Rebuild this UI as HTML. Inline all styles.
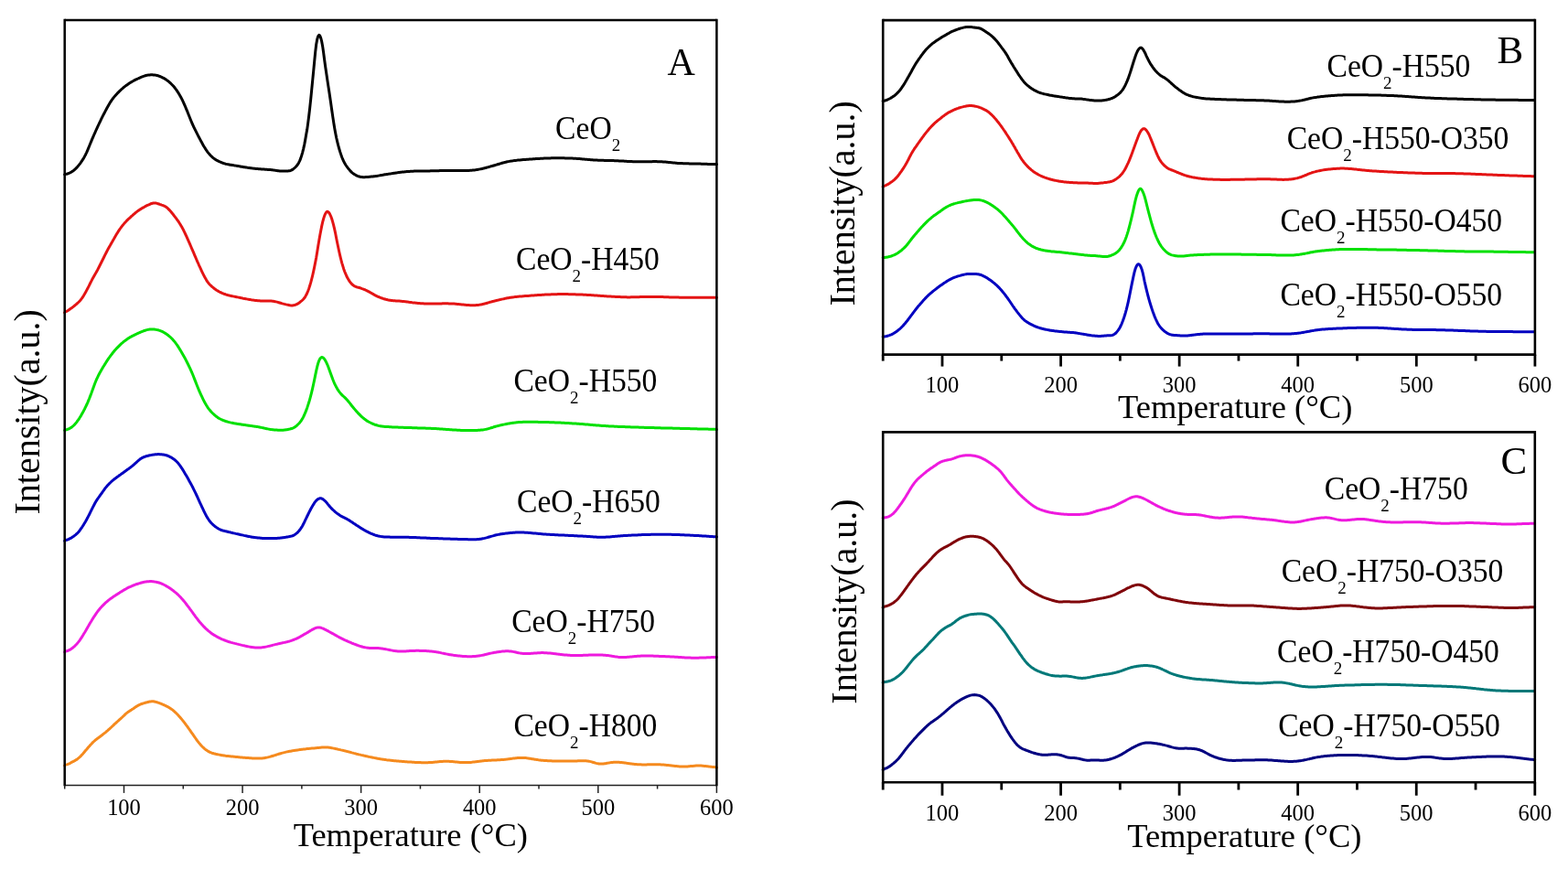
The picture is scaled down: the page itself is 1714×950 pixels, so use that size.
<!DOCTYPE html>
<html><head><meta charset="utf-8"><title>TPR profiles</title>
<style>html,body{margin:0;padding:0;background:#fff;}svg{display:block;}</style></head>
<body><svg width="1714" height="950" viewBox="0 0 1714 950" font-family="Liberation Serif, Times New Roman, serif" fill="#000">
<rect width="1714" height="950" fill="#fff"/>
<g><path d="M70.7 190.8L71.7 190.4L72.7 190.2L73.7 190.0L74.7 189.6L75.7 189.2L76.7 188.8L77.7 188.2L78.7 187.6L79.7 186.9L80.7 186.2L81.7 185.3L82.7 184.4L83.7 183.4L84.7 182.3L85.7 181.1L86.7 179.9L87.7 178.6L88.7 177.2L89.7 175.7L90.7 174.2L91.7 172.5L92.7 170.6L93.7 168.7L94.7 166.6L95.7 164.3L96.7 161.9L97.7 159.5L98.7 157.0L99.7 154.6L100.7 152.2L101.7 149.8L102.7 147.5L103.7 145.3L104.7 143.0L105.7 140.8L106.7 138.7L107.7 136.5L108.7 134.4L109.7 132.3L110.7 130.2L111.7 128.2L112.7 126.2L113.7 124.3L114.7 122.3L115.7 120.4L116.7 118.6L117.7 116.8L118.7 115.0L119.7 113.3L120.7 111.6L121.7 110.1L122.7 108.7L123.7 107.3L124.7 106.1L125.7 104.9L126.7 103.8L127.7 102.7L128.7 101.6L129.7 100.6L130.7 99.6L131.7 98.7L132.7 97.7L133.7 96.9L134.7 96.0L135.7 95.2L136.7 94.4L137.7 93.6L138.7 92.9L139.7 92.2L140.7 91.5L141.7 90.8L142.7 90.2L143.7 89.6L144.7 89.0L145.7 88.5L146.7 87.9L147.7 87.4L148.7 86.9L149.7 86.5L150.7 86.0L151.7 85.5L152.7 85.1L153.7 84.6L154.7 84.2L155.7 83.8L156.7 83.4L157.7 83.1L158.7 82.8L159.7 82.5L160.7 82.3L161.7 82.1L162.7 82.0L163.7 81.9L164.7 81.8L165.7 81.8L166.7 81.8L167.7 81.9L168.7 82.0L169.7 82.1L170.7 82.3L171.7 82.5L172.7 82.8L173.7 83.1L174.7 83.5L175.7 83.9L176.7 84.3L177.7 84.8L178.7 85.3L179.7 85.9L180.7 86.5L181.7 87.1L182.7 87.9L183.7 88.6L184.7 89.4L185.7 90.3L186.7 91.2L187.7 92.2L188.7 93.2L189.7 94.3L190.7 95.5L191.7 96.8L192.7 98.1L193.7 99.6L194.7 101.1L195.7 102.7L196.7 104.4L197.7 106.2L198.7 108.1L199.7 110.2L200.7 112.3L201.7 114.6L202.7 116.9L203.7 119.3L204.7 121.7L205.7 124.2L206.7 126.7L207.7 129.2L208.7 131.7L209.7 134.1L210.7 136.4L211.7 138.6L212.7 140.7L213.7 142.7L214.7 144.7L215.7 146.6L216.7 148.6L217.7 150.5L218.7 152.4L219.7 154.3L220.7 156.1L221.7 157.9L222.7 159.7L223.7 161.3L224.7 162.9L225.7 164.4L226.7 165.8L227.7 167.1L228.7 168.3L229.7 169.4L230.7 170.5L231.7 171.4L232.7 172.3L233.7 173.1L234.7 173.9L235.7 174.5L236.7 175.1L237.7 175.6L238.7 176.1L239.7 176.6L240.7 177.0L241.7 177.5L242.7 177.9L243.7 178.3L244.7 178.6L245.7 178.9L246.7 179.2L247.7 179.4L248.7 179.6L249.7 179.8L250.7 180.0L251.7 180.2L252.7 180.3L253.7 180.5L254.7 180.6L255.7 180.8L256.7 180.9L257.7 181.1L258.7 181.3L259.7 181.5L260.7 181.6L261.7 181.8L262.7 182.0L263.7 182.2L264.7 182.3L265.7 182.5L266.7 182.7L267.7 182.8L268.7 183.0L269.7 183.1L270.7 183.3L271.7 183.4L272.7 183.5L273.7 183.7L274.7 183.8L275.7 183.9L276.7 184.1L277.7 184.2L278.7 184.3L279.7 184.4L280.7 184.5L281.7 184.6L282.7 184.7L283.7 184.7L284.7 184.8L285.7 184.9L286.7 185.0L287.7 185.0L288.7 185.1L289.7 185.2L290.7 185.2L291.7 185.3L292.7 185.4L293.7 185.5L294.7 185.5L295.7 185.6L296.7 185.7L297.7 185.8L298.7 185.9L299.7 186.1L300.7 186.2L301.7 186.4L302.7 186.5L303.7 186.7L304.7 186.8L305.7 186.9L306.7 187.0L307.7 187.0L308.7 187.0L309.7 187.0L310.7 187.0L311.7 187.0L312.7 187.0L313.7 187.0L314.7 186.9L315.7 186.8L316.7 186.7L317.7 186.4L318.7 186.0L319.7 185.4L320.7 184.7L321.7 183.9L322.7 183.0L323.7 182.0L324.7 180.8L325.7 179.4L326.7 177.7L327.7 175.6L328.7 173.1L329.7 170.0L330.7 166.6L331.7 162.6L332.7 158.1L333.7 152.9L334.7 147.1L335.7 141.6L336.7 134.4L337.7 126.5L338.7 117.9L339.7 108.3L340.7 98.1L341.7 87.8L342.7 77.7L343.7 67.1L344.7 56.9L345.7 48.5L346.7 43.0L347.7 39.7L348.7 38.3L349.7 39.0L350.7 41.5L351.7 45.4L352.7 50.9L353.7 58.0L354.7 65.7L355.7 73.0L356.7 79.8L357.7 86.5L358.7 93.1L359.7 99.6L360.7 106.3L361.7 113.1L362.7 120.2L363.7 127.1L364.7 133.7L365.7 139.9L366.7 145.5L367.7 150.5L368.7 154.9L369.7 158.9L370.7 162.5L371.7 165.9L372.7 168.9L373.7 171.7L374.7 174.2L375.7 176.4L376.7 178.3L377.7 180.0L378.7 181.5L379.7 182.9L380.7 184.2L381.7 185.4L382.7 186.6L383.7 187.6L384.7 188.6L385.7 189.4L386.7 190.1L387.7 190.7L388.7 191.3L389.7 191.8L390.7 192.3L391.7 192.7L392.7 193.0L393.7 193.3L394.7 193.5L395.7 193.6L396.7 193.7L397.7 193.7L398.7 193.7L399.7 193.6L400.7 193.5L401.7 193.4L402.7 193.4L403.7 193.3L404.7 193.2L405.7 193.1L406.7 193.1L407.7 193.0L408.7 192.8L409.7 192.7L410.7 192.6L411.7 192.4L412.7 192.3L413.7 192.1L414.7 191.9L415.7 191.7L416.7 191.5L417.7 191.4L418.7 191.2L419.7 191.0L420.7 190.8L421.7 190.7L422.7 190.5L423.7 190.4L424.7 190.2L425.7 190.1L426.7 189.9L427.7 189.8L428.7 189.6L429.7 189.5L430.7 189.3L431.7 189.2L432.7 189.0L433.7 188.9L434.7 188.7L435.7 188.6L436.7 188.5L437.7 188.3L438.7 188.2L439.7 188.1L440.7 188.0L441.7 187.9L442.7 187.8L443.7 187.7L444.7 187.6L445.7 187.5L446.7 187.4L447.7 187.4L448.7 187.3L449.7 187.2L450.7 187.2L451.7 187.2L452.7 187.1L453.7 187.1L454.7 187.1L455.7 187.1L456.7 187.0L457.7 187.0L458.7 187.0L459.7 187.0L460.7 187.0L461.7 187.0L462.7 187.0L463.7 187.0L464.7 187.0L465.7 186.9L466.7 186.9L467.7 186.9L468.7 186.9L469.7 186.9L470.7 186.8L471.7 186.8L472.7 186.8L473.7 186.8L474.7 186.8L475.7 186.7L476.7 186.7L477.7 186.7L478.7 186.7L479.7 186.7L480.7 186.6L481.7 186.6L482.7 186.6L483.7 186.6L484.7 186.6L485.7 186.5L486.7 186.5L487.7 186.5L488.7 186.5L489.7 186.4L490.7 186.4L491.7 186.4L492.7 186.4L493.7 186.4L494.7 186.4L495.7 186.4L496.7 186.4L497.7 186.4L498.7 186.4L499.7 186.4L500.7 186.4L501.7 186.4L502.7 186.4L503.7 186.5L504.7 186.5L505.7 186.5L506.7 186.5L507.7 186.5L508.7 186.5L509.7 186.5L510.7 186.4L511.7 186.4L512.7 186.4L513.7 186.3L514.7 186.3L515.7 186.2L516.7 186.1L517.7 186.0L518.7 185.9L519.7 185.8L520.7 185.6L521.7 185.5L522.7 185.3L523.7 185.1L524.7 184.9L525.7 184.7L526.7 184.5L527.7 184.2L528.7 184.0L529.7 183.7L530.7 183.5L531.7 183.2L532.7 182.9L533.7 182.7L534.7 182.4L535.7 182.1L536.7 181.8L537.7 181.6L538.7 181.3L539.7 181.0L540.7 180.7L541.7 180.4L542.7 180.1L543.7 179.8L544.7 179.5L545.7 179.2L546.7 178.9L547.7 178.6L548.7 178.3L549.7 178.0L550.7 177.8L551.7 177.5L552.7 177.3L553.7 177.0L554.7 176.8L555.7 176.6L556.7 176.4L557.7 176.2L558.7 176.1L559.7 175.9L560.7 175.8L561.7 175.6L562.7 175.5L563.7 175.4L564.7 175.3L565.7 175.1L566.7 175.0L567.7 175.0L568.7 174.9L569.7 174.8L570.7 174.7L571.7 174.6L572.7 174.5L573.7 174.5L574.7 174.4L575.7 174.3L576.7 174.3L577.7 174.2L578.7 174.1L579.7 174.1L580.7 174.0L581.7 173.9L582.7 173.8L583.7 173.8L584.7 173.7L585.7 173.6L586.7 173.6L587.7 173.5L588.7 173.4L589.7 173.4L590.7 173.3L591.7 173.3L592.7 173.2L593.7 173.2L594.7 173.1L595.7 173.1L596.7 173.0L597.7 173.0L598.7 173.0L599.7 172.9L600.7 172.9L601.7 172.9L602.7 172.8L603.7 172.8L604.7 172.8L605.7 172.8L606.7 172.8L607.7 172.8L608.7 172.8L609.7 172.8L610.7 172.8L611.7 172.8L612.7 172.8L613.7 172.8L614.7 172.8L615.7 172.8L616.7 172.8L617.7 172.9L618.7 172.9L619.7 172.9L620.7 172.9L621.7 173.0L622.7 173.0L623.7 173.0L624.7 173.1L625.7 173.1L626.7 173.2L627.7 173.2L628.7 173.3L629.7 173.3L630.7 173.4L631.7 173.5L632.7 173.5L633.7 173.6L634.7 173.7L635.7 173.8L636.7 173.9L637.7 174.0L638.7 174.1L639.7 174.2L640.7 174.2L641.7 174.3L642.7 174.4L643.7 174.5L644.7 174.6L645.7 174.7L646.7 174.8L647.7 174.8L648.7 174.9L649.7 175.0L650.7 175.0L651.7 175.1L652.7 175.1L653.7 175.2L654.7 175.2L655.7 175.2L656.7 175.3L657.7 175.3L658.7 175.3L659.7 175.3L660.7 175.4L661.7 175.4L662.7 175.4L663.7 175.4L664.7 175.5L665.7 175.5L666.7 175.5L667.7 175.5L668.7 175.6L669.7 175.6L670.7 175.6L671.7 175.7L672.7 175.7L673.7 175.7L674.7 175.8L675.7 175.8L676.7 175.9L677.7 175.9L678.7 176.0L679.7 176.0L680.7 176.1L681.7 176.1L682.7 176.2L683.7 176.2L684.7 176.3L685.7 176.4L686.7 176.4L687.7 176.5L688.7 176.5L689.7 176.6L690.7 176.6L691.7 176.7L692.7 176.7L693.7 176.7L694.7 176.8L695.7 176.8L696.7 176.8L697.7 176.8L698.7 176.8L699.7 176.8L700.7 176.8L701.7 176.8L702.7 176.8L703.7 176.8L704.7 176.8L705.7 176.8L706.7 176.8L707.7 176.7L708.7 176.7L709.7 176.7L710.7 176.7L711.7 176.7L712.7 176.7L713.7 176.6L714.7 176.6L715.7 176.6L716.7 176.6L717.7 176.6L718.7 176.7L719.7 176.7L720.7 176.7L721.7 176.7L722.7 176.8L723.7 176.8L724.7 176.9L725.7 177.0L726.7 177.1L727.7 177.1L728.7 177.2L729.7 177.3L730.7 177.4L731.7 177.5L732.7 177.6L733.7 177.7L734.7 177.8L735.7 177.9L736.7 178.0L737.7 178.1L738.7 178.2L739.7 178.3L740.7 178.4L741.7 178.4L742.7 178.5L743.7 178.5L744.7 178.6L745.7 178.6L746.7 178.7L747.7 178.7L748.7 178.7L749.7 178.8L750.7 178.8L751.7 178.8L752.7 178.8L753.7 178.9L754.7 178.9L755.7 178.9L756.7 178.9L757.7 179.0L758.7 179.0L759.7 179.0L760.7 179.0L761.7 179.0L762.7 179.1L763.7 179.1L764.7 179.1L765.7 179.1L766.7 179.2L767.7 179.2L768.7 179.2L769.7 179.3L770.7 179.3L771.7 179.3L772.7 179.3L773.7 179.4L774.7 179.4L775.7 179.4L776.7 179.4L777.7 179.5L778.7 179.5L779.7 179.5L780.7 179.5L781.7 179.5L782.7 179.6L783.4 179.6" fill="none" stroke="#000000" stroke-width="3.0" stroke-linejoin="round" stroke-linecap="round"/>
<path d="M70.7 341.8L71.7 340.7L72.7 340.3L73.7 339.8L74.7 339.2L75.7 338.5L76.7 337.8L77.7 337.1L78.7 336.4L79.7 335.6L80.7 334.8L81.7 334.0L82.7 333.2L83.7 332.3L84.7 331.4L85.7 330.5L86.7 329.5L87.7 328.4L88.7 327.2L89.7 325.9L90.7 324.4L91.7 322.8L92.7 321.1L93.7 319.3L94.7 317.4L95.7 315.5L96.7 313.6L97.7 311.6L98.7 309.5L99.7 307.6L100.7 305.6L101.7 303.8L102.7 302.0L103.7 300.2L104.7 298.5L105.7 296.7L106.7 294.9L107.7 293.0L108.7 291.0L109.7 289.0L110.7 287.0L111.7 285.0L112.7 283.0L113.7 281.0L114.7 278.9L115.7 277.0L116.7 275.0L117.7 273.1L118.7 271.3L119.7 269.5L120.7 267.8L121.7 266.0L122.7 264.3L123.7 262.5L124.7 260.8L125.7 259.0L126.7 257.3L127.7 255.6L128.7 254.0L129.7 252.4L130.7 250.9L131.7 249.5L132.7 248.1L133.7 246.8L134.7 245.6L135.7 244.4L136.7 243.2L137.7 242.2L138.7 241.1L139.7 240.1L140.7 239.2L141.7 238.3L142.7 237.4L143.7 236.4L144.7 235.6L145.7 234.7L146.7 233.8L147.7 233.0L148.7 232.2L149.7 231.4L150.7 230.6L151.7 229.9L152.7 229.2L153.7 228.6L154.7 228.0L155.7 227.4L156.7 226.8L157.7 226.3L158.7 225.7L159.7 225.2L160.7 224.7L161.7 224.2L162.7 223.8L163.7 223.3L164.7 222.8L165.7 222.5L166.7 222.2L167.7 222.0L168.7 221.9L169.7 222.0L170.7 222.1L171.7 222.4L172.7 222.7L173.7 223.0L174.7 223.4L175.7 223.7L176.7 224.1L177.7 224.4L178.7 224.8L179.7 225.2L180.7 225.8L181.7 226.4L182.7 227.2L183.7 228.1L184.7 229.1L185.7 230.1L186.7 231.3L187.7 232.5L188.7 233.7L189.7 235.0L190.7 236.3L191.7 237.6L192.7 238.9L193.7 240.3L194.7 241.7L195.7 243.2L196.7 244.8L197.7 246.4L198.7 248.1L199.7 249.9L200.7 251.8L201.7 253.9L202.7 256.0L203.7 258.1L204.7 260.4L205.7 262.6L206.7 264.9L207.7 267.2L208.7 269.5L209.7 271.8L210.7 274.1L211.7 276.4L212.7 278.8L213.7 281.1L214.7 283.5L215.7 285.8L216.7 288.0L217.7 290.3L218.7 292.4L219.7 294.6L220.7 296.8L221.7 298.9L222.7 300.9L223.7 302.8L224.7 304.6L225.7 306.3L226.7 307.8L227.7 309.2L228.7 310.4L229.7 311.5L230.7 312.4L231.7 313.4L232.7 314.2L233.7 315.0L234.7 315.8L235.7 316.5L236.7 317.2L237.7 317.8L238.7 318.4L239.7 319.0L240.7 319.5L241.7 319.9L242.7 320.4L243.7 320.8L244.7 321.2L245.7 321.5L246.7 321.9L247.7 322.2L248.7 322.6L249.7 322.8L250.7 323.1L251.7 323.3L252.7 323.5L253.7 323.7L254.7 323.9L255.7 324.1L256.7 324.3L257.7 324.5L258.7 324.7L259.7 324.9L260.7 325.1L261.7 325.3L262.7 325.5L263.7 325.7L264.7 325.9L265.7 326.2L266.7 326.4L267.7 326.5L268.7 326.7L269.7 326.9L270.7 327.1L271.7 327.3L272.7 327.5L273.7 327.6L274.7 327.8L275.7 327.9L276.7 328.1L277.7 328.2L278.7 328.4L279.7 328.5L280.7 328.6L281.7 328.7L282.7 328.8L283.7 328.8L284.7 328.9L285.7 328.9L286.7 328.9L287.7 328.9L288.7 328.9L289.7 328.9L290.7 328.9L291.7 328.9L292.7 329.0L293.7 329.0L294.7 329.0L295.7 329.1L296.7 329.1L297.7 329.2L298.7 329.3L299.7 329.5L300.7 329.7L301.7 329.9L302.7 330.1L303.7 330.4L304.7 330.7L305.7 331.0L306.7 331.3L307.7 331.6L308.7 331.9L309.7 332.1L310.7 332.4L311.7 332.6L312.7 332.9L313.7 333.1L314.7 333.3L315.7 333.5L316.7 333.7L317.7 333.9L318.7 334.0L319.7 334.0L320.7 333.8L321.7 333.6L322.7 333.3L323.7 332.9L324.7 332.5L325.7 331.9L326.7 331.2L327.7 330.5L328.7 329.7L329.7 328.9L330.7 328.0L331.7 327.0L332.7 325.8L333.7 324.3L334.7 322.6L335.7 320.5L336.7 318.1L337.7 315.4L338.7 312.3L339.7 308.9L340.7 305.1L341.7 301.1L342.7 296.7L343.7 291.9L344.7 286.7L345.7 281.6L346.7 275.5L347.7 269.2L348.7 263.3L349.7 257.6L350.7 252.2L351.7 247.1L352.7 242.7L353.7 239.0L354.7 235.9L355.7 233.5L356.7 232.0L357.7 231.3L358.7 231.6L359.7 232.6L360.7 234.3L361.7 236.5L362.7 239.3L363.7 242.6L364.7 246.4L365.7 250.6L366.7 255.3L367.7 260.5L368.7 265.5L369.7 270.3L370.7 275.0L371.7 279.4L372.7 283.5L373.7 287.3L374.7 290.7L375.7 293.9L376.7 296.7L377.7 299.2L378.7 301.5L379.7 303.5L380.7 305.3L381.7 306.9L382.7 308.4L383.7 309.6L384.7 310.7L385.7 311.6L386.7 312.3L387.7 312.9L388.7 313.3L389.7 313.7L390.7 314.0L391.7 314.2L392.7 314.5L393.7 314.8L394.7 315.2L395.7 315.6L396.7 315.9L397.7 316.3L398.7 316.7L399.7 317.2L400.7 317.6L401.7 318.1L402.7 318.6L403.7 319.1L404.7 319.7L405.7 320.3L406.7 320.9L407.7 321.4L408.7 322.0L409.7 322.6L410.7 323.1L411.7 323.6L412.7 324.1L413.7 324.5L414.7 324.9L415.7 325.3L416.7 325.7L417.7 326.0L418.7 326.4L419.7 326.7L420.7 327.0L421.7 327.3L422.7 327.5L423.7 327.8L424.7 328.0L425.7 328.2L426.7 328.3L427.7 328.5L428.7 328.6L429.7 328.7L430.7 328.8L431.7 328.8L432.7 328.9L433.7 328.9L434.7 329.0L435.7 329.0L436.7 329.1L437.7 329.2L438.7 329.3L439.7 329.4L440.7 329.5L441.7 329.6L442.7 329.7L443.7 329.8L444.7 330.0L445.7 330.1L446.7 330.2L447.7 330.4L448.7 330.5L449.7 330.6L450.7 330.8L451.7 330.9L452.7 331.0L453.7 331.1L454.7 331.2L455.7 331.3L456.7 331.4L457.7 331.5L458.7 331.6L459.7 331.7L460.7 331.7L461.7 331.8L462.7 331.8L463.7 331.9L464.7 331.9L465.7 331.9L466.7 331.9L467.7 332.0L468.7 332.0L469.7 332.0L470.7 332.0L471.7 332.0L472.7 332.0L473.7 332.0L474.7 332.0L475.7 331.9L476.7 331.9L477.7 331.9L478.7 331.9L479.7 331.9L480.7 331.9L481.7 331.9L482.7 331.9L483.7 331.8L484.7 331.8L485.7 331.8L486.7 331.8L487.7 331.8L488.7 331.8L489.7 331.8L490.7 331.9L491.7 331.9L492.7 331.9L493.7 331.9L494.7 332.0L495.7 332.0L496.7 332.1L497.7 332.2L498.7 332.3L499.7 332.4L500.7 332.5L501.7 332.6L502.7 332.7L503.7 332.8L504.7 332.9L505.7 333.0L506.7 333.1L507.7 333.2L508.7 333.3L509.7 333.4L510.7 333.5L511.7 333.5L512.7 333.6L513.7 333.7L514.7 333.7L515.7 333.7L516.7 333.7L517.7 333.7L518.7 333.7L519.7 333.7L520.7 333.6L521.7 333.5L522.7 333.4L523.7 333.3L524.7 333.1L525.7 333.0L526.7 332.8L527.7 332.5L528.7 332.3L529.7 332.0L530.7 331.8L531.7 331.5L532.7 331.2L533.7 330.9L534.7 330.6L535.7 330.3L536.7 330.1L537.7 329.8L538.7 329.5L539.7 329.3L540.7 329.0L541.7 328.8L542.7 328.5L543.7 328.3L544.7 328.1L545.7 327.8L546.7 327.6L547.7 327.3L548.7 327.1L549.7 326.9L550.7 326.7L551.7 326.4L552.7 326.2L553.7 326.0L554.7 325.8L555.7 325.7L556.7 325.5L557.7 325.3L558.7 325.2L559.7 325.0L560.7 324.9L561.7 324.8L562.7 324.6L563.7 324.5L564.7 324.4L565.7 324.3L566.7 324.2L567.7 324.1L568.7 324.0L569.7 323.9L570.7 323.9L571.7 323.8L572.7 323.7L573.7 323.6L574.7 323.6L575.7 323.5L576.7 323.4L577.7 323.4L578.7 323.3L579.7 323.2L580.7 323.1L581.7 323.1L582.7 323.0L583.7 322.9L584.7 322.8L585.7 322.8L586.7 322.7L587.7 322.6L588.7 322.6L589.7 322.5L590.7 322.4L591.7 322.4L592.7 322.3L593.7 322.3L594.7 322.2L595.7 322.1L596.7 322.1L597.7 322.0L598.7 322.0L599.7 322.0L600.7 321.9L601.7 321.9L602.7 321.8L603.7 321.8L604.7 321.8L605.7 321.7L606.7 321.7L607.7 321.7L608.7 321.7L609.7 321.6L610.7 321.6L611.7 321.6L612.7 321.6L613.7 321.6L614.7 321.6L615.7 321.6L616.7 321.6L617.7 321.6L618.7 321.6L619.7 321.6L620.7 321.6L621.7 321.7L622.7 321.7L623.7 321.7L624.7 321.7L625.7 321.7L626.7 321.8L627.7 321.8L628.7 321.8L629.7 321.9L630.7 321.9L631.7 321.9L632.7 322.0L633.7 322.0L634.7 322.1L635.7 322.1L636.7 322.1L637.7 322.2L638.7 322.2L639.7 322.3L640.7 322.3L641.7 322.4L642.7 322.4L643.7 322.5L644.7 322.6L645.7 322.6L646.7 322.7L647.7 322.8L648.7 322.8L649.7 322.9L650.7 323.0L651.7 323.1L652.7 323.1L653.7 323.2L654.7 323.3L655.7 323.3L656.7 323.4L657.7 323.5L658.7 323.6L659.7 323.6L660.7 323.7L661.7 323.7L662.7 323.8L663.7 323.9L664.7 323.9L665.7 324.0L666.7 324.0L667.7 324.1L668.7 324.2L669.7 324.2L670.7 324.3L671.7 324.3L672.7 324.4L673.7 324.5L674.7 324.5L675.7 324.6L676.7 324.6L677.7 324.6L678.7 324.7L679.7 324.7L680.7 324.8L681.7 324.8L682.7 324.8L683.7 324.8L684.7 324.8L685.7 324.9L686.7 324.9L687.7 324.9L688.7 324.9L689.7 324.8L690.7 324.8L691.7 324.8L692.7 324.8L693.7 324.8L694.7 324.8L695.7 324.7L696.7 324.7L697.7 324.7L698.7 324.7L699.7 324.6L700.7 324.6L701.7 324.6L702.7 324.5L703.7 324.5L704.7 324.5L705.7 324.5L706.7 324.5L707.7 324.4L708.7 324.4L709.7 324.4L710.7 324.4L711.7 324.4L712.7 324.4L713.7 324.4L714.7 324.4L715.7 324.4L716.7 324.4L717.7 324.5L718.7 324.5L719.7 324.5L720.7 324.5L721.7 324.5L722.7 324.6L723.7 324.6L724.7 324.6L725.7 324.7L726.7 324.7L727.7 324.7L728.7 324.8L729.7 324.8L730.7 324.8L731.7 324.9L732.7 324.9L733.7 324.9L734.7 324.9L735.7 325.0L736.7 325.0L737.7 325.0L738.7 325.1L739.7 325.1L740.7 325.1L741.7 325.1L742.7 325.2L743.7 325.2L744.7 325.2L745.7 325.2L746.7 325.2L747.7 325.2L748.7 325.2L749.7 325.2L750.7 325.3L751.7 325.3L752.7 325.3L753.7 325.3L754.7 325.3L755.7 325.3L756.7 325.3L757.7 325.3L758.7 325.3L759.7 325.3L760.7 325.3L761.7 325.3L762.7 325.3L763.7 325.3L764.7 325.3L765.7 325.3L766.7 325.3L767.7 325.3L768.7 325.2L769.7 325.2L770.7 325.2L771.7 325.2L772.7 325.2L773.7 325.2L774.7 325.2L775.7 325.2L776.7 325.2L777.7 325.2L778.7 325.2L779.7 325.2L780.7 325.2L781.7 325.2L782.7 325.2L783.4 325.2" fill="none" stroke="#e41414" stroke-width="3.0" stroke-linejoin="round" stroke-linecap="round"/>
<path d="M70.7 470.6L71.7 470.0L72.7 469.8L73.7 469.4L74.7 469.0L75.7 468.6L76.7 468.0L77.7 467.4L78.7 466.7L79.7 465.9L80.7 465.0L81.7 463.9L82.7 462.8L83.7 461.6L84.7 460.2L85.7 458.8L86.7 457.3L87.7 455.7L88.7 454.1L89.7 452.3L90.7 450.5L91.7 448.6L92.7 446.7L93.7 444.6L94.7 442.5L95.7 440.3L96.7 437.9L97.7 435.5L98.7 432.9L99.7 430.3L100.7 427.5L101.7 424.7L102.7 422.0L103.7 419.3L104.7 416.8L105.7 414.4L106.7 412.3L107.7 410.2L108.7 408.3L109.7 406.5L110.7 404.7L111.7 403.0L112.7 401.3L113.7 399.7L114.7 398.1L115.7 396.5L116.7 394.9L117.7 393.4L118.7 391.9L119.7 390.5L120.7 389.1L121.7 387.8L122.7 386.5L123.7 385.2L124.7 384.0L125.7 382.8L126.7 381.7L127.7 380.6L128.7 379.6L129.7 378.6L130.7 377.6L131.7 376.6L132.7 375.7L133.7 374.9L134.7 374.0L135.7 373.2L136.7 372.4L137.7 371.7L138.7 371.0L139.7 370.3L140.7 369.6L141.7 369.0L142.7 368.4L143.7 367.9L144.7 367.3L145.7 366.8L146.7 366.3L147.7 365.8L148.7 365.3L149.7 364.9L150.7 364.4L151.7 364.0L152.7 363.5L153.7 363.1L154.7 362.7L155.7 362.3L156.7 361.9L157.7 361.5L158.7 361.2L159.7 360.9L160.7 360.6L161.7 360.4L162.7 360.2L163.7 360.1L164.7 360.0L165.7 360.0L166.7 360.0L167.7 360.0L168.7 360.1L169.7 360.2L170.7 360.4L171.7 360.6L172.7 360.8L173.7 361.1L174.7 361.4L175.7 361.8L176.7 362.2L177.7 362.7L178.7 363.2L179.7 363.8L180.7 364.4L181.7 365.0L182.7 365.7L183.7 366.5L184.7 367.3L185.7 368.1L186.7 369.0L187.7 370.0L188.7 371.1L189.7 372.2L190.7 373.4L191.7 374.6L192.7 376.0L193.7 377.4L194.7 378.9L195.7 380.5L196.7 382.1L197.7 383.7L198.7 385.4L199.7 387.2L200.7 389.0L201.7 390.8L202.7 392.6L203.7 394.5L204.7 396.5L205.7 398.5L206.7 400.6L207.7 402.7L208.7 404.9L209.7 407.2L210.7 409.5L211.7 412.0L212.7 414.6L213.7 417.1L214.7 419.7L215.7 422.2L216.7 424.7L217.7 427.1L218.7 429.4L219.7 431.6L220.7 433.7L221.7 435.8L222.7 437.8L223.7 439.7L224.7 441.5L225.7 443.2L226.7 444.8L227.7 446.3L228.7 447.6L229.7 448.8L230.7 450.0L231.7 451.0L232.7 452.0L233.7 452.9L234.7 453.8L235.7 454.7L236.7 455.4L237.7 456.2L238.7 456.9L239.7 457.5L240.7 458.0L241.7 458.5L242.7 459.0L243.7 459.4L244.7 459.8L245.7 460.1L246.7 460.5L247.7 460.8L248.7 461.1L249.7 461.4L250.7 461.6L251.7 461.9L252.7 462.1L253.7 462.3L254.7 462.5L255.7 462.7L256.7 462.9L257.7 463.0L258.7 463.2L259.7 463.4L260.7 463.5L261.7 463.7L262.7 463.8L263.7 464.0L264.7 464.2L265.7 464.3L266.7 464.5L267.7 464.6L268.7 464.7L269.7 464.9L270.7 465.0L271.7 465.2L272.7 465.3L273.7 465.4L274.7 465.6L275.7 465.7L276.7 465.9L277.7 466.0L278.7 466.2L279.7 466.3L280.7 466.5L281.7 466.6L282.7 466.8L283.7 467.0L284.7 467.2L285.7 467.4L286.7 467.6L287.7 467.8L288.7 468.1L289.7 468.3L290.7 468.5L291.7 468.7L292.7 468.9L293.7 469.1L294.7 469.3L295.7 469.4L296.7 469.6L297.7 469.7L298.7 469.8L299.7 469.9L300.7 470.0L301.7 470.1L302.7 470.1L303.7 470.2L304.7 470.3L305.7 470.3L306.7 470.3L307.7 470.3L308.7 470.3L309.7 470.2L310.7 470.1L311.7 470.0L312.7 469.8L313.7 469.7L314.7 469.5L315.7 469.3L316.7 469.1L317.7 468.8L318.7 468.5L319.7 468.2L320.7 467.8L321.7 467.2L322.7 466.6L323.7 465.8L324.7 465.0L325.7 464.0L326.7 463.0L327.7 461.9L328.7 460.6L329.7 459.1L330.7 457.5L331.7 455.6L332.7 453.5L333.7 451.2L334.7 448.6L335.7 445.9L336.7 442.9L337.7 439.8L338.7 436.4L339.7 432.7L340.7 428.7L341.7 424.4L342.7 419.8L343.7 415.1L344.7 410.1L345.7 405.4L346.7 401.0L347.7 397.2L348.7 394.3L349.7 392.3L350.7 391.1L351.7 390.6L352.7 390.7L353.7 391.4L354.7 392.6L355.7 394.2L356.7 396.1L357.7 398.3L358.7 400.8L359.7 403.5L360.7 406.2L361.7 409.0L362.7 411.8L363.7 414.5L364.7 417.0L365.7 419.3L366.7 421.4L367.7 423.3L368.7 425.1L369.7 426.7L370.7 428.1L371.7 429.4L372.7 430.6L373.7 431.6L374.7 432.6L375.7 433.5L376.7 434.4L377.7 435.4L378.7 436.4L379.7 437.5L380.7 438.7L381.7 439.9L382.7 441.2L383.7 442.5L384.7 443.8L385.7 445.0L386.7 446.2L387.7 447.4L388.7 448.6L389.7 449.7L390.7 450.8L391.7 451.9L392.7 452.9L393.7 453.9L394.7 454.9L395.7 455.8L396.7 456.7L397.7 457.5L398.7 458.3L399.7 459.0L400.7 459.7L401.7 460.4L402.7 461.0L403.7 461.5L404.7 462.0L405.7 462.5L406.7 463.0L407.7 463.4L408.7 463.8L409.7 464.2L410.7 464.5L411.7 464.8L412.7 465.1L413.7 465.4L414.7 465.6L415.7 465.8L416.7 466.0L417.7 466.1L418.7 466.2L419.7 466.3L420.7 466.4L421.7 466.4L422.7 466.5L423.7 466.6L424.7 466.6L425.7 466.7L426.7 466.8L427.7 466.8L428.7 466.9L429.7 466.9L430.7 467.0L431.7 467.0L432.7 467.1L433.7 467.1L434.7 467.1L435.7 467.2L436.7 467.2L437.7 467.2L438.7 467.3L439.7 467.3L440.7 467.3L441.7 467.4L442.7 467.4L443.7 467.4L444.7 467.5L445.7 467.5L446.7 467.5L447.7 467.6L448.7 467.6L449.7 467.6L450.7 467.7L451.7 467.7L452.7 467.7L453.7 467.8L454.7 467.8L455.7 467.8L456.7 467.9L457.7 467.9L458.7 467.9L459.7 468.0L460.7 468.0L461.7 468.0L462.7 468.1L463.7 468.1L464.7 468.1L465.7 468.2L466.7 468.2L467.7 468.2L468.7 468.3L469.7 468.3L470.7 468.3L471.7 468.4L472.7 468.4L473.7 468.5L474.7 468.5L475.7 468.6L476.7 468.6L477.7 468.7L478.7 468.8L479.7 468.8L480.7 468.9L481.7 469.0L482.7 469.0L483.7 469.1L484.7 469.2L485.7 469.2L486.7 469.3L487.7 469.4L488.7 469.5L489.7 469.5L490.7 469.6L491.7 469.7L492.7 469.8L493.7 469.8L494.7 469.9L495.7 470.0L496.7 470.0L497.7 470.1L498.7 470.1L499.7 470.2L500.7 470.3L501.7 470.3L502.7 470.3L503.7 470.4L504.7 470.4L505.7 470.5L506.7 470.5L507.7 470.5L508.7 470.5L509.7 470.5L510.7 470.5L511.7 470.5L512.7 470.5L513.7 470.5L514.7 470.5L515.7 470.5L516.7 470.5L517.7 470.4L518.7 470.4L519.7 470.4L520.7 470.4L521.7 470.4L522.7 470.3L523.7 470.3L524.7 470.2L525.7 470.1L526.7 470.0L527.7 469.9L528.7 469.8L529.7 469.6L530.7 469.4L531.7 469.2L532.7 468.9L533.7 468.7L534.7 468.4L535.7 468.1L536.7 467.8L537.7 467.5L538.7 467.2L539.7 466.8L540.7 466.5L541.7 466.2L542.7 465.9L543.7 465.7L544.7 465.4L545.7 465.2L546.7 464.9L547.7 464.7L548.7 464.5L549.7 464.3L550.7 464.1L551.7 463.9L552.7 463.7L553.7 463.5L554.7 463.3L555.7 463.1L556.7 463.0L557.7 462.8L558.7 462.6L559.7 462.5L560.7 462.3L561.7 462.2L562.7 462.1L563.7 461.9L564.7 461.8L565.7 461.7L566.7 461.6L567.7 461.6L568.7 461.5L569.7 461.4L570.7 461.4L571.7 461.3L572.7 461.3L573.7 461.3L574.7 461.2L575.7 461.2L576.7 461.2L577.7 461.2L578.7 461.2L579.7 461.2L580.7 461.2L581.7 461.2L582.7 461.2L583.7 461.2L584.7 461.3L585.7 461.3L586.7 461.3L587.7 461.3L588.7 461.4L589.7 461.4L590.7 461.4L591.7 461.4L592.7 461.5L593.7 461.5L594.7 461.5L595.7 461.5L596.7 461.6L597.7 461.6L598.7 461.6L599.7 461.6L600.7 461.7L601.7 461.7L602.7 461.7L603.7 461.8L604.7 461.8L605.7 461.8L606.7 461.9L607.7 461.9L608.7 461.9L609.7 462.0L610.7 462.0L611.7 462.1L612.7 462.1L613.7 462.2L614.7 462.2L615.7 462.3L616.7 462.3L617.7 462.4L618.7 462.4L619.7 462.5L620.7 462.6L621.7 462.6L622.7 462.7L623.7 462.7L624.7 462.8L625.7 462.9L626.7 462.9L627.7 463.0L628.7 463.1L629.7 463.1L630.7 463.2L631.7 463.3L632.7 463.3L633.7 463.4L634.7 463.5L635.7 463.5L636.7 463.6L637.7 463.7L638.7 463.8L639.7 463.9L640.7 464.0L641.7 464.0L642.7 464.1L643.7 464.2L644.7 464.3L645.7 464.4L646.7 464.5L647.7 464.6L648.7 464.7L649.7 464.7L650.7 464.8L651.7 464.9L652.7 465.0L653.7 465.1L654.7 465.1L655.7 465.2L656.7 465.3L657.7 465.4L658.7 465.4L659.7 465.5L660.7 465.6L661.7 465.6L662.7 465.7L663.7 465.8L664.7 465.8L665.7 465.9L666.7 465.9L667.7 466.0L668.7 466.0L669.7 466.1L670.7 466.1L671.7 466.2L672.7 466.2L673.7 466.3L674.7 466.3L675.7 466.4L676.7 466.4L677.7 466.4L678.7 466.5L679.7 466.5L680.7 466.6L681.7 466.6L682.7 466.6L683.7 466.7L684.7 466.7L685.7 466.7L686.7 466.8L687.7 466.8L688.7 466.8L689.7 466.9L690.7 466.9L691.7 466.9L692.7 467.0L693.7 467.0L694.7 467.0L695.7 467.1L696.7 467.1L697.7 467.1L698.7 467.2L699.7 467.2L700.7 467.2L701.7 467.3L702.7 467.3L703.7 467.3L704.7 467.4L705.7 467.4L706.7 467.4L707.7 467.4L708.7 467.5L709.7 467.5L710.7 467.5L711.7 467.6L712.7 467.6L713.7 467.6L714.7 467.6L715.7 467.7L716.7 467.7L717.7 467.7L718.7 467.8L719.7 467.8L720.7 467.8L721.7 467.8L722.7 467.9L723.7 467.9L724.7 467.9L725.7 467.9L726.7 468.0L727.7 468.0L728.7 468.0L729.7 468.0L730.7 468.0L731.7 468.1L732.7 468.1L733.7 468.1L734.7 468.1L735.7 468.2L736.7 468.2L737.7 468.2L738.7 468.2L739.7 468.3L740.7 468.3L741.7 468.3L742.7 468.3L743.7 468.4L744.7 468.4L745.7 468.4L746.7 468.4L747.7 468.5L748.7 468.5L749.7 468.5L750.7 468.5L751.7 468.6L752.7 468.6L753.7 468.6L754.7 468.7L755.7 468.7L756.7 468.7L757.7 468.7L758.7 468.8L759.7 468.8L760.7 468.8L761.7 468.8L762.7 468.9L763.7 468.9L764.7 468.9L765.7 468.9L766.7 469.0L767.7 469.0L768.7 469.0L769.7 469.0L770.7 469.1L771.7 469.1L772.7 469.1L773.7 469.1L774.7 469.2L775.7 469.2L776.7 469.2L777.7 469.3L778.7 469.3L779.7 469.3L780.7 469.3L781.7 469.3L782.7 469.4L783.4 469.4" fill="none" stroke="#00e000" stroke-width="3.0" stroke-linejoin="round" stroke-linecap="round"/>
<path d="M70.7 591.4L71.7 590.6L72.7 590.3L73.7 590.0L74.7 589.6L75.7 589.1L76.7 588.6L77.7 588.1L78.7 587.5L79.7 586.8L80.7 586.2L81.7 585.4L82.7 584.6L83.7 583.7L84.7 582.8L85.7 581.7L86.7 580.5L87.7 579.2L88.7 577.7L89.7 576.3L90.7 574.7L91.7 573.1L92.7 571.4L93.7 569.7L94.7 567.9L95.7 566.1L96.7 564.1L97.7 562.2L98.7 560.2L99.7 558.2L100.7 556.1L101.7 554.1L102.7 552.2L103.7 550.3L104.7 548.5L105.7 546.9L106.7 545.4L107.7 544.0L108.7 542.6L109.7 541.2L110.7 539.8L111.7 538.4L112.7 537.0L113.7 535.6L114.7 534.2L115.7 532.9L116.7 531.7L117.7 530.6L118.7 529.5L119.7 528.4L120.7 527.5L121.7 526.5L122.7 525.6L123.7 524.8L124.7 524.0L125.7 523.3L126.7 522.5L127.7 521.8L128.7 521.1L129.7 520.3L130.7 519.6L131.7 518.9L132.7 518.1L133.7 517.4L134.7 516.7L135.7 516.0L136.7 515.3L137.7 514.5L138.7 513.8L139.7 513.1L140.7 512.4L141.7 511.6L142.7 510.9L143.7 510.1L144.7 509.3L145.7 508.5L146.7 507.6L147.7 506.7L148.7 505.8L149.7 504.9L150.7 504.0L151.7 503.1L152.7 502.3L153.7 501.6L154.7 500.9L155.7 500.4L156.7 499.9L157.7 499.5L158.7 499.1L159.7 498.8L160.7 498.5L161.7 498.3L162.7 498.0L163.7 497.8L164.7 497.6L165.7 497.4L166.7 497.2L167.7 497.1L168.7 496.9L169.7 496.8L170.7 496.7L171.7 496.7L172.7 496.6L173.7 496.6L174.7 496.7L175.7 496.7L176.7 496.8L177.7 496.9L178.7 497.0L179.7 497.2L180.7 497.4L181.7 497.7L182.7 498.0L183.7 498.4L184.7 498.8L185.7 499.3L186.7 499.8L187.7 500.4L188.7 501.1L189.7 501.7L190.7 502.5L191.7 503.3L192.7 504.2L193.7 505.2L194.7 506.3L195.7 507.6L196.7 508.9L197.7 510.3L198.7 511.8L199.7 513.4L200.7 515.0L201.7 516.7L202.7 518.4L203.7 520.1L204.7 521.8L205.7 523.6L206.7 525.4L207.7 527.2L208.7 529.0L209.7 530.9L210.7 532.8L211.7 534.8L212.7 536.8L213.7 538.9L214.7 541.0L215.7 543.2L216.7 545.4L217.7 547.6L218.7 549.8L219.7 551.9L220.7 554.1L221.7 556.2L222.7 558.3L223.7 560.3L224.7 562.3L225.7 564.2L226.7 565.9L227.7 567.5L228.7 569.0L229.7 570.3L230.7 571.5L231.7 572.5L232.7 573.5L233.7 574.3L234.7 575.2L235.7 575.9L236.7 576.7L237.7 577.3L238.7 578.0L239.7 578.5L240.7 579.0L241.7 579.4L242.7 579.8L243.7 580.1L244.7 580.3L245.7 580.6L246.7 580.8L247.7 581.0L248.7 581.2L249.7 581.5L250.7 581.7L251.7 581.9L252.7 582.2L253.7 582.4L254.7 582.7L255.7 582.9L256.7 583.1L257.7 583.4L258.7 583.6L259.7 583.8L260.7 584.0L261.7 584.2L262.7 584.5L263.7 584.7L264.7 584.9L265.7 585.1L266.7 585.4L267.7 585.6L268.7 585.8L269.7 586.0L270.7 586.2L271.7 586.5L272.7 586.6L273.7 586.8L274.7 587.0L275.7 587.2L276.7 587.3L277.7 587.5L278.7 587.6L279.7 587.7L280.7 587.8L281.7 588.0L282.7 588.1L283.7 588.1L284.7 588.2L285.7 588.3L286.7 588.4L287.7 588.4L288.7 588.5L289.7 588.5L290.7 588.6L291.7 588.6L292.7 588.6L293.7 588.6L294.7 588.6L295.7 588.6L296.7 588.6L297.7 588.6L298.7 588.5L299.7 588.5L300.7 588.5L301.7 588.4L302.7 588.4L303.7 588.3L304.7 588.3L305.7 588.2L306.7 588.1L307.7 588.0L308.7 587.8L309.7 587.7L310.7 587.5L311.7 587.4L312.7 587.2L313.7 587.0L314.7 586.9L315.7 586.7L316.7 586.5L317.7 586.3L318.7 586.1L319.7 585.8L320.7 585.3L321.7 584.8L322.7 584.2L323.7 583.4L324.7 582.6L325.7 581.6L326.7 580.5L327.7 579.3L328.7 577.9L329.7 576.4L330.7 574.7L331.7 572.8L332.7 570.8L333.7 568.7L334.7 566.6L335.7 564.5L336.7 562.5L337.7 560.4L338.7 558.5L339.7 556.5L340.7 554.7L341.7 553.0L342.7 551.4L343.7 549.7L344.7 548.4L345.7 547.2L346.7 546.3L347.7 545.6L348.7 545.1L349.7 544.8L350.7 544.8L351.7 545.0L352.7 545.6L353.7 546.3L354.7 547.1L355.7 548.0L356.7 549.1L357.7 550.3L358.7 551.6L359.7 552.8L360.7 554.0L361.7 555.1L362.7 556.1L363.7 557.1L364.7 558.0L365.7 558.9L366.7 559.8L367.7 560.6L368.7 561.4L369.7 562.1L370.7 562.8L371.7 563.5L372.7 564.1L373.7 564.6L374.7 565.2L375.7 565.7L376.7 566.2L377.7 566.7L378.7 567.2L379.7 567.7L380.7 568.3L381.7 568.9L382.7 569.5L383.7 570.2L384.7 570.8L385.7 571.5L386.7 572.2L387.7 572.8L388.7 573.5L389.7 574.2L390.7 574.8L391.7 575.4L392.7 576.1L393.7 576.7L394.7 577.4L395.7 578.0L396.7 578.6L397.7 579.2L398.7 579.8L399.7 580.4L400.7 580.9L401.7 581.4L402.7 581.9L403.7 582.4L404.7 582.9L405.7 583.3L406.7 583.7L407.7 584.1L408.7 584.5L409.7 584.9L410.7 585.2L411.7 585.5L412.7 585.8L413.7 586.0L414.7 586.2L415.7 586.4L416.7 586.6L417.7 586.7L418.7 586.8L419.7 586.9L420.7 586.9L421.7 587.0L422.7 587.0L423.7 587.1L424.7 587.1L425.7 587.1L426.7 587.2L427.7 587.2L428.7 587.2L429.7 587.2L430.7 587.3L431.7 587.3L432.7 587.3L433.7 587.2L434.7 587.2L435.7 587.2L436.7 587.2L437.7 587.2L438.7 587.2L439.7 587.2L440.7 587.2L441.7 587.2L442.7 587.2L443.7 587.3L444.7 587.3L445.7 587.3L446.7 587.3L447.7 587.4L448.7 587.4L449.7 587.4L450.7 587.5L451.7 587.5L452.7 587.6L453.7 587.6L454.7 587.6L455.7 587.7L456.7 587.7L457.7 587.8L458.7 587.8L459.7 587.9L460.7 587.9L461.7 588.0L462.7 588.0L463.7 588.1L464.7 588.1L465.7 588.1L466.7 588.2L467.7 588.2L468.7 588.3L469.7 588.3L470.7 588.4L471.7 588.4L472.7 588.4L473.7 588.5L474.7 588.5L475.7 588.5L476.7 588.6L477.7 588.6L478.7 588.6L479.7 588.7L480.7 588.7L481.7 588.8L482.7 588.8L483.7 588.8L484.7 588.9L485.7 588.9L486.7 588.9L487.7 589.0L488.7 589.0L489.7 589.1L490.7 589.1L491.7 589.1L492.7 589.2L493.7 589.2L494.7 589.2L495.7 589.2L496.7 589.3L497.7 589.3L498.7 589.3L499.7 589.3L500.7 589.4L501.7 589.4L502.7 589.4L503.7 589.4L504.7 589.4L505.7 589.5L506.7 589.5L507.7 589.5L508.7 589.6L509.7 589.6L510.7 589.6L511.7 589.7L512.7 589.7L513.7 589.7L514.7 589.8L515.7 589.8L516.7 589.8L517.7 589.8L518.7 589.8L519.7 589.7L520.7 589.7L521.7 589.6L522.7 589.6L523.7 589.5L524.7 589.3L525.7 589.2L526.7 589.0L527.7 588.8L528.7 588.6L529.7 588.4L530.7 588.1L531.7 587.9L532.7 587.6L533.7 587.3L534.7 587.0L535.7 586.7L536.7 586.4L537.7 586.1L538.7 585.9L539.7 585.6L540.7 585.3L541.7 585.0L542.7 584.8L543.7 584.6L544.7 584.4L545.7 584.2L546.7 584.0L547.7 583.8L548.7 583.7L549.7 583.5L550.7 583.4L551.7 583.3L552.7 583.1L553.7 583.0L554.7 582.9L555.7 582.8L556.7 582.7L557.7 582.6L558.7 582.5L559.7 582.4L560.7 582.3L561.7 582.3L562.7 582.2L563.7 582.1L564.7 582.1L565.7 582.1L566.7 582.0L567.7 582.0L568.7 582.0L569.7 582.0L570.7 582.0L571.7 582.1L572.7 582.1L573.7 582.2L574.7 582.2L575.7 582.3L576.7 582.3L577.7 582.4L578.7 582.5L579.7 582.6L580.7 582.7L581.7 582.8L582.7 582.9L583.7 582.9L584.7 583.0L585.7 583.1L586.7 583.2L587.7 583.3L588.7 583.4L589.7 583.5L590.7 583.6L591.7 583.7L592.7 583.8L593.7 583.9L594.7 584.0L595.7 584.0L596.7 584.1L597.7 584.2L598.7 584.2L599.7 584.3L600.7 584.3L601.7 584.4L602.7 584.5L603.7 584.5L604.7 584.6L605.7 584.6L606.7 584.7L607.7 584.7L608.7 584.8L609.7 584.8L610.7 584.9L611.7 584.9L612.7 585.0L613.7 585.0L614.7 585.0L615.7 585.1L616.7 585.1L617.7 585.2L618.7 585.2L619.7 585.3L620.7 585.3L621.7 585.4L622.7 585.4L623.7 585.5L624.7 585.5L625.7 585.6L626.7 585.6L627.7 585.7L628.7 585.7L629.7 585.8L630.7 585.8L631.7 585.9L632.7 585.9L633.7 586.0L634.7 586.0L635.7 586.1L636.7 586.1L637.7 586.2L638.7 586.2L639.7 586.3L640.7 586.3L641.7 586.4L642.7 586.5L643.7 586.5L644.7 586.6L645.7 586.7L646.7 586.8L647.7 586.8L648.7 586.9L649.7 587.0L650.7 587.1L651.7 587.1L652.7 587.2L653.7 587.2L654.7 587.2L655.7 587.3L656.7 587.3L657.7 587.3L658.7 587.3L659.7 587.3L660.7 587.2L661.7 587.2L662.7 587.1L663.7 587.1L664.7 587.0L665.7 587.0L666.7 586.9L667.7 586.8L668.7 586.7L669.7 586.6L670.7 586.5L671.7 586.4L672.7 586.3L673.7 586.3L674.7 586.2L675.7 586.1L676.7 586.0L677.7 585.9L678.7 585.8L679.7 585.8L680.7 585.7L681.7 585.6L682.7 585.6L683.7 585.5L684.7 585.5L685.7 585.4L686.7 585.3L687.7 585.3L688.7 585.2L689.7 585.2L690.7 585.1L691.7 585.1L692.7 585.0L693.7 585.0L694.7 584.9L695.7 584.9L696.7 584.9L697.7 584.8L698.7 584.8L699.7 584.7L700.7 584.7L701.7 584.6L702.7 584.6L703.7 584.6L704.7 584.5L705.7 584.5L706.7 584.5L707.7 584.4L708.7 584.4L709.7 584.4L710.7 584.4L711.7 584.3L712.7 584.3L713.7 584.3L714.7 584.3L715.7 584.3L716.7 584.2L717.7 584.2L718.7 584.2L719.7 584.2L720.7 584.2L721.7 584.2L722.7 584.2L723.7 584.2L724.7 584.2L725.7 584.2L726.7 584.2L727.7 584.2L728.7 584.2L729.7 584.3L730.7 584.3L731.7 584.3L732.7 584.3L733.7 584.3L734.7 584.4L735.7 584.4L736.7 584.4L737.7 584.5L738.7 584.5L739.7 584.5L740.7 584.6L741.7 584.6L742.7 584.6L743.7 584.7L744.7 584.7L745.7 584.8L746.7 584.8L747.7 584.8L748.7 584.9L749.7 584.9L750.7 585.0L751.7 585.0L752.7 585.1L753.7 585.1L754.7 585.2L755.7 585.2L756.7 585.3L757.7 585.3L758.7 585.4L759.7 585.4L760.7 585.5L761.7 585.5L762.7 585.6L763.7 585.6L764.7 585.7L765.7 585.8L766.7 585.8L767.7 585.9L768.7 586.0L769.7 586.0L770.7 586.1L771.7 586.1L772.7 586.2L773.7 586.3L774.7 586.3L775.7 586.4L776.7 586.5L777.7 586.5L778.7 586.6L779.7 586.7L780.7 586.7L781.7 586.8L782.7 586.8L783.4 586.9" fill="none" stroke="#0000c0" stroke-width="3.0" stroke-linejoin="round" stroke-linecap="round"/>
<path d="M70.7 712.8L71.7 712.0L72.7 711.7L73.7 711.5L74.7 711.1L75.7 710.6L76.7 710.1L77.7 709.5L78.7 708.8L79.7 708.0L80.7 707.2L81.7 706.3L82.7 705.3L83.7 704.3L84.7 703.1L85.7 701.9L86.7 700.6L87.7 699.2L88.7 697.7L89.7 696.1L90.7 694.5L91.7 692.8L92.7 691.2L93.7 689.5L94.7 687.7L95.7 686.0L96.7 684.3L97.7 682.5L98.7 680.8L99.7 679.2L100.7 677.5L101.7 675.9L102.7 674.3L103.7 672.8L104.7 671.3L105.7 669.9L106.7 668.5L107.7 667.2L108.7 666.0L109.7 664.8L110.7 663.7L111.7 662.6L112.7 661.6L113.7 660.6L114.7 659.6L115.7 658.7L116.7 657.8L117.7 657.0L118.7 656.2L119.7 655.4L120.7 654.6L121.7 653.9L122.7 653.2L123.7 652.5L124.7 651.8L125.7 651.2L126.7 650.5L127.7 649.9L128.7 649.2L129.7 648.6L130.7 648.0L131.7 647.3L132.7 646.7L133.7 646.1L134.7 645.5L135.7 644.9L136.7 644.3L137.7 643.8L138.7 643.2L139.7 642.7L140.7 642.2L141.7 641.7L142.7 641.3L143.7 640.8L144.7 640.4L145.7 640.0L146.7 639.6L147.7 639.2L148.7 638.8L149.7 638.5L150.7 638.2L151.7 637.9L152.7 637.6L153.7 637.3L154.7 637.0L155.7 636.7L156.7 636.5L157.7 636.3L158.7 636.1L159.7 636.0L160.7 635.8L161.7 635.7L162.7 635.7L163.7 635.6L164.7 635.6L165.7 635.6L166.7 635.7L167.7 635.8L168.7 635.9L169.7 636.1L170.7 636.3L171.7 636.5L172.7 636.7L173.7 637.0L174.7 637.3L175.7 637.7L176.7 638.1L177.7 638.5L178.7 639.0L179.7 639.5L180.7 640.0L181.7 640.6L182.7 641.2L183.7 641.8L184.7 642.4L185.7 643.1L186.7 643.8L187.7 644.5L188.7 645.2L189.7 646.0L190.7 646.8L191.7 647.6L192.7 648.4L193.7 649.3L194.7 650.2L195.7 651.2L196.7 652.2L197.7 653.3L198.7 654.4L199.7 655.5L200.7 656.7L201.7 657.9L202.7 659.2L203.7 660.5L204.7 661.8L205.7 663.1L206.7 664.4L207.7 665.8L208.7 667.1L209.7 668.5L210.7 669.9L211.7 671.3L212.7 672.7L213.7 674.1L214.7 675.4L215.7 676.7L216.7 678.0L217.7 679.3L218.7 680.5L219.7 681.6L220.7 682.7L221.7 683.8L222.7 684.9L223.7 685.9L224.7 686.9L225.7 687.8L226.7 688.7L227.7 689.6L228.7 690.4L229.7 691.2L230.7 692.0L231.7 692.7L232.7 693.4L233.7 694.0L234.7 694.7L235.7 695.2L236.7 695.8L237.7 696.4L238.7 696.9L239.7 697.4L240.7 697.9L241.7 698.3L242.7 698.8L243.7 699.2L244.7 699.6L245.7 700.0L246.7 700.4L247.7 700.8L248.7 701.1L249.7 701.5L250.7 701.8L251.7 702.1L252.7 702.4L253.7 702.6L254.7 702.9L255.7 703.1L256.7 703.4L257.7 703.6L258.7 703.9L259.7 704.1L260.7 704.4L261.7 704.6L262.7 704.9L263.7 705.1L264.7 705.4L265.7 705.6L266.7 705.8L267.7 706.1L268.7 706.3L269.7 706.5L270.7 706.7L271.7 706.9L272.7 707.1L273.7 707.3L274.7 707.5L275.7 707.6L276.7 707.7L277.7 707.8L278.7 707.9L279.7 708.0L280.7 708.0L281.7 708.0L282.7 708.0L283.7 708.0L284.7 707.9L285.7 707.9L286.7 707.7L287.7 707.6L288.7 707.4L289.7 707.3L290.7 707.1L291.7 706.9L292.7 706.6L293.7 706.4L294.7 706.2L295.7 705.9L296.7 705.7L297.7 705.4L298.7 705.1L299.7 704.9L300.7 704.6L301.7 704.4L302.7 704.2L303.7 703.9L304.7 703.7L305.7 703.5L306.7 703.3L307.7 703.1L308.7 702.8L309.7 702.6L310.7 702.4L311.7 702.2L312.7 701.9L313.7 701.7L314.7 701.4L315.7 701.2L316.7 700.9L317.7 700.6L318.7 700.2L319.7 699.9L320.7 699.5L321.7 699.1L322.7 698.7L323.7 698.3L324.7 697.8L325.7 697.3L326.7 696.8L327.7 696.3L328.7 695.7L329.7 695.1L330.7 694.6L331.7 694.0L332.7 693.4L333.7 692.8L334.7 692.3L335.7 691.7L336.7 691.1L337.7 690.5L338.7 689.9L339.7 689.3L340.7 688.7L341.7 688.2L342.7 687.6L343.7 687.1L344.7 686.7L345.7 686.3L346.7 686.1L347.7 686.0L348.7 685.9L349.7 686.0L350.7 686.2L351.7 686.6L352.7 686.9L353.7 687.4L354.7 687.9L355.7 688.4L356.7 688.9L357.7 689.4L358.7 689.9L359.7 690.5L360.7 691.0L361.7 691.6L362.7 692.1L363.7 692.7L364.7 693.2L365.7 693.8L366.7 694.4L367.7 694.9L368.7 695.5L369.7 696.0L370.7 696.6L371.7 697.1L372.7 697.6L373.7 698.1L374.7 698.6L375.7 699.1L376.7 699.6L377.7 700.0L378.7 700.5L379.7 700.9L380.7 701.4L381.7 701.8L382.7 702.2L383.7 702.6L384.7 703.1L385.7 703.5L386.7 703.9L387.7 704.2L388.7 704.6L389.7 705.0L390.7 705.4L391.7 705.7L392.7 706.1L393.7 706.4L394.7 706.7L395.7 707.0L396.7 707.3L397.7 707.5L398.7 707.7L399.7 707.9L400.7 708.1L401.7 708.2L402.7 708.3L403.7 708.4L404.7 708.4L405.7 708.4L406.7 708.4L407.7 708.4L408.7 708.4L409.7 708.4L410.7 708.4L411.7 708.5L412.7 708.5L413.7 708.6L414.7 708.7L415.7 708.8L416.7 708.9L417.7 709.0L418.7 709.2L419.7 709.4L420.7 709.5L421.7 709.7L422.7 709.9L423.7 710.1L424.7 710.3L425.7 710.5L426.7 710.7L427.7 710.9L428.7 711.1L429.7 711.3L430.7 711.4L431.7 711.6L432.7 711.7L433.7 711.8L434.7 711.9L435.7 712.0L436.7 712.0L437.7 712.0L438.7 712.0L439.7 712.0L440.7 712.0L441.7 712.0L442.7 711.9L443.7 711.9L444.7 711.8L445.7 711.8L446.7 711.7L447.7 711.6L448.7 711.6L449.7 711.5L450.7 711.5L451.7 711.4L452.7 711.4L453.7 711.4L454.7 711.3L455.7 711.3L456.7 711.3L457.7 711.3L458.7 711.4L459.7 711.4L460.7 711.4L461.7 711.4L462.7 711.5L463.7 711.5L464.7 711.6L465.7 711.6L466.7 711.7L467.7 711.7L468.7 711.8L469.7 711.9L470.7 712.0L471.7 712.1L472.7 712.2L473.7 712.3L474.7 712.4L475.7 712.6L476.7 712.7L477.7 712.9L478.7 713.0L479.7 713.2L480.7 713.4L481.7 713.6L482.7 713.9L483.7 714.1L484.7 714.3L485.7 714.5L486.7 714.7L487.7 714.9L488.7 715.1L489.7 715.3L490.7 715.5L491.7 715.7L492.7 715.8L493.7 716.0L494.7 716.1L495.7 716.3L496.7 716.4L497.7 716.5L498.7 716.7L499.7 716.8L500.7 716.9L501.7 717.0L502.7 717.1L503.7 717.2L504.7 717.3L505.7 717.4L506.7 717.5L507.7 717.5L508.7 717.6L509.7 717.6L510.7 717.7L511.7 717.7L512.7 717.7L513.7 717.7L514.7 717.7L515.7 717.7L516.7 717.6L517.7 717.6L518.7 717.5L519.7 717.4L520.7 717.3L521.7 717.2L522.7 717.1L523.7 717.0L524.7 716.8L525.7 716.6L526.7 716.4L527.7 716.2L528.7 716.0L529.7 715.7L530.7 715.5L531.7 715.3L532.7 715.0L533.7 714.8L534.7 714.5L535.7 714.3L536.7 714.1L537.7 713.9L538.7 713.7L539.7 713.5L540.7 713.3L541.7 713.2L542.7 713.0L543.7 712.8L544.7 712.7L545.7 712.5L546.7 712.4L547.7 712.3L548.7 712.1L549.7 712.0L550.7 712.0L551.7 711.9L552.7 711.8L553.7 711.8L554.7 711.8L555.7 711.8L556.7 711.9L557.7 712.0L558.7 712.1L559.7 712.2L560.7 712.4L561.7 712.6L562.7 712.8L563.7 713.0L564.7 713.3L565.7 713.5L566.7 713.7L567.7 713.9L568.7 714.1L569.7 714.2L570.7 714.3L571.7 714.4L572.7 714.5L573.7 714.5L574.7 714.5L575.7 714.5L576.7 714.5L577.7 714.5L578.7 714.4L579.7 714.4L580.7 714.3L581.7 714.3L582.7 714.2L583.7 714.1L584.7 714.0L585.7 714.0L586.7 713.9L587.7 713.8L588.7 713.8L589.7 713.7L590.7 713.7L591.7 713.6L592.7 713.6L593.7 713.6L594.7 713.7L595.7 713.7L596.7 713.7L597.7 713.8L598.7 713.9L599.7 713.9L600.7 714.0L601.7 714.1L602.7 714.2L603.7 714.3L604.7 714.4L605.7 714.6L606.7 714.7L607.7 714.8L608.7 714.9L609.7 715.1L610.7 715.2L611.7 715.3L612.7 715.4L613.7 715.5L614.7 715.7L615.7 715.8L616.7 715.9L617.7 716.0L618.7 716.1L619.7 716.1L620.7 716.2L621.7 716.3L622.7 716.3L623.7 716.4L624.7 716.4L625.7 716.5L626.7 716.5L627.7 716.5L628.7 716.5L629.7 716.5L630.7 716.5L631.7 716.5L632.7 716.5L633.7 716.5L634.7 716.4L635.7 716.4L636.7 716.4L637.7 716.3L638.7 716.3L639.7 716.3L640.7 716.2L641.7 716.2L642.7 716.2L643.7 716.1L644.7 716.1L645.7 716.1L646.7 716.0L647.7 716.0L648.7 716.0L649.7 716.0L650.7 716.0L651.7 716.0L652.7 716.0L653.7 716.0L654.7 716.0L655.7 716.0L656.7 716.0L657.7 716.1L658.7 716.1L659.7 716.2L660.7 716.2L661.7 716.3L662.7 716.4L663.7 716.5L664.7 716.6L665.7 716.7L666.7 716.9L667.7 717.0L668.7 717.2L669.7 717.4L670.7 717.5L671.7 717.7L672.7 717.9L673.7 718.0L674.7 718.1L675.7 718.3L676.7 718.4L677.7 718.4L678.7 718.5L679.7 718.5L680.7 718.5L681.7 718.5L682.7 718.5L683.7 718.5L684.7 718.4L685.7 718.3L686.7 718.3L687.7 718.2L688.7 718.1L689.7 718.0L690.7 717.9L691.7 717.8L692.7 717.7L693.7 717.6L694.7 717.5L695.7 717.4L696.7 717.3L697.7 717.3L698.7 717.2L699.7 717.2L700.7 717.1L701.7 717.1L702.7 717.1L703.7 717.0L704.7 717.0L705.7 717.0L706.7 717.0L707.7 717.0L708.7 717.0L709.7 717.1L710.7 717.1L711.7 717.1L712.7 717.1L713.7 717.1L714.7 717.2L715.7 717.2L716.7 717.2L717.7 717.2L718.7 717.3L719.7 717.3L720.7 717.4L721.7 717.4L722.7 717.4L723.7 717.5L724.7 717.5L725.7 717.6L726.7 717.6L727.7 717.7L728.7 717.7L729.7 717.8L730.7 717.8L731.7 717.8L732.7 717.9L733.7 717.9L734.7 718.0L735.7 718.0L736.7 718.1L737.7 718.2L738.7 718.2L739.7 718.3L740.7 718.3L741.7 718.4L742.7 718.5L743.7 718.5L744.7 718.6L745.7 718.7L746.7 718.7L747.7 718.8L748.7 718.9L749.7 718.9L750.7 719.0L751.7 719.0L752.7 719.1L753.7 719.1L754.7 719.1L755.7 719.2L756.7 719.2L757.7 719.2L758.7 719.2L759.7 719.2L760.7 719.2L761.7 719.2L762.7 719.2L763.7 719.2L764.7 719.1L765.7 719.1L766.7 719.1L767.7 719.0L768.7 719.0L769.7 719.0L770.7 718.9L771.7 718.9L772.7 718.8L773.7 718.8L774.7 718.7L775.7 718.7L776.7 718.7L777.7 718.6L778.7 718.6L779.7 718.6L780.7 718.5L781.7 718.5L782.7 718.5L783.4 718.4" fill="none" stroke="#ee1ade" stroke-width="3.0" stroke-linejoin="round" stroke-linecap="round"/>
<path d="M70.7 837.0L71.7 836.1L72.7 835.9L73.7 835.6L74.7 835.2L75.7 834.8L76.7 834.3L77.7 833.7L78.7 833.2L79.7 832.7L80.7 832.1L81.7 831.6L82.7 831.0L83.7 830.4L84.7 829.7L85.7 828.9L86.7 828.0L87.7 827.1L88.7 826.1L89.7 825.0L90.7 823.9L91.7 822.7L92.7 821.5L93.7 820.3L94.7 819.2L95.7 818.0L96.7 816.8L97.7 815.7L98.7 814.5L99.7 813.5L100.7 812.4L101.7 811.4L102.7 810.5L103.7 809.6L104.7 808.7L105.7 808.0L106.7 807.2L107.7 806.5L108.7 805.8L109.7 805.0L110.7 804.3L111.7 803.5L112.7 802.7L113.7 801.9L114.7 801.1L115.7 800.3L116.7 799.4L117.7 798.6L118.7 797.7L119.7 796.8L120.7 795.9L121.7 795.0L122.7 794.0L123.7 793.1L124.7 792.1L125.7 791.2L126.7 790.3L127.7 789.4L128.7 788.5L129.7 787.6L130.7 786.7L131.7 785.8L132.7 784.9L133.7 784.0L134.7 783.0L135.7 782.1L136.7 781.1L137.7 780.2L138.7 779.4L139.7 778.6L140.7 777.9L141.7 777.2L142.7 776.6L143.7 776.0L144.7 775.3L145.7 774.7L146.7 774.0L147.7 773.3L148.7 772.6L149.7 772.0L150.7 771.4L151.7 770.8L152.7 770.3L153.7 769.9L154.7 769.5L155.7 769.2L156.7 768.9L157.7 768.6L158.7 768.3L159.7 768.0L160.7 767.8L161.7 767.5L162.7 767.2L163.7 767.0L164.7 766.9L165.7 766.8L166.7 766.8L167.7 766.8L168.7 767.0L169.7 767.2L170.7 767.4L171.7 767.8L172.7 768.1L173.7 768.4L174.7 768.8L175.7 769.2L176.7 769.6L177.7 770.0L178.7 770.5L179.7 770.9L180.7 771.3L181.7 771.8L182.7 772.3L183.7 772.9L184.7 773.4L185.7 774.1L186.7 774.7L187.7 775.4L188.7 776.2L189.7 777.0L190.7 777.9L191.7 778.8L192.7 779.8L193.7 780.8L194.7 781.8L195.7 782.9L196.7 784.0L197.7 785.2L198.7 786.4L199.7 787.6L200.7 788.9L201.7 790.2L202.7 791.5L203.7 792.9L204.7 794.2L205.7 795.6L206.7 797.0L207.7 798.4L208.7 799.9L209.7 801.3L210.7 802.7L211.7 804.2L212.7 805.6L213.7 807.0L214.7 808.5L215.7 809.8L216.7 811.1L217.7 812.4L218.7 813.6L219.7 814.7L220.7 815.8L221.7 816.8L222.7 817.7L223.7 818.6L224.7 819.4L225.7 820.1L226.7 820.8L227.7 821.4L228.7 822.0L229.7 822.4L230.7 822.8L231.7 823.2L232.7 823.5L233.7 823.8L234.7 824.0L235.7 824.3L236.7 824.5L237.7 824.7L238.7 824.9L239.7 825.1L240.7 825.3L241.7 825.5L242.7 825.7L243.7 825.8L244.7 826.0L245.7 826.1L246.7 826.3L247.7 826.4L248.7 826.5L249.7 826.6L250.7 826.7L251.7 826.8L252.7 826.9L253.7 827.0L254.7 827.1L255.7 827.2L256.7 827.3L257.7 827.4L258.7 827.5L259.7 827.6L260.7 827.7L261.7 827.8L262.7 827.9L263.7 828.0L264.7 828.1L265.7 828.2L266.7 828.2L267.7 828.3L268.7 828.4L269.7 828.5L270.7 828.6L271.7 828.6L272.7 828.7L273.7 828.8L274.7 828.8L275.7 828.9L276.7 829.0L277.7 829.0L278.7 829.1L279.7 829.1L280.7 829.1L281.7 829.1L282.7 829.1L283.7 829.1L284.7 829.1L285.7 829.0L286.7 828.9L287.7 828.8L288.7 828.7L289.7 828.5L290.7 828.3L291.7 828.1L292.7 827.9L293.7 827.6L294.7 827.4L295.7 827.1L296.7 826.8L297.7 826.5L298.7 826.2L299.7 825.9L300.7 825.6L301.7 825.3L302.7 824.9L303.7 824.6L304.7 824.3L305.7 824.0L306.7 823.7L307.7 823.4L308.7 823.1L309.7 822.9L310.7 822.6L311.7 822.4L312.7 822.1L313.7 821.9L314.7 821.7L315.7 821.5L316.7 821.3L317.7 821.2L318.7 821.0L319.7 820.8L320.7 820.6L321.7 820.5L322.7 820.3L323.7 820.2L324.7 820.0L325.7 819.9L326.7 819.7L327.7 819.6L328.7 819.5L329.7 819.3L330.7 819.2L331.7 819.1L332.7 819.0L333.7 818.9L334.7 818.7L335.7 818.6L336.7 818.5L337.7 818.4L338.7 818.3L339.7 818.2L340.7 818.1L341.7 818.1L342.7 818.0L343.7 817.9L344.7 817.8L345.7 817.7L346.7 817.6L347.7 817.5L348.7 817.4L349.7 817.3L350.7 817.2L351.7 817.1L352.7 817.1L353.7 817.0L354.7 817.0L355.7 817.0L356.7 817.0L357.7 817.1L358.7 817.1L359.7 817.2L360.7 817.3L361.7 817.5L362.7 817.7L363.7 817.9L364.7 818.1L365.7 818.3L366.7 818.5L367.7 818.7L368.7 818.9L369.7 819.2L370.7 819.4L371.7 819.6L372.7 819.9L373.7 820.1L374.7 820.3L375.7 820.6L376.7 820.8L377.7 821.1L378.7 821.3L379.7 821.6L380.7 821.8L381.7 822.1L382.7 822.3L383.7 822.6L384.7 822.9L385.7 823.1L386.7 823.4L387.7 823.6L388.7 823.9L389.7 824.2L390.7 824.4L391.7 824.7L392.7 824.9L393.7 825.1L394.7 825.4L395.7 825.6L396.7 825.8L397.7 826.1L398.7 826.3L399.7 826.5L400.7 826.7L401.7 826.9L402.7 827.2L403.7 827.4L404.7 827.6L405.7 827.8L406.7 828.0L407.7 828.2L408.7 828.4L409.7 828.6L410.7 828.8L411.7 829.0L412.7 829.2L413.7 829.4L414.7 829.5L415.7 829.7L416.7 829.9L417.7 830.0L418.7 830.2L419.7 830.3L420.7 830.5L421.7 830.6L422.7 830.8L423.7 830.9L424.7 831.0L425.7 831.1L426.7 831.2L427.7 831.3L428.7 831.5L429.7 831.6L430.7 831.7L431.7 831.8L432.7 831.8L433.7 831.9L434.7 832.0L435.7 832.1L436.7 832.2L437.7 832.3L438.7 832.3L439.7 832.4L440.7 832.5L441.7 832.6L442.7 832.7L443.7 832.7L444.7 832.8L445.7 832.9L446.7 832.9L447.7 833.0L448.7 833.1L449.7 833.1L450.7 833.2L451.7 833.3L452.7 833.3L453.7 833.4L454.7 833.4L455.7 833.5L456.7 833.5L457.7 833.6L458.7 833.6L459.7 833.6L460.7 833.7L461.7 833.7L462.7 833.7L463.7 833.7L464.7 833.7L465.7 833.7L466.7 833.7L467.7 833.7L468.7 833.6L469.7 833.6L470.7 833.5L471.7 833.5L472.7 833.4L473.7 833.3L474.7 833.2L475.7 833.1L476.7 833.0L477.7 832.9L478.7 832.8L479.7 832.7L480.7 832.6L481.7 832.5L482.7 832.5L483.7 832.4L484.7 832.3L485.7 832.3L486.7 832.3L487.7 832.3L488.7 832.3L489.7 832.3L490.7 832.3L491.7 832.4L492.7 832.4L493.7 832.5L494.7 832.6L495.7 832.7L496.7 832.8L497.7 832.9L498.7 833.0L499.7 833.1L500.7 833.2L501.7 833.3L502.7 833.4L503.7 833.4L504.7 833.5L505.7 833.6L506.7 833.6L507.7 833.6L508.7 833.6L509.7 833.6L510.7 833.6L511.7 833.6L512.7 833.5L513.7 833.4L514.7 833.4L515.7 833.3L516.7 833.1L517.7 833.0L518.7 832.9L519.7 832.8L520.7 832.7L521.7 832.5L522.7 832.4L523.7 832.3L524.7 832.2L525.7 832.0L526.7 831.9L527.7 831.8L528.7 831.7L529.7 831.6L530.7 831.5L531.7 831.5L532.7 831.4L533.7 831.3L534.7 831.3L535.7 831.2L536.7 831.2L537.7 831.1L538.7 831.1L539.7 831.0L540.7 831.0L541.7 830.9L542.7 830.9L543.7 830.8L544.7 830.8L545.7 830.7L546.7 830.7L547.7 830.6L548.7 830.5L549.7 830.5L550.7 830.4L551.7 830.3L552.7 830.2L553.7 830.1L554.7 829.9L555.7 829.8L556.7 829.7L557.7 829.5L558.7 829.4L559.7 829.3L560.7 829.1L561.7 829.0L562.7 828.9L563.7 828.8L564.7 828.7L565.7 828.6L566.7 828.5L567.7 828.4L568.7 828.4L569.7 828.4L570.7 828.4L571.7 828.4L572.7 828.5L573.7 828.5L574.7 828.6L575.7 828.7L576.7 828.9L577.7 829.0L578.7 829.2L579.7 829.3L580.7 829.5L581.7 829.7L582.7 829.8L583.7 830.0L584.7 830.2L585.7 830.3L586.7 830.5L587.7 830.6L588.7 830.8L589.7 830.9L590.7 831.0L591.7 831.2L592.7 831.3L593.7 831.3L594.7 831.4L595.7 831.5L596.7 831.6L597.7 831.6L598.7 831.7L599.7 831.7L600.7 831.8L601.7 831.8L602.7 831.8L603.7 831.9L604.7 831.9L605.7 831.9L606.7 832.0L607.7 832.0L608.7 832.0L609.7 832.0L610.7 832.0L611.7 832.0L612.7 832.0L613.7 832.0L614.7 832.0L615.7 832.1L616.7 832.1L617.7 832.1L618.7 832.1L619.7 832.1L620.7 832.1L621.7 832.1L622.7 832.1L623.7 832.1L624.7 832.1L625.7 832.1L626.7 832.0L627.7 832.0L628.7 832.0L629.7 831.9L630.7 831.9L631.7 831.8L632.7 831.8L633.7 831.7L634.7 831.7L635.7 831.7L636.7 831.7L637.7 831.7L638.7 831.7L639.7 831.7L640.7 831.8L641.7 831.9L642.7 832.0L643.7 832.2L644.7 832.4L645.7 832.6L646.7 832.9L647.7 833.2L648.7 833.5L649.7 833.8L650.7 834.1L651.7 834.4L652.7 834.6L653.7 834.8L654.7 835.0L655.7 835.1L656.7 835.1L657.7 835.1L658.7 835.1L659.7 835.0L660.7 834.8L661.7 834.7L662.7 834.5L663.7 834.3L664.7 834.1L665.7 833.9L666.7 833.8L667.7 833.6L668.7 833.5L669.7 833.4L670.7 833.3L671.7 833.2L672.7 833.2L673.7 833.2L674.7 833.2L675.7 833.3L676.7 833.3L677.7 833.4L678.7 833.5L679.7 833.6L680.7 833.7L681.7 833.8L682.7 834.0L683.7 834.1L684.7 834.2L685.7 834.4L686.7 834.5L687.7 834.7L688.7 834.8L689.7 835.0L690.7 835.1L691.7 835.2L692.7 835.3L693.7 835.4L694.7 835.5L695.7 835.6L696.7 835.7L697.7 835.7L698.7 835.8L699.7 835.8L700.7 835.8L701.7 835.9L702.7 835.9L703.7 835.9L704.7 835.9L705.7 835.9L706.7 835.9L707.7 835.8L708.7 835.8L709.7 835.8L710.7 835.8L711.7 835.8L712.7 835.7L713.7 835.7L714.7 835.7L715.7 835.7L716.7 835.7L717.7 835.7L718.7 835.7L719.7 835.7L720.7 835.8L721.7 835.8L722.7 835.9L723.7 835.9L724.7 836.0L725.7 836.1L726.7 836.2L727.7 836.3L728.7 836.4L729.7 836.5L730.7 836.6L731.7 836.7L732.7 836.8L733.7 837.0L734.7 837.1L735.7 837.2L736.7 837.3L737.7 837.4L738.7 837.5L739.7 837.6L740.7 837.7L741.7 837.8L742.7 837.9L743.7 837.9L744.7 838.0L745.7 838.0L746.7 838.0L747.7 838.0L748.7 838.0L749.7 838.0L750.7 837.9L751.7 837.9L752.7 837.8L753.7 837.7L754.7 837.6L755.7 837.5L756.7 837.4L757.7 837.4L758.7 837.3L759.7 837.2L760.7 837.1L761.7 837.1L762.7 837.1L763.7 837.1L764.7 837.1L765.7 837.1L766.7 837.1L767.7 837.2L768.7 837.3L769.7 837.4L770.7 837.5L771.7 837.6L772.7 837.7L773.7 837.8L774.7 837.9L775.7 838.1L776.7 838.2L777.7 838.3L778.7 838.4L779.7 838.6L780.7 838.6L781.7 838.7L782.7 838.8L783.4 839.1" fill="none" stroke="#f58a1e" stroke-width="3.0" stroke-linejoin="round" stroke-linecap="round"/>
<path d="M965.2 110.7L966.2 110.2L967.2 110.0L968.2 109.7L969.2 109.4L970.2 109.0L971.2 108.5L972.2 108.0L973.2 107.5L974.2 106.9L975.2 106.3L976.2 105.6L977.2 104.9L978.2 104.2L979.2 103.3L980.2 102.4L981.2 101.4L982.2 100.4L983.2 99.2L984.2 98.0L985.2 96.7L986.2 95.2L987.2 93.7L988.2 92.1L989.2 90.5L990.2 88.8L991.2 87.1L992.2 85.3L993.2 83.6L994.2 81.8L995.2 80.0L996.2 78.2L997.2 76.3L998.2 74.5L999.2 72.7L1000.2 71.0L1001.2 69.4L1002.2 67.8L1003.2 66.4L1004.2 64.9L1005.2 63.5L1006.2 62.1L1007.2 60.7L1008.2 59.3L1009.2 58.0L1010.2 56.7L1011.2 55.5L1012.2 54.3L1013.2 53.2L1014.2 52.2L1015.2 51.2L1016.2 50.3L1017.2 49.4L1018.2 48.5L1019.2 47.7L1020.2 46.9L1021.2 46.2L1022.2 45.5L1023.2 44.8L1024.2 44.1L1025.2 43.5L1026.2 42.8L1027.2 42.2L1028.2 41.5L1029.2 40.9L1030.2 40.3L1031.2 39.7L1032.2 39.2L1033.2 38.6L1034.2 38.0L1035.2 37.4L1036.2 36.8L1037.2 36.3L1038.2 35.7L1039.2 35.2L1040.2 34.7L1041.2 34.2L1042.2 33.8L1043.2 33.4L1044.2 33.0L1045.2 32.6L1046.2 32.2L1047.2 31.9L1048.2 31.5L1049.2 31.2L1050.2 30.9L1051.2 30.6L1052.2 30.4L1053.2 30.1L1054.2 29.9L1055.2 29.7L1056.2 29.6L1057.2 29.4L1058.2 29.4L1059.2 29.4L1060.2 29.4L1061.2 29.5L1062.2 29.6L1063.2 29.8L1064.2 29.9L1065.2 30.0L1066.2 30.2L1067.2 30.3L1068.2 30.4L1069.2 30.5L1070.2 30.7L1071.2 31.0L1072.2 31.4L1073.2 31.9L1074.2 32.5L1075.2 33.1L1076.2 33.8L1077.2 34.4L1078.2 35.1L1079.2 35.7L1080.2 36.4L1081.2 37.1L1082.2 37.9L1083.2 38.7L1084.2 39.5L1085.2 40.4L1086.2 41.4L1087.2 42.4L1088.2 43.4L1089.2 44.5L1090.2 45.7L1091.2 47.0L1092.2 48.3L1093.2 49.6L1094.2 51.0L1095.2 52.4L1096.2 53.7L1097.2 55.0L1098.2 56.4L1099.2 57.9L1100.2 59.4L1101.2 61.1L1102.2 62.9L1103.2 64.7L1104.2 66.4L1105.2 68.2L1106.2 69.9L1107.2 71.5L1108.2 73.2L1109.2 74.8L1110.2 76.4L1111.2 77.9L1112.2 79.5L1113.2 81.1L1114.2 82.6L1115.2 84.0L1116.2 85.5L1117.2 86.8L1118.2 88.1L1119.2 89.4L1120.2 90.5L1121.2 91.6L1122.2 92.5L1123.2 93.4L1124.2 94.2L1125.2 95.0L1126.2 95.8L1127.2 96.5L1128.2 97.1L1129.2 97.8L1130.2 98.4L1131.2 98.9L1132.2 99.4L1133.2 99.9L1134.2 100.4L1135.2 100.8L1136.2 101.2L1137.2 101.5L1138.2 101.9L1139.2 102.1L1140.2 102.4L1141.2 102.7L1142.2 102.9L1143.2 103.1L1144.2 103.3L1145.2 103.5L1146.2 103.7L1147.2 104.0L1148.2 104.2L1149.2 104.3L1150.2 104.5L1151.2 104.7L1152.2 104.9L1153.2 105.0L1154.2 105.2L1155.2 105.3L1156.2 105.5L1157.2 105.6L1158.2 105.8L1159.2 105.9L1160.2 106.1L1161.2 106.2L1162.2 106.4L1163.2 106.5L1164.2 106.7L1165.2 106.9L1166.2 107.0L1167.2 107.1L1168.2 107.3L1169.2 107.4L1170.2 107.5L1171.2 107.6L1172.2 107.7L1173.2 107.8L1174.2 107.8L1175.2 107.9L1176.2 107.9L1177.2 107.9L1178.2 107.9L1179.2 107.9L1180.2 108.0L1181.2 108.0L1182.2 108.1L1183.2 108.2L1184.2 108.4L1185.2 108.5L1186.2 108.6L1187.2 108.8L1188.2 108.9L1189.2 109.1L1190.2 109.2L1191.2 109.4L1192.2 109.5L1193.2 109.6L1194.2 109.7L1195.2 109.8L1196.2 109.9L1197.2 109.9L1198.2 109.9L1199.2 110.0L1200.2 110.0L1201.2 110.0L1202.2 110.0L1203.2 109.9L1204.2 109.9L1205.2 109.8L1206.2 109.7L1207.2 109.6L1208.2 109.4L1209.2 109.2L1210.2 109.0L1211.2 108.8L1212.2 108.5L1213.2 108.2L1214.2 107.9L1215.2 107.5L1216.2 107.1L1217.2 106.6L1218.2 106.1L1219.2 105.5L1220.2 104.8L1221.2 104.1L1222.2 103.3L1223.2 102.5L1224.2 101.6L1225.2 100.6L1226.2 99.4L1227.2 98.1L1228.2 96.5L1229.2 94.8L1230.2 92.8L1231.2 90.7L1232.2 88.4L1233.2 85.9L1234.2 83.1L1235.2 80.1L1236.2 77.0L1237.2 73.7L1238.2 70.5L1239.2 67.3L1240.2 64.2L1241.2 61.2L1242.2 58.5L1243.2 56.3L1244.2 54.5L1245.2 53.1L1246.2 52.3L1247.2 52.1L1248.2 52.6L1249.2 53.7L1250.2 55.2L1251.2 56.9L1252.2 59.0L1253.2 61.3L1254.2 63.4L1255.2 65.4L1256.2 67.3L1257.2 69.1L1258.2 70.7L1259.2 72.2L1260.2 73.7L1261.2 75.0L1262.2 76.3L1263.2 77.4L1264.2 78.5L1265.2 79.6L1266.2 80.5L1267.2 81.4L1268.2 82.2L1269.2 82.9L1270.2 83.5L1271.2 84.1L1272.2 84.6L1273.2 85.3L1274.2 85.9L1275.2 86.6L1276.2 87.4L1277.2 88.2L1278.2 89.1L1279.2 90.0L1280.2 90.9L1281.2 91.9L1282.2 92.7L1283.2 93.6L1284.2 94.5L1285.2 95.3L1286.2 96.1L1287.2 96.8L1288.2 97.6L1289.2 98.4L1290.2 99.1L1291.2 99.8L1292.2 100.5L1293.2 101.1L1294.2 101.7L1295.2 102.3L1296.2 102.8L1297.2 103.3L1298.2 103.7L1299.2 104.1L1300.2 104.5L1301.2 104.8L1302.2 105.1L1303.2 105.4L1304.2 105.7L1305.2 105.9L1306.2 106.1L1307.2 106.3L1308.2 106.5L1309.2 106.6L1310.2 106.8L1311.2 106.9L1312.2 107.1L1313.2 107.3L1314.2 107.4L1315.2 107.5L1316.2 107.7L1317.2 107.8L1318.2 107.9L1319.2 108.0L1320.2 108.0L1321.2 108.1L1322.2 108.1L1323.2 108.2L1324.2 108.2L1325.2 108.3L1326.2 108.3L1327.2 108.3L1328.2 108.4L1329.2 108.4L1330.2 108.5L1331.2 108.5L1332.2 108.6L1333.2 108.6L1334.2 108.6L1335.2 108.7L1336.2 108.7L1337.2 108.8L1338.2 108.8L1339.2 108.8L1340.2 108.8L1341.2 108.9L1342.2 108.9L1343.2 108.9L1344.2 109.0L1345.2 109.0L1346.2 109.0L1347.2 109.0L1348.2 109.1L1349.2 109.1L1350.2 109.1L1351.2 109.1L1352.2 109.2L1353.2 109.2L1354.2 109.2L1355.2 109.2L1356.2 109.3L1357.2 109.3L1358.2 109.3L1359.2 109.3L1360.2 109.4L1361.2 109.4L1362.2 109.4L1363.2 109.4L1364.2 109.5L1365.2 109.5L1366.2 109.5L1367.2 109.5L1368.2 109.6L1369.2 109.6L1370.2 109.6L1371.2 109.6L1372.2 109.6L1373.2 109.7L1374.2 109.7L1375.2 109.7L1376.2 109.7L1377.2 109.7L1378.2 109.8L1379.2 109.8L1380.2 109.8L1381.2 109.8L1382.2 109.9L1383.2 109.9L1384.2 110.0L1385.2 110.0L1386.2 110.1L1387.2 110.1L1388.2 110.2L1389.2 110.3L1390.2 110.3L1391.2 110.4L1392.2 110.5L1393.2 110.5L1394.2 110.6L1395.2 110.7L1396.2 110.8L1397.2 110.8L1398.2 110.9L1399.2 110.9L1400.2 111.0L1401.2 111.0L1402.2 111.1L1403.2 111.1L1404.2 111.2L1405.2 111.2L1406.2 111.2L1407.2 111.2L1408.2 111.2L1409.2 111.2L1410.2 111.2L1411.2 111.1L1412.2 111.1L1413.2 111.0L1414.2 111.0L1415.2 110.9L1416.2 110.8L1417.2 110.7L1418.2 110.6L1419.2 110.4L1420.2 110.2L1421.2 110.1L1422.2 109.9L1423.2 109.7L1424.2 109.4L1425.2 109.2L1426.2 109.0L1427.2 108.7L1428.2 108.5L1429.2 108.2L1430.2 108.0L1431.2 107.7L1432.2 107.5L1433.2 107.3L1434.2 107.1L1435.2 106.9L1436.2 106.7L1437.2 106.6L1438.2 106.4L1439.2 106.3L1440.2 106.1L1441.2 106.0L1442.2 105.9L1443.2 105.7L1444.2 105.6L1445.2 105.5L1446.2 105.4L1447.2 105.3L1448.2 105.2L1449.2 105.1L1450.2 105.0L1451.2 104.9L1452.2 104.8L1453.2 104.7L1454.2 104.7L1455.2 104.6L1456.2 104.5L1457.2 104.4L1458.2 104.4L1459.2 104.3L1460.2 104.2L1461.2 104.2L1462.2 104.1L1463.2 104.0L1464.2 104.0L1465.2 103.9L1466.2 103.9L1467.2 103.9L1468.2 103.8L1469.2 103.8L1470.2 103.8L1471.2 103.8L1472.2 103.7L1473.2 103.7L1474.2 103.7L1475.2 103.7L1476.2 103.7L1477.2 103.7L1478.2 103.7L1479.2 103.7L1480.2 103.7L1481.2 103.7L1482.2 103.7L1483.2 103.7L1484.2 103.7L1485.2 103.7L1486.2 103.7L1487.2 103.7L1488.2 103.7L1489.2 103.8L1490.2 103.8L1491.2 103.8L1492.2 103.8L1493.2 103.8L1494.2 103.8L1495.2 103.8L1496.2 103.9L1497.2 103.9L1498.2 103.9L1499.2 103.9L1500.2 103.9L1501.2 103.9L1502.2 104.0L1503.2 104.0L1504.2 104.0L1505.2 104.0L1506.2 104.1L1507.2 104.1L1508.2 104.1L1509.2 104.1L1510.2 104.2L1511.2 104.2L1512.2 104.2L1513.2 104.3L1514.2 104.3L1515.2 104.3L1516.2 104.4L1517.2 104.4L1518.2 104.4L1519.2 104.5L1520.2 104.5L1521.2 104.6L1522.2 104.6L1523.2 104.6L1524.2 104.7L1525.2 104.7L1526.2 104.8L1527.2 104.8L1528.2 104.9L1529.2 104.9L1530.2 105.0L1531.2 105.1L1532.2 105.1L1533.2 105.2L1534.2 105.2L1535.2 105.3L1536.2 105.4L1537.2 105.4L1538.2 105.5L1539.2 105.6L1540.2 105.7L1541.2 105.7L1542.2 105.8L1543.2 105.9L1544.2 106.0L1545.2 106.0L1546.2 106.1L1547.2 106.2L1548.2 106.2L1549.2 106.3L1550.2 106.4L1551.2 106.5L1552.2 106.5L1553.2 106.6L1554.2 106.7L1555.2 106.7L1556.2 106.8L1557.2 106.8L1558.2 106.9L1559.2 107.0L1560.2 107.0L1561.2 107.1L1562.2 107.1L1563.2 107.1L1564.2 107.2L1565.2 107.2L1566.2 107.3L1567.2 107.3L1568.2 107.4L1569.2 107.4L1570.2 107.4L1571.2 107.5L1572.2 107.5L1573.2 107.6L1574.2 107.6L1575.2 107.6L1576.2 107.7L1577.2 107.7L1578.2 107.7L1579.2 107.8L1580.2 107.8L1581.2 107.8L1582.2 107.9L1583.2 107.9L1584.2 107.9L1585.2 107.9L1586.2 108.0L1587.2 108.0L1588.2 108.0L1589.2 108.1L1590.2 108.1L1591.2 108.1L1592.2 108.1L1593.2 108.2L1594.2 108.2L1595.2 108.2L1596.2 108.3L1597.2 108.3L1598.2 108.3L1599.2 108.3L1600.2 108.4L1601.2 108.4L1602.2 108.4L1603.2 108.5L1604.2 108.5L1605.2 108.5L1606.2 108.5L1607.2 108.6L1608.2 108.6L1609.2 108.6L1610.2 108.6L1611.2 108.7L1612.2 108.7L1613.2 108.7L1614.2 108.7L1615.2 108.8L1616.2 108.8L1617.2 108.8L1618.2 108.8L1619.2 108.9L1620.2 108.9L1621.2 108.9L1622.2 108.9L1623.2 108.9L1624.2 109.0L1625.2 109.0L1626.2 109.0L1627.2 109.0L1628.2 109.0L1629.2 109.1L1630.2 109.1L1631.2 109.1L1632.2 109.1L1633.2 109.1L1634.2 109.1L1635.2 109.2L1636.2 109.2L1637.2 109.2L1638.2 109.2L1639.2 109.2L1640.2 109.2L1641.2 109.2L1642.2 109.3L1643.2 109.3L1644.2 109.3L1645.2 109.3L1646.2 109.3L1647.2 109.3L1648.2 109.3L1649.2 109.3L1650.2 109.3L1651.2 109.3L1652.2 109.3L1653.2 109.3L1654.2 109.3L1655.2 109.3L1656.2 109.3L1657.2 109.3L1658.2 109.3L1659.2 109.3L1660.2 109.4L1661.2 109.4L1662.2 109.4L1663.2 109.4L1664.2 109.4L1665.2 109.4L1666.2 109.4L1667.2 109.4L1668.2 109.4L1669.2 109.4L1670.2 109.4L1671.2 109.4L1672.2 109.4L1673.2 109.4L1674.2 109.4L1675.2 109.4L1676.2 109.4L1677.2 109.4L1677.6 109.4" fill="none" stroke="#000000" stroke-width="3.0" stroke-linejoin="round" stroke-linecap="round"/>
<path d="M965.2 204.2L966.2 203.4L967.2 203.1L968.2 202.7L969.2 202.2L970.2 201.7L971.2 201.1L972.2 200.5L973.2 199.8L974.2 199.1L975.2 198.4L976.2 197.6L977.2 196.8L978.2 195.9L979.2 194.9L980.2 193.9L981.2 192.7L982.2 191.5L983.2 190.1L984.2 188.7L985.2 187.3L986.2 185.8L987.2 184.3L988.2 182.8L989.2 181.2L990.2 179.5L991.2 177.8L992.2 175.9L993.2 174.0L994.2 171.9L995.2 170.0L996.2 168.1L997.2 166.4L998.2 164.8L999.2 163.2L1000.2 161.7L1001.2 160.3L1002.2 158.8L1003.2 157.4L1004.2 156.0L1005.2 154.6L1006.2 153.2L1007.2 151.8L1008.2 150.4L1009.2 149.1L1010.2 147.7L1011.2 146.4L1012.2 145.1L1013.2 143.9L1014.2 142.7L1015.2 141.5L1016.2 140.3L1017.2 139.2L1018.2 138.1L1019.2 137.1L1020.2 136.1L1021.2 135.1L1022.2 134.2L1023.2 133.3L1024.2 132.5L1025.2 131.7L1026.2 130.9L1027.2 130.1L1028.2 129.3L1029.2 128.5L1030.2 127.7L1031.2 126.9L1032.2 126.2L1033.2 125.4L1034.2 124.7L1035.2 124.1L1036.2 123.4L1037.2 122.8L1038.2 122.3L1039.2 121.8L1040.2 121.3L1041.2 120.8L1042.2 120.3L1043.2 119.9L1044.2 119.5L1045.2 119.1L1046.2 118.7L1047.2 118.4L1048.2 118.0L1049.2 117.7L1050.2 117.4L1051.2 117.1L1052.2 116.9L1053.2 116.6L1054.2 116.4L1055.2 116.2L1056.2 116.0L1057.2 115.8L1058.2 115.7L1059.2 115.6L1060.2 115.6L1061.2 115.6L1062.2 115.6L1063.2 115.7L1064.2 115.8L1065.2 116.0L1066.2 116.2L1067.2 116.4L1068.2 116.6L1069.2 116.9L1070.2 117.2L1071.2 117.6L1072.2 117.9L1073.2 118.4L1074.2 118.8L1075.2 119.3L1076.2 119.8L1077.2 120.3L1078.2 120.9L1079.2 121.5L1080.2 122.2L1081.2 123.0L1082.2 123.9L1083.2 124.8L1084.2 125.7L1085.2 126.7L1086.2 127.8L1087.2 128.9L1088.2 130.1L1089.2 131.2L1090.2 132.5L1091.2 133.7L1092.2 135.0L1093.2 136.4L1094.2 137.7L1095.2 139.1L1096.2 140.5L1097.2 142.0L1098.2 143.4L1099.2 144.9L1100.2 146.5L1101.2 148.0L1102.2 149.5L1103.2 151.1L1104.2 152.7L1105.2 154.3L1106.2 156.0L1107.2 157.6L1108.2 159.4L1109.2 161.1L1110.2 162.9L1111.2 164.6L1112.2 166.4L1113.2 168.1L1114.2 169.8L1115.2 171.5L1116.2 173.1L1117.2 174.6L1118.2 176.0L1119.2 177.3L1120.2 178.6L1121.2 179.7L1122.2 180.8L1123.2 181.9L1124.2 182.9L1125.2 183.8L1126.2 184.7L1127.2 185.6L1128.2 186.4L1129.2 187.2L1130.2 187.9L1131.2 188.6L1132.2 189.2L1133.2 189.8L1134.2 190.4L1135.2 191.0L1136.2 191.5L1137.2 192.0L1138.2 192.5L1139.2 192.9L1140.2 193.3L1141.2 193.7L1142.2 194.1L1143.2 194.4L1144.2 194.8L1145.2 195.1L1146.2 195.4L1147.2 195.7L1148.2 196.0L1149.2 196.3L1150.2 196.5L1151.2 196.8L1152.2 197.0L1153.2 197.2L1154.2 197.4L1155.2 197.6L1156.2 197.8L1157.2 198.0L1158.2 198.2L1159.2 198.3L1160.2 198.5L1161.2 198.6L1162.2 198.7L1163.2 198.9L1164.2 199.0L1165.2 199.1L1166.2 199.2L1167.2 199.2L1168.2 199.3L1169.2 199.4L1170.2 199.5L1171.2 199.6L1172.2 199.6L1173.2 199.7L1174.2 199.7L1175.2 199.8L1176.2 199.8L1177.2 199.8L1178.2 199.9L1179.2 199.9L1180.2 199.9L1181.2 199.9L1182.2 200.0L1183.2 200.0L1184.2 200.0L1185.2 200.0L1186.2 200.0L1187.2 200.1L1188.2 200.1L1189.2 200.1L1190.2 200.2L1191.2 200.2L1192.2 200.3L1193.2 200.3L1194.2 200.3L1195.2 200.4L1196.2 200.4L1197.2 200.4L1198.2 200.4L1199.2 200.4L1200.2 200.4L1201.2 200.3L1202.2 200.2L1203.2 200.1L1204.2 200.0L1205.2 199.9L1206.2 199.8L1207.2 199.6L1208.2 199.5L1209.2 199.4L1210.2 199.3L1211.2 199.1L1212.2 199.0L1213.2 198.8L1214.2 198.5L1215.2 198.2L1216.2 197.9L1217.2 197.5L1218.2 196.9L1219.2 196.3L1220.2 195.7L1221.2 194.9L1222.2 194.1L1223.2 193.3L1224.2 192.4L1225.2 191.3L1226.2 190.2L1227.2 189.0L1228.2 187.5L1229.2 186.0L1230.2 184.2L1231.2 182.3L1232.2 180.2L1233.2 178.1L1234.2 175.8L1235.2 173.4L1236.2 170.9L1237.2 168.3L1238.2 165.6L1239.2 162.8L1240.2 160.0L1241.2 157.3L1242.2 154.6L1243.2 152.0L1244.2 149.3L1245.2 146.8L1246.2 144.7L1247.2 143.0L1248.2 141.8L1249.2 141.0L1250.2 140.6L1251.2 140.8L1252.2 141.5L1253.2 142.6L1254.2 144.0L1255.2 145.6L1256.2 147.5L1257.2 150.0L1258.2 152.4L1259.2 154.9L1260.2 157.4L1261.2 160.0L1262.2 162.5L1263.2 165.0L1264.2 167.4L1265.2 169.7L1266.2 171.8L1267.2 173.7L1268.2 175.4L1269.2 176.9L1270.2 178.2L1271.2 179.3L1272.2 180.4L1273.2 181.3L1274.2 182.2L1275.2 183.0L1276.2 183.7L1277.2 184.3L1278.2 184.8L1279.2 185.2L1280.2 185.7L1281.2 186.0L1282.2 186.4L1283.2 186.8L1284.2 187.2L1285.2 187.7L1286.2 188.1L1287.2 188.5L1288.2 188.9L1289.2 189.3L1290.2 189.7L1291.2 190.1L1292.2 190.5L1293.2 190.9L1294.2 191.2L1295.2 191.6L1296.2 191.9L1297.2 192.2L1298.2 192.5L1299.2 192.7L1300.2 193.0L1301.2 193.2L1302.2 193.4L1303.2 193.7L1304.2 193.9L1305.2 194.0L1306.2 194.2L1307.2 194.4L1308.2 194.6L1309.2 194.7L1310.2 194.9L1311.2 195.0L1312.2 195.1L1313.2 195.3L1314.2 195.4L1315.2 195.5L1316.2 195.6L1317.2 195.7L1318.2 195.8L1319.2 195.8L1320.2 195.9L1321.2 196.0L1322.2 196.0L1323.2 196.1L1324.2 196.1L1325.2 196.1L1326.2 196.2L1327.2 196.2L1328.2 196.2L1329.2 196.3L1330.2 196.3L1331.2 196.3L1332.2 196.3L1333.2 196.3L1334.2 196.4L1335.2 196.4L1336.2 196.4L1337.2 196.4L1338.2 196.4L1339.2 196.4L1340.2 196.4L1341.2 196.4L1342.2 196.4L1343.2 196.4L1344.2 196.4L1345.2 196.3L1346.2 196.3L1347.2 196.3L1348.2 196.3L1349.2 196.3L1350.2 196.3L1351.2 196.3L1352.2 196.3L1353.2 196.3L1354.2 196.3L1355.2 196.2L1356.2 196.2L1357.2 196.2L1358.2 196.2L1359.2 196.2L1360.2 196.2L1361.2 196.1L1362.2 196.1L1363.2 196.1L1364.2 196.1L1365.2 196.1L1366.2 196.0L1367.2 196.0L1368.2 196.0L1369.2 196.0L1370.2 195.9L1371.2 195.9L1372.2 195.9L1373.2 195.9L1374.2 195.8L1375.2 195.8L1376.2 195.8L1377.2 195.8L1378.2 195.7L1379.2 195.7L1380.2 195.7L1381.2 195.7L1382.2 195.7L1383.2 195.7L1384.2 195.7L1385.2 195.7L1386.2 195.7L1387.2 195.8L1388.2 195.8L1389.2 195.9L1390.2 195.9L1391.2 196.0L1392.2 196.0L1393.2 196.1L1394.2 196.1L1395.2 196.1L1396.2 196.2L1397.2 196.2L1398.2 196.3L1399.2 196.3L1400.2 196.3L1401.2 196.3L1402.2 196.4L1403.2 196.4L1404.2 196.3L1405.2 196.3L1406.2 196.3L1407.2 196.3L1408.2 196.2L1409.2 196.1L1410.2 196.0L1411.2 195.9L1412.2 195.8L1413.2 195.7L1414.2 195.5L1415.2 195.3L1416.2 195.1L1417.2 194.9L1418.2 194.7L1419.2 194.4L1420.2 194.1L1421.2 193.8L1422.2 193.5L1423.2 193.1L1424.2 192.7L1425.2 192.3L1426.2 191.9L1427.2 191.5L1428.2 191.1L1429.2 190.6L1430.2 190.2L1431.2 189.8L1432.2 189.4L1433.2 189.1L1434.2 188.7L1435.2 188.4L1436.2 188.1L1437.2 187.9L1438.2 187.6L1439.2 187.3L1440.2 187.1L1441.2 186.9L1442.2 186.7L1443.2 186.5L1444.2 186.3L1445.2 186.1L1446.2 185.9L1447.2 185.7L1448.2 185.6L1449.2 185.5L1450.2 185.3L1451.2 185.2L1452.2 185.1L1453.2 185.0L1454.2 184.9L1455.2 184.8L1456.2 184.7L1457.2 184.6L1458.2 184.5L1459.2 184.4L1460.2 184.4L1461.2 184.3L1462.2 184.3L1463.2 184.2L1464.2 184.2L1465.2 184.1L1466.2 184.1L1467.2 184.1L1468.2 184.1L1469.2 184.1L1470.2 184.2L1471.2 184.2L1472.2 184.3L1473.2 184.3L1474.2 184.4L1475.2 184.5L1476.2 184.5L1477.2 184.6L1478.2 184.7L1479.2 184.8L1480.2 184.9L1481.2 185.0L1482.2 185.1L1483.2 185.2L1484.2 185.4L1485.2 185.5L1486.2 185.6L1487.2 185.7L1488.2 185.8L1489.2 185.9L1490.2 186.0L1491.2 186.1L1492.2 186.2L1493.2 186.3L1494.2 186.4L1495.2 186.5L1496.2 186.6L1497.2 186.7L1498.2 186.8L1499.2 186.8L1500.2 186.9L1501.2 187.0L1502.2 187.0L1503.2 187.1L1504.2 187.1L1505.2 187.2L1506.2 187.3L1507.2 187.3L1508.2 187.4L1509.2 187.4L1510.2 187.5L1511.2 187.5L1512.2 187.6L1513.2 187.7L1514.2 187.7L1515.2 187.8L1516.2 187.8L1517.2 187.9L1518.2 187.9L1519.2 188.0L1520.2 188.0L1521.2 188.1L1522.2 188.1L1523.2 188.2L1524.2 188.2L1525.2 188.3L1526.2 188.3L1527.2 188.4L1528.2 188.4L1529.2 188.5L1530.2 188.5L1531.2 188.6L1532.2 188.6L1533.2 188.6L1534.2 188.7L1535.2 188.7L1536.2 188.8L1537.2 188.8L1538.2 188.8L1539.2 188.9L1540.2 188.9L1541.2 189.0L1542.2 189.0L1543.2 189.0L1544.2 189.1L1545.2 189.1L1546.2 189.1L1547.2 189.2L1548.2 189.2L1549.2 189.2L1550.2 189.3L1551.2 189.3L1552.2 189.3L1553.2 189.3L1554.2 189.3L1555.2 189.4L1556.2 189.4L1557.2 189.4L1558.2 189.4L1559.2 189.4L1560.2 189.4L1561.2 189.4L1562.2 189.5L1563.2 189.5L1564.2 189.5L1565.2 189.5L1566.2 189.5L1567.2 189.5L1568.2 189.5L1569.2 189.5L1570.2 189.5L1571.2 189.5L1572.2 189.5L1573.2 189.5L1574.2 189.5L1575.2 189.5L1576.2 189.5L1577.2 189.5L1578.2 189.5L1579.2 189.5L1580.2 189.5L1581.2 189.6L1582.2 189.6L1583.2 189.6L1584.2 189.6L1585.2 189.6L1586.2 189.6L1587.2 189.6L1588.2 189.6L1589.2 189.6L1590.2 189.6L1591.2 189.7L1592.2 189.7L1593.2 189.7L1594.2 189.7L1595.2 189.7L1596.2 189.8L1597.2 189.8L1598.2 189.8L1599.2 189.8L1600.2 189.9L1601.2 189.9L1602.2 189.9L1603.2 190.0L1604.2 190.0L1605.2 190.0L1606.2 190.1L1607.2 190.1L1608.2 190.2L1609.2 190.2L1610.2 190.2L1611.2 190.3L1612.2 190.3L1613.2 190.4L1614.2 190.4L1615.2 190.4L1616.2 190.5L1617.2 190.5L1618.2 190.6L1619.2 190.6L1620.2 190.7L1621.2 190.7L1622.2 190.7L1623.2 190.8L1624.2 190.8L1625.2 190.9L1626.2 190.9L1627.2 191.0L1628.2 191.0L1629.2 191.1L1630.2 191.1L1631.2 191.1L1632.2 191.2L1633.2 191.2L1634.2 191.3L1635.2 191.3L1636.2 191.3L1637.2 191.4L1638.2 191.4L1639.2 191.5L1640.2 191.5L1641.2 191.5L1642.2 191.6L1643.2 191.6L1644.2 191.6L1645.2 191.7L1646.2 191.7L1647.2 191.8L1648.2 191.8L1649.2 191.8L1650.2 191.9L1651.2 191.9L1652.2 191.9L1653.2 192.0L1654.2 192.0L1655.2 192.0L1656.2 192.1L1657.2 192.1L1658.2 192.1L1659.2 192.2L1660.2 192.2L1661.2 192.2L1662.2 192.3L1663.2 192.3L1664.2 192.3L1665.2 192.4L1666.2 192.4L1667.2 192.4L1668.2 192.5L1669.2 192.5L1670.2 192.5L1671.2 192.6L1672.2 192.6L1673.2 192.6L1674.2 192.7L1675.2 192.7L1676.2 192.7L1677.2 192.8L1677.6 192.8" fill="none" stroke="#e41414" stroke-width="3.0" stroke-linejoin="round" stroke-linecap="round"/>
<path d="M965.2 281.8L966.2 281.6L967.2 281.5L968.2 281.3L969.2 281.2L970.2 281.0L971.2 280.8L972.2 280.5L973.2 280.3L974.2 280.0L975.2 279.6L976.2 279.2L977.2 278.8L978.2 278.3L979.2 277.8L980.2 277.3L981.2 276.7L982.2 276.0L983.2 275.3L984.2 274.6L985.2 273.8L986.2 272.9L987.2 272.0L988.2 271.1L989.2 270.1L990.2 269.1L991.2 268.0L992.2 266.7L993.2 265.5L994.2 264.1L995.2 262.8L996.2 261.5L997.2 260.2L998.2 259.0L999.2 257.8L1000.2 256.6L1001.2 255.5L1002.2 254.3L1003.2 253.1L1004.2 252.0L1005.2 250.8L1006.2 249.7L1007.2 248.6L1008.2 247.5L1009.2 246.4L1010.2 245.4L1011.2 244.4L1012.2 243.4L1013.2 242.4L1014.2 241.4L1015.2 240.5L1016.2 239.6L1017.2 238.8L1018.2 237.9L1019.2 237.1L1020.2 236.3L1021.2 235.6L1022.2 234.9L1023.2 234.2L1024.2 233.5L1025.2 232.8L1026.2 232.1L1027.2 231.4L1028.2 230.7L1029.2 229.9L1030.2 229.2L1031.2 228.5L1032.2 227.8L1033.2 227.2L1034.2 226.6L1035.2 226.0L1036.2 225.5L1037.2 225.0L1038.2 224.5L1039.2 224.1L1040.2 223.7L1041.2 223.3L1042.2 223.0L1043.2 222.6L1044.2 222.4L1045.2 222.1L1046.2 221.9L1047.2 221.6L1048.2 221.4L1049.2 221.2L1050.2 221.0L1051.2 220.8L1052.2 220.5L1053.2 220.3L1054.2 220.1L1055.2 219.9L1056.2 219.7L1057.2 219.6L1058.2 219.4L1059.2 219.2L1060.2 219.1L1061.2 219.0L1062.2 218.8L1063.2 218.7L1064.2 218.6L1065.2 218.6L1066.2 218.5L1067.2 218.5L1068.2 218.5L1069.2 218.5L1070.2 218.6L1071.2 218.7L1072.2 218.9L1073.2 219.1L1074.2 219.4L1075.2 219.7L1076.2 220.1L1077.2 220.5L1078.2 221.0L1079.2 221.4L1080.2 222.0L1081.2 222.5L1082.2 223.1L1083.2 223.8L1084.2 224.4L1085.2 225.0L1086.2 225.7L1087.2 226.4L1088.2 227.2L1089.2 227.9L1090.2 228.7L1091.2 229.5L1092.2 230.4L1093.2 231.3L1094.2 232.3L1095.2 233.3L1096.2 234.3L1097.2 235.4L1098.2 236.5L1099.2 237.6L1100.2 238.7L1101.2 239.9L1102.2 241.1L1103.2 242.2L1104.2 243.4L1105.2 244.6L1106.2 245.7L1107.2 246.9L1108.2 248.1L1109.2 249.4L1110.2 250.7L1111.2 252.0L1112.2 253.3L1113.2 254.6L1114.2 255.9L1115.2 257.2L1116.2 258.4L1117.2 259.6L1118.2 260.7L1119.2 261.8L1120.2 262.8L1121.2 263.8L1122.2 264.7L1123.2 265.6L1124.2 266.4L1125.2 267.1L1126.2 267.8L1127.2 268.5L1128.2 269.1L1129.2 269.6L1130.2 270.2L1131.2 270.6L1132.2 271.1L1133.2 271.5L1134.2 271.8L1135.2 272.2L1136.2 272.5L1137.2 272.8L1138.2 273.1L1139.2 273.3L1140.2 273.5L1141.2 273.7L1142.2 273.9L1143.2 274.0L1144.2 274.2L1145.2 274.3L1146.2 274.5L1147.2 274.6L1148.2 274.7L1149.2 274.9L1150.2 275.0L1151.2 275.0L1152.2 275.1L1153.2 275.2L1154.2 275.3L1155.2 275.4L1156.2 275.4L1157.2 275.5L1158.2 275.6L1159.2 275.7L1160.2 275.8L1161.2 275.9L1162.2 276.1L1163.2 276.2L1164.2 276.3L1165.2 276.4L1166.2 276.5L1167.2 276.6L1168.2 276.8L1169.2 276.9L1170.2 277.0L1171.2 277.1L1172.2 277.2L1173.2 277.3L1174.2 277.5L1175.2 277.6L1176.2 277.7L1177.2 277.8L1178.2 277.9L1179.2 278.1L1180.2 278.2L1181.2 278.3L1182.2 278.4L1183.2 278.5L1184.2 278.6L1185.2 278.8L1186.2 278.9L1187.2 279.0L1188.2 279.1L1189.2 279.2L1190.2 279.2L1191.2 279.3L1192.2 279.4L1193.2 279.4L1194.2 279.5L1195.2 279.5L1196.2 279.6L1197.2 279.6L1198.2 279.7L1199.2 279.8L1200.2 279.9L1201.2 280.0L1202.2 280.1L1203.2 280.2L1204.2 280.3L1205.2 280.4L1206.2 280.5L1207.2 280.5L1208.2 280.5L1209.2 280.5L1210.2 280.4L1211.2 280.3L1212.2 280.0L1213.2 279.8L1214.2 279.4L1215.2 279.0L1216.2 278.5L1217.2 278.1L1218.2 277.6L1219.2 277.0L1220.2 276.4L1221.2 275.6L1222.2 274.7L1223.2 273.7L1224.2 272.5L1225.2 271.1L1226.2 269.6L1227.2 267.9L1228.2 266.1L1229.2 264.0L1230.2 261.6L1231.2 258.9L1232.2 255.9L1233.2 252.6L1234.2 249.0L1235.2 245.2L1236.2 241.1L1237.2 236.9L1238.2 232.7L1239.2 227.9L1240.2 223.1L1241.2 218.6L1242.2 214.8L1243.2 211.7L1244.2 209.1L1245.2 207.2L1246.2 206.2L1247.2 206.4L1248.2 207.6L1249.2 209.6L1250.2 212.0L1251.2 215.0L1252.2 218.6L1253.2 222.7L1254.2 226.7L1255.2 230.6L1256.2 234.4L1257.2 238.1L1258.2 241.8L1259.2 245.3L1260.2 248.5L1261.2 251.6L1262.2 254.4L1263.2 257.0L1264.2 259.5L1265.2 261.7L1266.2 263.8L1267.2 265.7L1268.2 267.4L1269.2 269.0L1270.2 270.4L1271.2 271.6L1272.2 272.8L1273.2 273.8L1274.2 274.8L1275.2 275.6L1276.2 276.4L1277.2 277.1L1278.2 277.7L1279.2 278.2L1280.2 278.6L1281.2 278.9L1282.2 279.1L1283.2 279.3L1284.2 279.5L1285.2 279.7L1286.2 279.8L1287.2 279.9L1288.2 280.0L1289.2 280.1L1290.2 280.1L1291.2 280.1L1292.2 280.1L1293.2 280.0L1294.2 279.9L1295.2 279.8L1296.2 279.7L1297.2 279.5L1298.2 279.4L1299.2 279.3L1300.2 279.2L1301.2 279.1L1302.2 279.0L1303.2 278.9L1304.2 278.9L1305.2 278.8L1306.2 278.8L1307.2 278.7L1308.2 278.7L1309.2 278.6L1310.2 278.6L1311.2 278.5L1312.2 278.5L1313.2 278.4L1314.2 278.4L1315.2 278.4L1316.2 278.3L1317.2 278.3L1318.2 278.3L1319.2 278.2L1320.2 278.2L1321.2 278.2L1322.2 278.2L1323.2 278.1L1324.2 278.1L1325.2 278.1L1326.2 278.1L1327.2 278.1L1328.2 278.1L1329.2 278.0L1330.2 278.0L1331.2 278.0L1332.2 278.0L1333.2 278.0L1334.2 278.0L1335.2 278.0L1336.2 278.0L1337.2 278.0L1338.2 278.0L1339.2 278.0L1340.2 278.0L1341.2 278.0L1342.2 278.0L1343.2 278.1L1344.2 278.1L1345.2 278.1L1346.2 278.1L1347.2 278.1L1348.2 278.1L1349.2 278.1L1350.2 278.1L1351.2 278.1L1352.2 278.1L1353.2 278.1L1354.2 278.1L1355.2 278.1L1356.2 278.1L1357.2 278.2L1358.2 278.2L1359.2 278.2L1360.2 278.2L1361.2 278.2L1362.2 278.2L1363.2 278.2L1364.2 278.2L1365.2 278.3L1366.2 278.3L1367.2 278.3L1368.2 278.3L1369.2 278.3L1370.2 278.3L1371.2 278.3L1372.2 278.3L1373.2 278.3L1374.2 278.4L1375.2 278.4L1376.2 278.4L1377.2 278.4L1378.2 278.4L1379.2 278.4L1380.2 278.4L1381.2 278.4L1382.2 278.4L1383.2 278.5L1384.2 278.5L1385.2 278.5L1386.2 278.5L1387.2 278.6L1388.2 278.6L1389.2 278.6L1390.2 278.7L1391.2 278.7L1392.2 278.8L1393.2 278.8L1394.2 278.8L1395.2 278.9L1396.2 278.9L1397.2 279.0L1398.2 279.0L1399.2 279.0L1400.2 279.0L1401.2 279.1L1402.2 279.1L1403.2 279.1L1404.2 279.1L1405.2 279.1L1406.2 279.1L1407.2 279.1L1408.2 279.1L1409.2 279.1L1410.2 279.1L1411.2 279.0L1412.2 279.0L1413.2 278.9L1414.2 278.9L1415.2 278.8L1416.2 278.7L1417.2 278.6L1418.2 278.5L1419.2 278.4L1420.2 278.3L1421.2 278.1L1422.2 278.0L1423.2 277.8L1424.2 277.6L1425.2 277.5L1426.2 277.3L1427.2 277.1L1428.2 276.9L1429.2 276.7L1430.2 276.5L1431.2 276.3L1432.2 276.0L1433.2 275.8L1434.2 275.7L1435.2 275.5L1436.2 275.3L1437.2 275.1L1438.2 275.0L1439.2 274.8L1440.2 274.7L1441.2 274.5L1442.2 274.4L1443.2 274.3L1444.2 274.2L1445.2 274.1L1446.2 274.0L1447.2 273.9L1448.2 273.8L1449.2 273.7L1450.2 273.6L1451.2 273.5L1452.2 273.4L1453.2 273.3L1454.2 273.3L1455.2 273.2L1456.2 273.1L1457.2 273.0L1458.2 273.0L1459.2 272.9L1460.2 272.8L1461.2 272.8L1462.2 272.7L1463.2 272.7L1464.2 272.6L1465.2 272.6L1466.2 272.5L1467.2 272.5L1468.2 272.5L1469.2 272.4L1470.2 272.4L1471.2 272.4L1472.2 272.4L1473.2 272.4L1474.2 272.4L1475.2 272.4L1476.2 272.4L1477.2 272.4L1478.2 272.4L1479.2 272.4L1480.2 272.4L1481.2 272.4L1482.2 272.4L1483.2 272.4L1484.2 272.4L1485.2 272.4L1486.2 272.5L1487.2 272.5L1488.2 272.5L1489.2 272.5L1490.2 272.5L1491.2 272.6L1492.2 272.6L1493.2 272.6L1494.2 272.6L1495.2 272.7L1496.2 272.7L1497.2 272.7L1498.2 272.7L1499.2 272.7L1500.2 272.8L1501.2 272.8L1502.2 272.8L1503.2 272.8L1504.2 272.8L1505.2 272.9L1506.2 272.9L1507.2 272.9L1508.2 272.9L1509.2 272.9L1510.2 272.9L1511.2 272.9L1512.2 272.9L1513.2 272.9L1514.2 273.0L1515.2 273.0L1516.2 273.0L1517.2 273.0L1518.2 273.0L1519.2 273.0L1520.2 273.0L1521.2 273.1L1522.2 273.1L1523.2 273.1L1524.2 273.1L1525.2 273.1L1526.2 273.1L1527.2 273.2L1528.2 273.2L1529.2 273.2L1530.2 273.2L1531.2 273.2L1532.2 273.2L1533.2 273.3L1534.2 273.3L1535.2 273.3L1536.2 273.3L1537.2 273.3L1538.2 273.4L1539.2 273.4L1540.2 273.4L1541.2 273.4L1542.2 273.4L1543.2 273.5L1544.2 273.5L1545.2 273.5L1546.2 273.5L1547.2 273.6L1548.2 273.6L1549.2 273.6L1550.2 273.6L1551.2 273.6L1552.2 273.7L1553.2 273.7L1554.2 273.7L1555.2 273.7L1556.2 273.8L1557.2 273.8L1558.2 273.8L1559.2 273.8L1560.2 273.8L1561.2 273.9L1562.2 273.9L1563.2 273.9L1564.2 273.9L1565.2 274.0L1566.2 274.0L1567.2 274.0L1568.2 274.0L1569.2 274.1L1570.2 274.1L1571.2 274.1L1572.2 274.2L1573.2 274.2L1574.2 274.2L1575.2 274.2L1576.2 274.3L1577.2 274.3L1578.2 274.3L1579.2 274.4L1580.2 274.4L1581.2 274.4L1582.2 274.4L1583.2 274.5L1584.2 274.5L1585.2 274.5L1586.2 274.5L1587.2 274.6L1588.2 274.6L1589.2 274.6L1590.2 274.6L1591.2 274.7L1592.2 274.7L1593.2 274.7L1594.2 274.7L1595.2 274.7L1596.2 274.8L1597.2 274.8L1598.2 274.8L1599.2 274.8L1600.2 274.8L1601.2 274.9L1602.2 274.9L1603.2 274.9L1604.2 274.9L1605.2 274.9L1606.2 274.9L1607.2 274.9L1608.2 274.9L1609.2 275.0L1610.2 275.0L1611.2 275.0L1612.2 275.0L1613.2 275.0L1614.2 275.0L1615.2 275.0L1616.2 275.0L1617.2 275.0L1618.2 275.0L1619.2 275.0L1620.2 275.0L1621.2 275.1L1622.2 275.1L1623.2 275.1L1624.2 275.1L1625.2 275.1L1626.2 275.1L1627.2 275.1L1628.2 275.1L1629.2 275.1L1630.2 275.1L1631.2 275.1L1632.2 275.1L1633.2 275.2L1634.2 275.2L1635.2 275.2L1636.2 275.2L1637.2 275.2L1638.2 275.2L1639.2 275.2L1640.2 275.2L1641.2 275.2L1642.2 275.3L1643.2 275.3L1644.2 275.3L1645.2 275.3L1646.2 275.3L1647.2 275.3L1648.2 275.3L1649.2 275.4L1650.2 275.4L1651.2 275.4L1652.2 275.4L1653.2 275.4L1654.2 275.4L1655.2 275.5L1656.2 275.5L1657.2 275.5L1658.2 275.5L1659.2 275.5L1660.2 275.5L1661.2 275.5L1662.2 275.6L1663.2 275.6L1664.2 275.6L1665.2 275.6L1666.2 275.6L1667.2 275.6L1668.2 275.7L1669.2 275.7L1670.2 275.7L1671.2 275.7L1672.2 275.7L1673.2 275.7L1674.2 275.7L1675.2 275.8L1676.2 275.8L1677.2 275.8L1677.6 275.8" fill="none" stroke="#00e000" stroke-width="3.0" stroke-linejoin="round" stroke-linecap="round"/>
<path d="M965.2 368.2L966.2 368.0L967.2 367.9L968.2 367.7L969.2 367.5L970.2 367.2L971.2 366.9L972.2 366.6L973.2 366.2L974.2 365.8L975.2 365.3L976.2 364.8L977.2 364.2L978.2 363.6L979.2 362.9L980.2 362.2L981.2 361.5L982.2 360.7L983.2 359.9L984.2 359.0L985.2 358.0L986.2 357.0L987.2 356.0L988.2 354.8L989.2 353.7L990.2 352.5L991.2 351.3L992.2 350.0L993.2 348.7L994.2 347.3L995.2 346.0L996.2 344.6L997.2 343.3L998.2 342.0L999.2 340.6L1000.2 339.3L1001.2 338.0L1002.2 336.8L1003.2 335.5L1004.2 334.3L1005.2 333.2L1006.2 332.0L1007.2 330.9L1008.2 329.8L1009.2 328.6L1010.2 327.5L1011.2 326.4L1012.2 325.4L1013.2 324.3L1014.2 323.4L1015.2 322.4L1016.2 321.5L1017.2 320.7L1018.2 319.8L1019.2 319.0L1020.2 318.2L1021.2 317.4L1022.2 316.6L1023.2 315.8L1024.2 315.0L1025.2 314.3L1026.2 313.5L1027.2 312.8L1028.2 312.1L1029.2 311.4L1030.2 310.7L1031.2 310.0L1032.2 309.3L1033.2 308.7L1034.2 308.0L1035.2 307.4L1036.2 306.8L1037.2 306.2L1038.2 305.7L1039.2 305.1L1040.2 304.6L1041.2 304.2L1042.2 303.7L1043.2 303.3L1044.2 302.9L1045.2 302.6L1046.2 302.2L1047.2 301.9L1048.2 301.6L1049.2 301.4L1050.2 301.1L1051.2 300.8L1052.2 300.6L1053.2 300.3L1054.2 300.1L1055.2 299.9L1056.2 299.7L1057.2 299.6L1058.2 299.5L1059.2 299.4L1060.2 299.4L1061.2 299.4L1062.2 299.5L1063.2 299.5L1064.2 299.5L1065.2 299.6L1066.2 299.6L1067.2 299.6L1068.2 299.7L1069.2 299.8L1070.2 300.0L1071.2 300.2L1072.2 300.5L1073.2 300.9L1074.2 301.3L1075.2 301.8L1076.2 302.3L1077.2 302.9L1078.2 303.4L1079.2 304.0L1080.2 304.7L1081.2 305.4L1082.2 306.1L1083.2 306.8L1084.2 307.5L1085.2 308.3L1086.2 309.1L1087.2 309.9L1088.2 310.8L1089.2 311.7L1090.2 312.6L1091.2 313.6L1092.2 314.6L1093.2 315.7L1094.2 316.8L1095.2 318.0L1096.2 319.2L1097.2 320.4L1098.2 321.7L1099.2 323.0L1100.2 324.3L1101.2 325.7L1102.2 327.1L1103.2 328.5L1104.2 330.0L1105.2 331.5L1106.2 333.0L1107.2 334.5L1108.2 335.9L1109.2 337.4L1110.2 338.7L1111.2 340.0L1112.2 341.4L1113.2 342.6L1114.2 343.9L1115.2 345.1L1116.2 346.3L1117.2 347.4L1118.2 348.5L1119.2 349.4L1120.2 350.3L1121.2 351.1L1122.2 351.8L1123.2 352.4L1124.2 353.0L1125.2 353.6L1126.2 354.1L1127.2 354.7L1128.2 355.2L1129.2 355.7L1130.2 356.1L1131.2 356.6L1132.2 357.0L1133.2 357.4L1134.2 357.8L1135.2 358.1L1136.2 358.4L1137.2 358.8L1138.2 359.0L1139.2 359.3L1140.2 359.5L1141.2 359.8L1142.2 360.0L1143.2 360.2L1144.2 360.4L1145.2 360.6L1146.2 360.8L1147.2 361.0L1148.2 361.2L1149.2 361.3L1150.2 361.5L1151.2 361.6L1152.2 361.7L1153.2 361.9L1154.2 362.0L1155.2 362.1L1156.2 362.2L1157.2 362.3L1158.2 362.4L1159.2 362.5L1160.2 362.6L1161.2 362.7L1162.2 362.8L1163.2 362.9L1164.2 362.9L1165.2 363.0L1166.2 363.1L1167.2 363.2L1168.2 363.2L1169.2 363.3L1170.2 363.4L1171.2 363.4L1172.2 363.5L1173.2 363.6L1174.2 363.7L1175.2 363.8L1176.2 364.0L1177.2 364.1L1178.2 364.3L1179.2 364.4L1180.2 364.6L1181.2 364.8L1182.2 364.9L1183.2 365.1L1184.2 365.3L1185.2 365.5L1186.2 365.6L1187.2 365.8L1188.2 366.0L1189.2 366.2L1190.2 366.3L1191.2 366.5L1192.2 366.6L1193.2 366.8L1194.2 366.9L1195.2 367.0L1196.2 367.1L1197.2 367.2L1198.2 367.3L1199.2 367.3L1200.2 367.4L1201.2 367.4L1202.2 367.4L1203.2 367.4L1204.2 367.3L1205.2 367.2L1206.2 367.2L1207.2 367.1L1208.2 367.0L1209.2 366.9L1210.2 366.8L1211.2 366.8L1212.2 366.8L1213.2 366.8L1214.2 366.8L1215.2 366.6L1216.2 366.4L1217.2 365.9L1218.2 365.3L1219.2 364.6L1220.2 363.6L1221.2 362.4L1222.2 361.1L1223.2 359.7L1224.2 358.0L1225.2 356.0L1226.2 353.8L1227.2 351.3L1228.2 348.6L1229.2 345.5L1230.2 342.2L1231.2 338.6L1232.2 334.6L1233.2 330.3L1234.2 325.6L1235.2 320.7L1236.2 315.6L1237.2 310.6L1238.2 305.9L1239.2 301.1L1240.2 296.9L1241.2 293.5L1242.2 291.1L1243.2 289.5L1244.2 288.8L1245.2 289.0L1246.2 290.1L1247.2 292.0L1248.2 294.7L1249.2 298.4L1250.2 303.0L1251.2 308.0L1252.2 312.4L1253.2 316.7L1254.2 320.7L1255.2 324.5L1256.2 328.1L1257.2 331.5L1258.2 334.8L1259.2 337.9L1260.2 340.8L1261.2 343.5L1262.2 346.1L1263.2 348.5L1264.2 350.7L1265.2 352.7L1266.2 354.5L1267.2 356.0L1268.2 357.4L1269.2 358.6L1270.2 359.7L1271.2 360.6L1272.2 361.5L1273.2 362.3L1274.2 363.1L1275.2 363.8L1276.2 364.4L1277.2 364.9L1278.2 365.3L1279.2 365.7L1280.2 365.9L1281.2 366.2L1282.2 366.3L1283.2 366.4L1284.2 366.5L1285.2 366.6L1286.2 366.6L1287.2 366.7L1288.2 366.8L1289.2 366.8L1290.2 366.9L1291.2 367.0L1292.2 367.0L1293.2 367.1L1294.2 367.1L1295.2 367.1L1296.2 367.0L1297.2 367.0L1298.2 366.9L1299.2 366.8L1300.2 366.7L1301.2 366.6L1302.2 366.5L1303.2 366.3L1304.2 366.2L1305.2 366.1L1306.2 365.9L1307.2 365.8L1308.2 365.7L1309.2 365.6L1310.2 365.5L1311.2 365.4L1312.2 365.3L1313.2 365.2L1314.2 365.2L1315.2 365.1L1316.2 365.1L1317.2 365.1L1318.2 365.0L1319.2 365.0L1320.2 365.0L1321.2 364.9L1322.2 364.9L1323.2 364.9L1324.2 364.9L1325.2 364.9L1326.2 364.9L1327.2 364.9L1328.2 364.9L1329.2 364.9L1330.2 364.9L1331.2 364.9L1332.2 364.9L1333.2 364.9L1334.2 364.9L1335.2 364.9L1336.2 364.9L1337.2 364.9L1338.2 364.9L1339.2 364.9L1340.2 364.9L1341.2 364.9L1342.2 364.9L1343.2 364.9L1344.2 364.9L1345.2 364.9L1346.2 364.9L1347.2 364.9L1348.2 364.9L1349.2 364.9L1350.2 364.9L1351.2 364.9L1352.2 364.9L1353.2 364.9L1354.2 364.9L1355.2 364.9L1356.2 364.9L1357.2 364.9L1358.2 364.9L1359.2 364.9L1360.2 364.9L1361.2 364.9L1362.2 364.9L1363.2 364.9L1364.2 364.9L1365.2 364.9L1366.2 364.9L1367.2 364.9L1368.2 364.9L1369.2 364.9L1370.2 364.8L1371.2 364.8L1372.2 364.8L1373.2 364.8L1374.2 364.8L1375.2 364.8L1376.2 364.8L1377.2 364.8L1378.2 364.8L1379.2 364.8L1380.2 364.8L1381.2 364.8L1382.2 364.8L1383.2 364.8L1384.2 364.8L1385.2 364.8L1386.2 364.8L1387.2 364.8L1388.2 364.9L1389.2 364.9L1390.2 364.9L1391.2 364.9L1392.2 364.9L1393.2 365.0L1394.2 365.0L1395.2 365.0L1396.2 365.0L1397.2 365.0L1398.2 365.0L1399.2 365.0L1400.2 365.1L1401.2 365.1L1402.2 365.1L1403.2 365.1L1404.2 365.1L1405.2 365.0L1406.2 365.0L1407.2 365.0L1408.2 365.0L1409.2 364.9L1410.2 364.9L1411.2 364.9L1412.2 364.8L1413.2 364.8L1414.2 364.7L1415.2 364.6L1416.2 364.5L1417.2 364.4L1418.2 364.3L1419.2 364.2L1420.2 364.1L1421.2 363.9L1422.2 363.8L1423.2 363.6L1424.2 363.5L1425.2 363.3L1426.2 363.1L1427.2 362.9L1428.2 362.7L1429.2 362.5L1430.2 362.4L1431.2 362.2L1432.2 362.0L1433.2 361.8L1434.2 361.6L1435.2 361.4L1436.2 361.3L1437.2 361.1L1438.2 361.0L1439.2 360.8L1440.2 360.7L1441.2 360.6L1442.2 360.4L1443.2 360.3L1444.2 360.2L1445.2 360.1L1446.2 360.0L1447.2 360.0L1448.2 359.9L1449.2 359.8L1450.2 359.7L1451.2 359.7L1452.2 359.6L1453.2 359.5L1454.2 359.5L1455.2 359.4L1456.2 359.4L1457.2 359.3L1458.2 359.3L1459.2 359.2L1460.2 359.2L1461.2 359.1L1462.2 359.1L1463.2 359.0L1464.2 359.0L1465.2 359.0L1466.2 358.9L1467.2 358.9L1468.2 358.8L1469.2 358.8L1470.2 358.8L1471.2 358.7L1472.2 358.7L1473.2 358.6L1474.2 358.6L1475.2 358.6L1476.2 358.5L1477.2 358.5L1478.2 358.5L1479.2 358.4L1480.2 358.4L1481.2 358.4L1482.2 358.4L1483.2 358.3L1484.2 358.3L1485.2 358.3L1486.2 358.3L1487.2 358.3L1488.2 358.2L1489.2 358.2L1490.2 358.2L1491.2 358.2L1492.2 358.2L1493.2 358.2L1494.2 358.2L1495.2 358.2L1496.2 358.2L1497.2 358.2L1498.2 358.2L1499.2 358.2L1500.2 358.2L1501.2 358.2L1502.2 358.3L1503.2 358.3L1504.2 358.3L1505.2 358.3L1506.2 358.3L1507.2 358.4L1508.2 358.4L1509.2 358.5L1510.2 358.5L1511.2 358.5L1512.2 358.6L1513.2 358.7L1514.2 358.7L1515.2 358.8L1516.2 358.8L1517.2 358.9L1518.2 359.0L1519.2 359.0L1520.2 359.1L1521.2 359.2L1522.2 359.2L1523.2 359.3L1524.2 359.4L1525.2 359.4L1526.2 359.5L1527.2 359.6L1528.2 359.6L1529.2 359.7L1530.2 359.8L1531.2 359.8L1532.2 359.9L1533.2 360.0L1534.2 360.0L1535.2 360.1L1536.2 360.1L1537.2 360.1L1538.2 360.2L1539.2 360.2L1540.2 360.3L1541.2 360.3L1542.2 360.3L1543.2 360.3L1544.2 360.4L1545.2 360.4L1546.2 360.4L1547.2 360.4L1548.2 360.5L1549.2 360.5L1550.2 360.5L1551.2 360.5L1552.2 360.5L1553.2 360.5L1554.2 360.5L1555.2 360.5L1556.2 360.5L1557.2 360.6L1558.2 360.6L1559.2 360.6L1560.2 360.6L1561.2 360.6L1562.2 360.6L1563.2 360.6L1564.2 360.6L1565.2 360.6L1566.2 360.6L1567.2 360.6L1568.2 360.6L1569.2 360.6L1570.2 360.7L1571.2 360.7L1572.2 360.7L1573.2 360.7L1574.2 360.7L1575.2 360.7L1576.2 360.8L1577.2 360.8L1578.2 360.8L1579.2 360.8L1580.2 360.9L1581.2 360.9L1582.2 360.9L1583.2 361.0L1584.2 361.0L1585.2 361.0L1586.2 361.1L1587.2 361.1L1588.2 361.1L1589.2 361.2L1590.2 361.2L1591.2 361.2L1592.2 361.3L1593.2 361.3L1594.2 361.4L1595.2 361.4L1596.2 361.4L1597.2 361.5L1598.2 361.5L1599.2 361.6L1600.2 361.6L1601.2 361.6L1602.2 361.7L1603.2 361.7L1604.2 361.8L1605.2 361.8L1606.2 361.8L1607.2 361.9L1608.2 361.9L1609.2 361.9L1610.2 362.0L1611.2 362.0L1612.2 362.0L1613.2 362.1L1614.2 362.1L1615.2 362.1L1616.2 362.2L1617.2 362.2L1618.2 362.2L1619.2 362.2L1620.2 362.3L1621.2 362.3L1622.2 362.3L1623.2 362.3L1624.2 362.3L1625.2 362.4L1626.2 362.4L1627.2 362.4L1628.2 362.4L1629.2 362.4L1630.2 362.4L1631.2 362.5L1632.2 362.5L1633.2 362.5L1634.2 362.5L1635.2 362.5L1636.2 362.5L1637.2 362.5L1638.2 362.5L1639.2 362.5L1640.2 362.6L1641.2 362.6L1642.2 362.6L1643.2 362.6L1644.2 362.6L1645.2 362.6L1646.2 362.6L1647.2 362.6L1648.2 362.6L1649.2 362.6L1650.2 362.6L1651.2 362.6L1652.2 362.6L1653.2 362.6L1654.2 362.7L1655.2 362.7L1656.2 362.7L1657.2 362.7L1658.2 362.7L1659.2 362.7L1660.2 362.7L1661.2 362.7L1662.2 362.7L1663.2 362.7L1664.2 362.7L1665.2 362.7L1666.2 362.7L1667.2 362.7L1668.2 362.7L1669.2 362.7L1670.2 362.7L1671.2 362.7L1672.2 362.8L1673.2 362.8L1674.2 362.8L1675.2 362.8L1676.2 362.8L1677.2 362.8L1677.6 362.8" fill="none" stroke="#0000c0" stroke-width="3.0" stroke-linejoin="round" stroke-linecap="round"/>
<path d="M965.2 566.4L966.2 565.9L967.2 565.8L968.2 565.7L969.2 565.4L970.2 565.2L971.2 564.8L972.2 564.4L973.2 563.8L974.2 563.2L975.2 562.4L976.2 561.6L977.2 560.6L978.2 559.5L979.2 558.4L980.2 557.1L981.2 555.8L982.2 554.5L983.2 553.1L984.2 551.7L985.2 550.3L986.2 548.8L987.2 547.4L988.2 545.8L989.2 544.3L990.2 542.7L991.2 541.0L992.2 539.4L993.2 537.7L994.2 536.0L995.2 534.4L996.2 532.8L997.2 531.2L998.2 529.8L999.2 528.4L1000.2 527.1L1001.2 525.9L1002.2 524.8L1003.2 523.8L1004.2 522.8L1005.2 521.9L1006.2 521.1L1007.2 520.2L1008.2 519.4L1009.2 518.5L1010.2 517.6L1011.2 516.8L1012.2 516.0L1013.2 515.2L1014.2 514.4L1015.2 513.7L1016.2 513.0L1017.2 512.3L1018.2 511.6L1019.2 511.0L1020.2 510.3L1021.2 509.6L1022.2 508.9L1023.2 508.2L1024.2 507.5L1025.2 506.8L1026.2 506.2L1027.2 505.6L1028.2 505.1L1029.2 504.7L1030.2 504.3L1031.2 503.9L1032.2 503.7L1033.2 503.4L1034.2 503.2L1035.2 503.0L1036.2 502.8L1037.2 502.6L1038.2 502.4L1039.2 502.2L1040.2 501.9L1041.2 501.6L1042.2 501.2L1043.2 500.9L1044.2 500.5L1045.2 500.1L1046.2 499.7L1047.2 499.4L1048.2 499.1L1049.2 498.8L1050.2 498.6L1051.2 498.4L1052.2 498.2L1053.2 498.0L1054.2 497.9L1055.2 497.8L1056.2 497.7L1057.2 497.7L1058.2 497.7L1059.2 497.7L1060.2 497.7L1061.2 497.8L1062.2 497.9L1063.2 498.0L1064.2 498.2L1065.2 498.3L1066.2 498.5L1067.2 498.8L1068.2 499.0L1069.2 499.3L1070.2 499.6L1071.2 500.0L1072.2 500.4L1073.2 500.8L1074.2 501.3L1075.2 501.8L1076.2 502.3L1077.2 502.9L1078.2 503.5L1079.2 504.1L1080.2 504.7L1081.2 505.4L1082.2 506.1L1083.2 506.8L1084.2 507.5L1085.2 508.2L1086.2 508.9L1087.2 509.7L1088.2 510.5L1089.2 511.3L1090.2 512.1L1091.2 513.0L1092.2 513.9L1093.2 515.0L1094.2 516.1L1095.2 517.3L1096.2 518.6L1097.2 519.9L1098.2 521.3L1099.2 522.7L1100.2 524.1L1101.2 525.4L1102.2 526.6L1103.2 527.8L1104.2 528.9L1105.2 530.0L1106.2 531.2L1107.2 532.3L1108.2 533.4L1109.2 534.5L1110.2 535.6L1111.2 536.8L1112.2 537.9L1113.2 538.9L1114.2 540.0L1115.2 541.0L1116.2 541.9L1117.2 542.9L1118.2 543.8L1119.2 544.7L1120.2 545.6L1121.2 546.4L1122.2 547.3L1123.2 548.1L1124.2 549.0L1125.2 549.8L1126.2 550.6L1127.2 551.4L1128.2 552.1L1129.2 552.9L1130.2 553.5L1131.2 554.2L1132.2 554.7L1133.2 555.3L1134.2 555.8L1135.2 556.2L1136.2 556.7L1137.2 557.1L1138.2 557.4L1139.2 557.8L1140.2 558.1L1141.2 558.4L1142.2 558.7L1143.2 559.0L1144.2 559.3L1145.2 559.5L1146.2 559.8L1147.2 560.0L1148.2 560.2L1149.2 560.4L1150.2 560.5L1151.2 560.7L1152.2 560.9L1153.2 561.0L1154.2 561.2L1155.2 561.3L1156.2 561.4L1157.2 561.6L1158.2 561.7L1159.2 561.8L1160.2 561.9L1161.2 562.0L1162.2 562.1L1163.2 562.2L1164.2 562.2L1165.2 562.3L1166.2 562.3L1167.2 562.4L1168.2 562.4L1169.2 562.5L1170.2 562.5L1171.2 562.5L1172.2 562.5L1173.2 562.5L1174.2 562.5L1175.2 562.5L1176.2 562.5L1177.2 562.5L1178.2 562.4L1179.2 562.4L1180.2 562.4L1181.2 562.3L1182.2 562.3L1183.2 562.2L1184.2 562.2L1185.2 562.1L1186.2 562.0L1187.2 561.8L1188.2 561.7L1189.2 561.5L1190.2 561.3L1191.2 561.1L1192.2 560.8L1193.2 560.5L1194.2 560.2L1195.2 559.8L1196.2 559.5L1197.2 559.2L1198.2 558.8L1199.2 558.5L1200.2 558.2L1201.2 557.9L1202.2 557.7L1203.2 557.4L1204.2 557.2L1205.2 556.9L1206.2 556.7L1207.2 556.5L1208.2 556.2L1209.2 556.0L1210.2 555.7L1211.2 555.5L1212.2 555.2L1213.2 554.9L1214.2 554.6L1215.2 554.2L1216.2 553.9L1217.2 553.5L1218.2 553.1L1219.2 552.6L1220.2 552.1L1221.2 551.7L1222.2 551.1L1223.2 550.6L1224.2 550.1L1225.2 549.6L1226.2 549.1L1227.2 548.6L1228.2 548.1L1229.2 547.6L1230.2 547.1L1231.2 546.5L1232.2 546.0L1233.2 545.5L1234.2 545.0L1235.2 544.5L1236.2 544.1L1237.2 543.7L1238.2 543.4L1239.2 543.1L1240.2 542.9L1241.2 542.8L1242.2 542.8L1243.2 542.8L1244.2 543.0L1245.2 543.2L1246.2 543.5L1247.2 543.8L1248.2 544.2L1249.2 544.6L1250.2 545.0L1251.2 545.5L1252.2 546.0L1253.2 546.5L1254.2 547.0L1255.2 547.6L1256.2 548.1L1257.2 548.7L1258.2 549.3L1259.2 549.9L1260.2 550.4L1261.2 551.0L1262.2 551.5L1263.2 552.1L1264.2 552.6L1265.2 553.1L1266.2 553.6L1267.2 554.0L1268.2 554.5L1269.2 555.0L1270.2 555.4L1271.2 555.8L1272.2 556.3L1273.2 556.7L1274.2 557.1L1275.2 557.5L1276.2 557.8L1277.2 558.2L1278.2 558.5L1279.2 558.8L1280.2 559.1L1281.2 559.4L1282.2 559.7L1283.2 560.0L1284.2 560.2L1285.2 560.5L1286.2 560.7L1287.2 560.9L1288.2 561.2L1289.2 561.3L1290.2 561.5L1291.2 561.7L1292.2 561.8L1293.2 562.0L1294.2 562.1L1295.2 562.2L1296.2 562.3L1297.2 562.3L1298.2 562.4L1299.2 562.4L1300.2 562.4L1301.2 562.4L1302.2 562.5L1303.2 562.5L1304.2 562.5L1305.2 562.5L1306.2 562.5L1307.2 562.6L1308.2 562.7L1309.2 562.7L1310.2 562.8L1311.2 563.0L1312.2 563.1L1313.2 563.2L1314.2 563.4L1315.2 563.6L1316.2 563.8L1317.2 564.0L1318.2 564.2L1319.2 564.4L1320.2 564.6L1321.2 564.8L1322.2 565.0L1323.2 565.2L1324.2 565.3L1325.2 565.5L1326.2 565.7L1327.2 565.8L1328.2 565.9L1329.2 566.0L1330.2 566.1L1331.2 566.1L1332.2 566.2L1333.2 566.2L1334.2 566.2L1335.2 566.1L1336.2 566.1L1337.2 566.0L1338.2 565.9L1339.2 565.8L1340.2 565.8L1341.2 565.7L1342.2 565.5L1343.2 565.4L1344.2 565.3L1345.2 565.2L1346.2 565.2L1347.2 565.1L1348.2 565.0L1349.2 564.9L1350.2 564.9L1351.2 564.9L1352.2 564.9L1353.2 564.9L1354.2 564.9L1355.2 564.9L1356.2 565.0L1357.2 565.1L1358.2 565.1L1359.2 565.2L1360.2 565.3L1361.2 565.4L1362.2 565.5L1363.2 565.6L1364.2 565.8L1365.2 565.9L1366.2 566.0L1367.2 566.1L1368.2 566.2L1369.2 566.4L1370.2 566.5L1371.2 566.6L1372.2 566.7L1373.2 566.8L1374.2 566.9L1375.2 567.0L1376.2 567.1L1377.2 567.2L1378.2 567.3L1379.2 567.4L1380.2 567.4L1381.2 567.5L1382.2 567.6L1383.2 567.7L1384.2 567.8L1385.2 567.9L1386.2 568.0L1387.2 568.1L1388.2 568.2L1389.2 568.2L1390.2 568.3L1391.2 568.5L1392.2 568.6L1393.2 568.7L1394.2 568.8L1395.2 569.0L1396.2 569.1L1397.2 569.3L1398.2 569.4L1399.2 569.6L1400.2 569.7L1401.2 569.9L1402.2 570.0L1403.2 570.1L1404.2 570.3L1405.2 570.4L1406.2 570.5L1407.2 570.6L1408.2 570.7L1409.2 570.8L1410.2 570.9L1411.2 570.9L1412.2 571.0L1413.2 571.0L1414.2 570.9L1415.2 570.9L1416.2 570.8L1417.2 570.8L1418.2 570.6L1419.2 570.5L1420.2 570.3L1421.2 570.2L1422.2 570.0L1423.2 569.8L1424.2 569.6L1425.2 569.3L1426.2 569.1L1427.2 568.9L1428.2 568.7L1429.2 568.5L1430.2 568.3L1431.2 568.1L1432.2 567.9L1433.2 567.7L1434.2 567.5L1435.2 567.4L1436.2 567.2L1437.2 567.0L1438.2 566.9L1439.2 566.7L1440.2 566.6L1441.2 566.4L1442.2 566.3L1443.2 566.2L1444.2 566.1L1445.2 566.0L1446.2 565.9L1447.2 565.9L1448.2 565.8L1449.2 565.8L1450.2 565.8L1451.2 565.9L1452.2 566.0L1453.2 566.1L1454.2 566.3L1455.2 566.4L1456.2 566.7L1457.2 566.9L1458.2 567.1L1459.2 567.4L1460.2 567.6L1461.2 567.9L1462.2 568.1L1463.2 568.3L1464.2 568.5L1465.2 568.6L1466.2 568.7L1467.2 568.8L1468.2 568.8L1469.2 568.8L1470.2 568.8L1471.2 568.8L1472.2 568.7L1473.2 568.6L1474.2 568.5L1475.2 568.4L1476.2 568.3L1477.2 568.2L1478.2 568.1L1479.2 568.0L1480.2 567.9L1481.2 567.8L1482.2 567.7L1483.2 567.6L1484.2 567.5L1485.2 567.5L1486.2 567.5L1487.2 567.5L1488.2 567.5L1489.2 567.5L1490.2 567.6L1491.2 567.6L1492.2 567.7L1493.2 567.8L1494.2 568.0L1495.2 568.1L1496.2 568.2L1497.2 568.4L1498.2 568.5L1499.2 568.7L1500.2 568.8L1501.2 569.0L1502.2 569.1L1503.2 569.3L1504.2 569.5L1505.2 569.6L1506.2 569.7L1507.2 569.9L1508.2 570.0L1509.2 570.1L1510.2 570.2L1511.2 570.3L1512.2 570.4L1513.2 570.5L1514.2 570.6L1515.2 570.7L1516.2 570.7L1517.2 570.8L1518.2 570.8L1519.2 570.8L1520.2 570.9L1521.2 570.9L1522.2 570.9L1523.2 570.9L1524.2 570.9L1525.2 570.9L1526.2 570.9L1527.2 570.9L1528.2 570.9L1529.2 570.9L1530.2 570.9L1531.2 570.9L1532.2 570.9L1533.2 570.9L1534.2 570.8L1535.2 570.8L1536.2 570.8L1537.2 570.8L1538.2 570.8L1539.2 570.7L1540.2 570.7L1541.2 570.7L1542.2 570.7L1543.2 570.7L1544.2 570.7L1545.2 570.7L1546.2 570.7L1547.2 570.7L1548.2 570.7L1549.2 570.7L1550.2 570.7L1551.2 570.8L1552.2 570.8L1553.2 570.8L1554.2 570.9L1555.2 570.9L1556.2 571.0L1557.2 571.0L1558.2 571.1L1559.2 571.2L1560.2 571.3L1561.2 571.3L1562.2 571.4L1563.2 571.5L1564.2 571.6L1565.2 571.6L1566.2 571.7L1567.2 571.8L1568.2 571.8L1569.2 571.9L1570.2 572.0L1571.2 572.0L1572.2 572.1L1573.2 572.1L1574.2 572.1L1575.2 572.2L1576.2 572.2L1577.2 572.2L1578.2 572.2L1579.2 572.2L1580.2 572.2L1581.2 572.2L1582.2 572.2L1583.2 572.2L1584.2 572.2L1585.2 572.1L1586.2 572.1L1587.2 572.1L1588.2 572.1L1589.2 572.0L1590.2 572.0L1591.2 572.0L1592.2 571.9L1593.2 571.9L1594.2 571.9L1595.2 571.8L1596.2 571.8L1597.2 571.8L1598.2 571.7L1599.2 571.7L1600.2 571.7L1601.2 571.7L1602.2 571.6L1603.2 571.6L1604.2 571.6L1605.2 571.6L1606.2 571.6L1607.2 571.6L1608.2 571.6L1609.2 571.6L1610.2 571.6L1611.2 571.7L1612.2 571.7L1613.2 571.7L1614.2 571.7L1615.2 571.8L1616.2 571.8L1617.2 571.8L1618.2 571.9L1619.2 571.9L1620.2 572.0L1621.2 572.0L1622.2 572.0L1623.2 572.1L1624.2 572.1L1625.2 572.2L1626.2 572.2L1627.2 572.3L1628.2 572.3L1629.2 572.4L1630.2 572.4L1631.2 572.5L1632.2 572.5L1633.2 572.6L1634.2 572.6L1635.2 572.6L1636.2 572.7L1637.2 572.7L1638.2 572.8L1639.2 572.8L1640.2 572.8L1641.2 572.9L1642.2 572.9L1643.2 572.9L1644.2 572.9L1645.2 573.0L1646.2 573.0L1647.2 573.0L1648.2 573.0L1649.2 573.0L1650.2 573.0L1651.2 573.0L1652.2 573.0L1653.2 573.0L1654.2 572.9L1655.2 572.9L1656.2 572.9L1657.2 572.9L1658.2 572.8L1659.2 572.8L1660.2 572.8L1661.2 572.8L1662.2 572.7L1663.2 572.7L1664.2 572.6L1665.2 572.6L1666.2 572.6L1667.2 572.5L1668.2 572.5L1669.2 572.4L1670.2 572.4L1671.2 572.4L1672.2 572.3L1673.2 572.3L1674.2 572.3L1675.2 572.2L1676.2 572.2L1677.2 572.2L1677.6 572.1" fill="none" stroke="#ee1ade" stroke-width="3.0" stroke-linejoin="round" stroke-linecap="round"/>
<path d="M965.2 664.2L966.2 663.3L967.2 663.1L968.2 662.8L969.2 662.6L970.2 662.2L971.2 661.8L972.2 661.4L973.2 660.9L974.2 660.4L975.2 659.8L976.2 659.2L977.2 658.5L978.2 657.7L979.2 656.9L980.2 656.0L981.2 655.0L982.2 653.9L983.2 652.7L984.2 651.4L985.2 650.2L986.2 648.8L987.2 647.5L988.2 646.1L989.2 644.7L990.2 643.3L991.2 641.9L992.2 640.5L993.2 639.1L994.2 637.7L995.2 636.3L996.2 635.0L997.2 633.6L998.2 632.3L999.2 631.0L1000.2 629.8L1001.2 628.5L1002.2 627.3L1003.2 626.2L1004.2 625.0L1005.2 624.0L1006.2 622.9L1007.2 621.9L1008.2 620.9L1009.2 619.9L1010.2 618.9L1011.2 617.9L1012.2 616.9L1013.2 615.8L1014.2 614.8L1015.2 613.7L1016.2 612.6L1017.2 611.5L1018.2 610.4L1019.2 609.2L1020.2 608.1L1021.2 607.1L1022.2 606.1L1023.2 605.1L1024.2 604.2L1025.2 603.3L1026.2 602.5L1027.2 601.7L1028.2 601.0L1029.2 600.4L1030.2 599.8L1031.2 599.2L1032.2 598.7L1033.2 598.2L1034.2 597.7L1035.2 597.1L1036.2 596.6L1037.2 596.0L1038.2 595.5L1039.2 594.9L1040.2 594.2L1041.2 593.6L1042.2 593.0L1043.2 592.4L1044.2 591.9L1045.2 591.3L1046.2 590.7L1047.2 590.2L1048.2 589.7L1049.2 589.2L1050.2 588.8L1051.2 588.4L1052.2 588.0L1053.2 587.6L1054.2 587.3L1055.2 587.1L1056.2 586.8L1057.2 586.7L1058.2 586.5L1059.2 586.4L1060.2 586.3L1061.2 586.3L1062.2 586.3L1063.2 586.3L1064.2 586.3L1065.2 586.4L1066.2 586.5L1067.2 586.7L1068.2 586.8L1069.2 587.0L1070.2 587.2L1071.2 587.5L1072.2 587.8L1073.2 588.2L1074.2 588.6L1075.2 589.0L1076.2 589.6L1077.2 590.2L1078.2 590.8L1079.2 591.5L1080.2 592.2L1081.2 593.0L1082.2 593.8L1083.2 594.6L1084.2 595.5L1085.2 596.4L1086.2 597.3L1087.2 598.4L1088.2 599.5L1089.2 600.6L1090.2 601.8L1091.2 603.1L1092.2 604.4L1093.2 605.8L1094.2 607.2L1095.2 608.5L1096.2 609.9L1097.2 611.2L1098.2 612.4L1099.2 613.5L1100.2 614.6L1101.2 615.7L1102.2 616.9L1103.2 618.1L1104.2 619.5L1105.2 621.0L1106.2 622.5L1107.2 624.0L1108.2 625.6L1109.2 627.2L1110.2 628.7L1111.2 630.2L1112.2 631.7L1113.2 633.1L1114.2 634.5L1115.2 635.8L1116.2 637.0L1117.2 638.2L1118.2 639.2L1119.2 640.1L1120.2 640.9L1121.2 641.7L1122.2 642.4L1123.2 643.1L1124.2 643.8L1125.2 644.4L1126.2 645.1L1127.2 645.7L1128.2 646.4L1129.2 647.0L1130.2 647.7L1131.2 648.3L1132.2 648.8L1133.2 649.4L1134.2 649.9L1135.2 650.5L1136.2 651.0L1137.2 651.4L1138.2 651.9L1139.2 652.3L1140.2 652.8L1141.2 653.2L1142.2 653.6L1143.2 653.9L1144.2 654.3L1145.2 654.6L1146.2 654.9L1147.2 655.3L1148.2 655.6L1149.2 655.9L1150.2 656.2L1151.2 656.5L1152.2 656.8L1153.2 657.1L1154.2 657.3L1155.2 657.6L1156.2 657.7L1157.2 657.9L1158.2 657.9L1159.2 657.9L1160.2 657.9L1161.2 657.9L1162.2 657.8L1163.2 657.8L1164.2 657.7L1165.2 657.7L1166.2 657.7L1167.2 657.7L1168.2 657.8L1169.2 657.8L1170.2 657.9L1171.2 657.9L1172.2 658.0L1173.2 658.0L1174.2 658.0L1175.2 658.0L1176.2 658.0L1177.2 658.0L1178.2 658.0L1179.2 657.9L1180.2 657.9L1181.2 657.8L1182.2 657.7L1183.2 657.7L1184.2 657.6L1185.2 657.4L1186.2 657.3L1187.2 657.2L1188.2 657.0L1189.2 656.9L1190.2 656.7L1191.2 656.5L1192.2 656.3L1193.2 656.1L1194.2 656.0L1195.2 655.8L1196.2 655.6L1197.2 655.4L1198.2 655.2L1199.2 655.0L1200.2 654.8L1201.2 654.6L1202.2 654.4L1203.2 654.2L1204.2 654.1L1205.2 653.9L1206.2 653.7L1207.2 653.5L1208.2 653.3L1209.2 653.1L1210.2 652.8L1211.2 652.6L1212.2 652.3L1213.2 652.1L1214.2 651.8L1215.2 651.4L1216.2 651.1L1217.2 650.7L1218.2 650.3L1219.2 649.8L1220.2 649.4L1221.2 648.9L1222.2 648.4L1223.2 647.9L1224.2 647.4L1225.2 646.9L1226.2 646.3L1227.2 645.8L1228.2 645.3L1229.2 644.8L1230.2 644.3L1231.2 643.7L1232.2 643.2L1233.2 642.7L1234.2 642.3L1235.2 641.8L1236.2 641.3L1237.2 640.9L1238.2 640.5L1239.2 640.2L1240.2 639.9L1241.2 639.6L1242.2 639.4L1243.2 639.3L1244.2 639.3L1245.2 639.3L1246.2 639.5L1247.2 639.7L1248.2 640.0L1249.2 640.4L1250.2 640.8L1251.2 641.3L1252.2 641.8L1253.2 642.4L1254.2 643.0L1255.2 643.7L1256.2 644.5L1257.2 645.3L1258.2 646.1L1259.2 647.0L1260.2 647.8L1261.2 648.7L1262.2 649.4L1263.2 650.1L1264.2 650.8L1265.2 651.4L1266.2 651.8L1267.2 652.3L1268.2 652.6L1269.2 652.9L1270.2 653.2L1271.2 653.4L1272.2 653.6L1273.2 653.8L1274.2 654.0L1275.2 654.2L1276.2 654.4L1277.2 654.6L1278.2 654.8L1279.2 655.0L1280.2 655.3L1281.2 655.5L1282.2 655.7L1283.2 655.9L1284.2 656.1L1285.2 656.3L1286.2 656.5L1287.2 656.8L1288.2 656.9L1289.2 657.1L1290.2 657.3L1291.2 657.5L1292.2 657.7L1293.2 657.9L1294.2 658.0L1295.2 658.2L1296.2 658.4L1297.2 658.5L1298.2 658.6L1299.2 658.8L1300.2 658.9L1301.2 659.0L1302.2 659.1L1303.2 659.2L1304.2 659.3L1305.2 659.4L1306.2 659.5L1307.2 659.6L1308.2 659.7L1309.2 659.7L1310.2 659.8L1311.2 659.9L1312.2 660.0L1313.2 660.0L1314.2 660.1L1315.2 660.2L1316.2 660.2L1317.2 660.3L1318.2 660.3L1319.2 660.4L1320.2 660.5L1321.2 660.5L1322.2 660.6L1323.2 660.7L1324.2 660.7L1325.2 660.8L1326.2 660.9L1327.2 661.0L1328.2 661.0L1329.2 661.1L1330.2 661.2L1331.2 661.2L1332.2 661.3L1333.2 661.4L1334.2 661.4L1335.2 661.5L1336.2 661.5L1337.2 661.6L1338.2 661.7L1339.2 661.7L1340.2 661.8L1341.2 661.8L1342.2 661.9L1343.2 661.9L1344.2 661.9L1345.2 662.0L1346.2 662.0L1347.2 662.0L1348.2 662.0L1349.2 662.0L1350.2 662.0L1351.2 662.0L1352.2 662.0L1353.2 662.0L1354.2 662.0L1355.2 662.0L1356.2 662.0L1357.2 662.0L1358.2 662.0L1359.2 662.0L1360.2 662.0L1361.2 662.0L1362.2 662.0L1363.2 662.0L1364.2 662.0L1365.2 662.0L1366.2 662.0L1367.2 662.0L1368.2 662.1L1369.2 662.1L1370.2 662.1L1371.2 662.2L1372.2 662.2L1373.2 662.3L1374.2 662.4L1375.2 662.4L1376.2 662.5L1377.2 662.6L1378.2 662.6L1379.2 662.7L1380.2 662.8L1381.2 662.9L1382.2 662.9L1383.2 663.0L1384.2 663.1L1385.2 663.2L1386.2 663.2L1387.2 663.3L1388.2 663.4L1389.2 663.4L1390.2 663.5L1391.2 663.6L1392.2 663.7L1393.2 663.7L1394.2 663.8L1395.2 663.9L1396.2 664.0L1397.2 664.0L1398.2 664.1L1399.2 664.2L1400.2 664.3L1401.2 664.4L1402.2 664.5L1403.2 664.5L1404.2 664.6L1405.2 664.7L1406.2 664.8L1407.2 664.8L1408.2 664.9L1409.2 665.0L1410.2 665.0L1411.2 665.1L1412.2 665.1L1413.2 665.2L1414.2 665.2L1415.2 665.3L1416.2 665.3L1417.2 665.3L1418.2 665.4L1419.2 665.4L1420.2 665.4L1421.2 665.4L1422.2 665.4L1423.2 665.3L1424.2 665.3L1425.2 665.3L1426.2 665.3L1427.2 665.2L1428.2 665.2L1429.2 665.1L1430.2 665.1L1431.2 665.0L1432.2 665.0L1433.2 664.9L1434.2 664.8L1435.2 664.8L1436.2 664.7L1437.2 664.6L1438.2 664.6L1439.2 664.5L1440.2 664.4L1441.2 664.3L1442.2 664.2L1443.2 664.2L1444.2 664.1L1445.2 664.0L1446.2 663.9L1447.2 663.8L1448.2 663.7L1449.2 663.7L1450.2 663.6L1451.2 663.5L1452.2 663.4L1453.2 663.3L1454.2 663.2L1455.2 663.1L1456.2 663.0L1457.2 662.9L1458.2 662.8L1459.2 662.7L1460.2 662.6L1461.2 662.5L1462.2 662.4L1463.2 662.3L1464.2 662.2L1465.2 662.1L1466.2 662.1L1467.2 662.0L1468.2 662.0L1469.2 662.0L1470.2 661.9L1471.2 661.9L1472.2 662.0L1473.2 662.0L1474.2 662.0L1475.2 662.1L1476.2 662.1L1477.2 662.2L1478.2 662.3L1479.2 662.4L1480.2 662.5L1481.2 662.6L1482.2 662.7L1483.2 662.9L1484.2 663.0L1485.2 663.1L1486.2 663.2L1487.2 663.4L1488.2 663.5L1489.2 663.6L1490.2 663.8L1491.2 663.9L1492.2 664.0L1493.2 664.1L1494.2 664.2L1495.2 664.3L1496.2 664.4L1497.2 664.5L1498.2 664.6L1499.2 664.7L1500.2 664.8L1501.2 664.8L1502.2 664.8L1503.2 664.9L1504.2 664.9L1505.2 664.9L1506.2 664.9L1507.2 664.9L1508.2 664.9L1509.2 664.9L1510.2 664.9L1511.2 664.9L1512.2 664.8L1513.2 664.8L1514.2 664.8L1515.2 664.7L1516.2 664.7L1517.2 664.6L1518.2 664.6L1519.2 664.5L1520.2 664.5L1521.2 664.4L1522.2 664.4L1523.2 664.3L1524.2 664.3L1525.2 664.2L1526.2 664.2L1527.2 664.1L1528.2 664.0L1529.2 664.0L1530.2 663.9L1531.2 663.9L1532.2 663.8L1533.2 663.8L1534.2 663.7L1535.2 663.7L1536.2 663.7L1537.2 663.6L1538.2 663.6L1539.2 663.5L1540.2 663.5L1541.2 663.5L1542.2 663.4L1543.2 663.4L1544.2 663.4L1545.2 663.3L1546.2 663.3L1547.2 663.3L1548.2 663.2L1549.2 663.2L1550.2 663.2L1551.2 663.1L1552.2 663.1L1553.2 663.1L1554.2 663.0L1555.2 663.0L1556.2 663.0L1557.2 662.9L1558.2 662.9L1559.2 662.9L1560.2 662.8L1561.2 662.8L1562.2 662.8L1563.2 662.7L1564.2 662.7L1565.2 662.7L1566.2 662.7L1567.2 662.6L1568.2 662.6L1569.2 662.6L1570.2 662.6L1571.2 662.5L1572.2 662.5L1573.2 662.5L1574.2 662.5L1575.2 662.5L1576.2 662.4L1577.2 662.4L1578.2 662.4L1579.2 662.4L1580.2 662.4L1581.2 662.4L1582.2 662.4L1583.2 662.4L1584.2 662.4L1585.2 662.4L1586.2 662.4L1587.2 662.4L1588.2 662.4L1589.2 662.4L1590.2 662.4L1591.2 662.4L1592.2 662.4L1593.2 662.5L1594.2 662.5L1595.2 662.5L1596.2 662.5L1597.2 662.6L1598.2 662.6L1599.2 662.6L1600.2 662.6L1601.2 662.7L1602.2 662.7L1603.2 662.7L1604.2 662.8L1605.2 662.8L1606.2 662.9L1607.2 662.9L1608.2 662.9L1609.2 663.0L1610.2 663.0L1611.2 663.1L1612.2 663.1L1613.2 663.1L1614.2 663.2L1615.2 663.2L1616.2 663.3L1617.2 663.3L1618.2 663.3L1619.2 663.4L1620.2 663.4L1621.2 663.5L1622.2 663.5L1623.2 663.5L1624.2 663.6L1625.2 663.6L1626.2 663.6L1627.2 663.7L1628.2 663.7L1629.2 663.8L1630.2 663.8L1631.2 663.9L1632.2 663.9L1633.2 663.9L1634.2 664.0L1635.2 664.0L1636.2 664.1L1637.2 664.1L1638.2 664.2L1639.2 664.2L1640.2 664.2L1641.2 664.3L1642.2 664.3L1643.2 664.3L1644.2 664.4L1645.2 664.4L1646.2 664.4L1647.2 664.4L1648.2 664.5L1649.2 664.5L1650.2 664.5L1651.2 664.5L1652.2 664.5L1653.2 664.5L1654.2 664.5L1655.2 664.4L1656.2 664.4L1657.2 664.4L1658.2 664.4L1659.2 664.4L1660.2 664.3L1661.2 664.3L1662.2 664.2L1663.2 664.2L1664.2 664.2L1665.2 664.1L1666.2 664.1L1667.2 664.0L1668.2 664.0L1669.2 664.0L1670.2 663.9L1671.2 663.9L1672.2 663.8L1673.2 663.8L1674.2 663.8L1675.2 663.7L1676.2 663.7L1677.2 663.7L1677.6 663.6" fill="none" stroke="#80050a" stroke-width="3.0" stroke-linejoin="round" stroke-linecap="round"/>
<path d="M965.2 746.2L966.2 745.6L967.2 745.5L968.2 745.4L969.2 745.2L970.2 745.0L971.2 744.8L972.2 744.5L973.2 744.2L974.2 743.8L975.2 743.3L976.2 742.8L977.2 742.3L978.2 741.7L979.2 741.0L980.2 740.3L981.2 739.6L982.2 738.8L983.2 738.0L984.2 737.1L985.2 736.2L986.2 735.2L987.2 734.2L988.2 733.1L989.2 731.9L990.2 730.7L991.2 729.5L992.2 728.2L993.2 726.9L994.2 725.6L995.2 724.4L996.2 723.1L997.2 721.9L998.2 720.7L999.2 719.6L1000.2 718.6L1001.2 717.6L1002.2 716.6L1003.2 715.7L1004.2 714.8L1005.2 713.9L1006.2 713.0L1007.2 712.1L1008.2 711.2L1009.2 710.2L1010.2 709.2L1011.2 708.1L1012.2 707.0L1013.2 705.9L1014.2 704.8L1015.2 703.7L1016.2 702.6L1017.2 701.6L1018.2 700.5L1019.2 699.5L1020.2 698.4L1021.2 697.3L1022.2 696.2L1023.2 695.1L1024.2 694.0L1025.2 692.9L1026.2 691.9L1027.2 690.9L1028.2 690.0L1029.2 689.2L1030.2 688.4L1031.2 687.7L1032.2 687.0L1033.2 686.4L1034.2 685.8L1035.2 685.2L1036.2 684.7L1037.2 684.2L1038.2 683.6L1039.2 683.1L1040.2 682.5L1041.2 681.8L1042.2 681.1L1043.2 680.3L1044.2 679.5L1045.2 678.7L1046.2 677.9L1047.2 677.2L1048.2 676.5L1049.2 675.9L1050.2 675.3L1051.2 674.8L1052.2 674.4L1053.2 674.0L1054.2 673.6L1055.2 673.3L1056.2 673.0L1057.2 672.7L1058.2 672.4L1059.2 672.1L1060.2 671.9L1061.2 671.7L1062.2 671.6L1063.2 671.4L1064.2 671.4L1065.2 671.3L1066.2 671.2L1067.2 671.2L1068.2 671.1L1069.2 671.1L1070.2 671.1L1071.2 671.1L1072.2 671.1L1073.2 671.1L1074.2 671.2L1075.2 671.3L1076.2 671.5L1077.2 671.7L1078.2 672.0L1079.2 672.3L1080.2 672.7L1081.2 673.2L1082.2 673.8L1083.2 674.5L1084.2 675.2L1085.2 676.0L1086.2 676.9L1087.2 677.9L1088.2 678.9L1089.2 679.9L1090.2 681.0L1091.2 682.1L1092.2 683.3L1093.2 684.4L1094.2 685.6L1095.2 686.8L1096.2 688.0L1097.2 689.2L1098.2 690.6L1099.2 692.0L1100.2 693.4L1101.2 694.9L1102.2 696.4L1103.2 697.9L1104.2 699.4L1105.2 700.8L1106.2 702.3L1107.2 703.7L1108.2 705.0L1109.2 706.4L1110.2 707.9L1111.2 709.3L1112.2 710.8L1113.2 712.3L1114.2 713.8L1115.2 715.3L1116.2 716.7L1117.2 718.2L1118.2 719.6L1119.2 720.9L1120.2 722.2L1121.2 723.4L1122.2 724.6L1123.2 725.6L1124.2 726.6L1125.2 727.5L1126.2 728.4L1127.2 729.2L1128.2 729.9L1129.2 730.6L1130.2 731.3L1131.2 731.9L1132.2 732.4L1133.2 732.9L1134.2 733.4L1135.2 733.8L1136.2 734.2L1137.2 734.6L1138.2 735.0L1139.2 735.4L1140.2 735.7L1141.2 736.0L1142.2 736.4L1143.2 736.7L1144.2 737.0L1145.2 737.3L1146.2 737.6L1147.2 737.9L1148.2 738.1L1149.2 738.4L1150.2 738.5L1151.2 738.7L1152.2 738.8L1153.2 738.9L1154.2 739.0L1155.2 739.1L1156.2 739.1L1157.2 739.1L1158.2 739.2L1159.2 739.2L1160.2 739.2L1161.2 739.1L1162.2 739.1L1163.2 739.1L1164.2 739.1L1165.2 739.1L1166.2 739.1L1167.2 739.2L1168.2 739.3L1169.2 739.4L1170.2 739.5L1171.2 739.7L1172.2 739.9L1173.2 740.1L1174.2 740.3L1175.2 740.5L1176.2 740.7L1177.2 740.9L1178.2 741.0L1179.2 741.2L1180.2 741.3L1181.2 741.3L1182.2 741.4L1183.2 741.4L1184.2 741.3L1185.2 741.3L1186.2 741.2L1187.2 741.1L1188.2 740.9L1189.2 740.7L1190.2 740.6L1191.2 740.4L1192.2 740.1L1193.2 739.9L1194.2 739.7L1195.2 739.5L1196.2 739.3L1197.2 739.1L1198.2 738.9L1199.2 738.7L1200.2 738.5L1201.2 738.4L1202.2 738.2L1203.2 738.1L1204.2 737.9L1205.2 737.8L1206.2 737.6L1207.2 737.5L1208.2 737.3L1209.2 737.2L1210.2 737.0L1211.2 736.9L1212.2 736.7L1213.2 736.6L1214.2 736.4L1215.2 736.2L1216.2 736.0L1217.2 735.8L1218.2 735.6L1219.2 735.3L1220.2 735.1L1221.2 734.8L1222.2 734.5L1223.2 734.2L1224.2 733.9L1225.2 733.6L1226.2 733.2L1227.2 732.9L1228.2 732.5L1229.2 732.1L1230.2 731.8L1231.2 731.4L1232.2 731.1L1233.2 730.7L1234.2 730.4L1235.2 730.1L1236.2 729.8L1237.2 729.5L1238.2 729.3L1239.2 729.1L1240.2 728.8L1241.2 728.7L1242.2 728.5L1243.2 728.3L1244.2 728.2L1245.2 728.0L1246.2 727.9L1247.2 727.8L1248.2 727.7L1249.2 727.7L1250.2 727.6L1251.2 727.6L1252.2 727.6L1253.2 727.6L1254.2 727.6L1255.2 727.7L1256.2 727.8L1257.2 727.9L1258.2 728.0L1259.2 728.1L1260.2 728.3L1261.2 728.5L1262.2 728.7L1263.2 728.9L1264.2 729.2L1265.2 729.5L1266.2 729.9L1267.2 730.2L1268.2 730.7L1269.2 731.1L1270.2 731.5L1271.2 732.0L1272.2 732.5L1273.2 733.0L1274.2 733.4L1275.2 733.9L1276.2 734.4L1277.2 734.9L1278.2 735.3L1279.2 735.8L1280.2 736.2L1281.2 736.6L1282.2 736.9L1283.2 737.3L1284.2 737.6L1285.2 737.9L1286.2 738.2L1287.2 738.5L1288.2 738.8L1289.2 739.0L1290.2 739.3L1291.2 739.5L1292.2 739.7L1293.2 740.0L1294.2 740.2L1295.2 740.4L1296.2 740.6L1297.2 740.8L1298.2 741.0L1299.2 741.1L1300.2 741.3L1301.2 741.5L1302.2 741.6L1303.2 741.8L1304.2 741.9L1305.2 742.0L1306.2 742.2L1307.2 742.3L1308.2 742.4L1309.2 742.5L1310.2 742.6L1311.2 742.6L1312.2 742.7L1313.2 742.8L1314.2 742.9L1315.2 742.9L1316.2 743.0L1317.2 743.0L1318.2 743.1L1319.2 743.2L1320.2 743.2L1321.2 743.3L1322.2 743.4L1323.2 743.5L1324.2 743.5L1325.2 743.6L1326.2 743.7L1327.2 743.8L1328.2 743.9L1329.2 744.0L1330.2 744.1L1331.2 744.2L1332.2 744.3L1333.2 744.4L1334.2 744.5L1335.2 744.6L1336.2 744.7L1337.2 744.8L1338.2 744.9L1339.2 745.0L1340.2 745.1L1341.2 745.2L1342.2 745.3L1343.2 745.3L1344.2 745.4L1345.2 745.5L1346.2 745.6L1347.2 745.7L1348.2 745.8L1349.2 745.8L1350.2 745.9L1351.2 746.0L1352.2 746.0L1353.2 746.1L1354.2 746.2L1355.2 746.2L1356.2 746.3L1357.2 746.3L1358.2 746.4L1359.2 746.4L1360.2 746.5L1361.2 746.5L1362.2 746.6L1363.2 746.6L1364.2 746.6L1365.2 746.7L1366.2 746.7L1367.2 746.7L1368.2 746.8L1369.2 746.8L1370.2 746.8L1371.2 746.8L1372.2 746.9L1373.2 746.9L1374.2 746.9L1375.2 746.9L1376.2 746.9L1377.2 746.9L1378.2 746.9L1379.2 746.9L1380.2 746.9L1381.2 746.8L1382.2 746.8L1383.2 746.8L1384.2 746.7L1385.2 746.6L1386.2 746.6L1387.2 746.5L1388.2 746.4L1389.2 746.3L1390.2 746.3L1391.2 746.2L1392.2 746.1L1393.2 746.1L1394.2 746.0L1395.2 746.0L1396.2 746.0L1397.2 746.0L1398.2 746.0L1399.2 746.0L1400.2 746.0L1401.2 746.1L1402.2 746.2L1403.2 746.3L1404.2 746.4L1405.2 746.6L1406.2 746.8L1407.2 746.9L1408.2 747.1L1409.2 747.3L1410.2 747.6L1411.2 747.8L1412.2 748.0L1413.2 748.3L1414.2 748.5L1415.2 748.7L1416.2 749.0L1417.2 749.2L1418.2 749.4L1419.2 749.6L1420.2 749.8L1421.2 750.0L1422.2 750.1L1423.2 750.3L1424.2 750.4L1425.2 750.5L1426.2 750.6L1427.2 750.7L1428.2 750.7L1429.2 750.8L1430.2 750.9L1431.2 750.9L1432.2 750.9L1433.2 750.9L1434.2 750.9L1435.2 750.9L1436.2 750.9L1437.2 750.9L1438.2 750.9L1439.2 750.9L1440.2 750.8L1441.2 750.8L1442.2 750.8L1443.2 750.7L1444.2 750.6L1445.2 750.6L1446.2 750.5L1447.2 750.5L1448.2 750.4L1449.2 750.3L1450.2 750.2L1451.2 750.2L1452.2 750.1L1453.2 750.0L1454.2 750.0L1455.2 749.9L1456.2 749.8L1457.2 749.7L1458.2 749.7L1459.2 749.6L1460.2 749.5L1461.2 749.5L1462.2 749.4L1463.2 749.4L1464.2 749.3L1465.2 749.3L1466.2 749.3L1467.2 749.2L1468.2 749.2L1469.2 749.2L1470.2 749.1L1471.2 749.1L1472.2 749.1L1473.2 749.1L1474.2 749.0L1475.2 749.0L1476.2 749.0L1477.2 748.9L1478.2 748.9L1479.2 748.9L1480.2 748.9L1481.2 748.8L1482.2 748.8L1483.2 748.8L1484.2 748.7L1485.2 748.7L1486.2 748.7L1487.2 748.7L1488.2 748.6L1489.2 748.6L1490.2 748.6L1491.2 748.6L1492.2 748.5L1493.2 748.5L1494.2 748.5L1495.2 748.5L1496.2 748.4L1497.2 748.4L1498.2 748.4L1499.2 748.4L1500.2 748.4L1501.2 748.4L1502.2 748.4L1503.2 748.3L1504.2 748.3L1505.2 748.3L1506.2 748.3L1507.2 748.3L1508.2 748.3L1509.2 748.3L1510.2 748.3L1511.2 748.3L1512.2 748.3L1513.2 748.3L1514.2 748.3L1515.2 748.3L1516.2 748.3L1517.2 748.4L1518.2 748.4L1519.2 748.4L1520.2 748.4L1521.2 748.4L1522.2 748.4L1523.2 748.5L1524.2 748.5L1525.2 748.5L1526.2 748.5L1527.2 748.6L1528.2 748.6L1529.2 748.6L1530.2 748.6L1531.2 748.7L1532.2 748.7L1533.2 748.7L1534.2 748.8L1535.2 748.8L1536.2 748.8L1537.2 748.9L1538.2 748.9L1539.2 748.9L1540.2 749.0L1541.2 749.0L1542.2 749.0L1543.2 749.1L1544.2 749.1L1545.2 749.2L1546.2 749.2L1547.2 749.2L1548.2 749.3L1549.2 749.3L1550.2 749.3L1551.2 749.4L1552.2 749.4L1553.2 749.4L1554.2 749.5L1555.2 749.5L1556.2 749.5L1557.2 749.6L1558.2 749.6L1559.2 749.6L1560.2 749.7L1561.2 749.7L1562.2 749.7L1563.2 749.8L1564.2 749.8L1565.2 749.8L1566.2 749.8L1567.2 749.9L1568.2 749.9L1569.2 749.9L1570.2 750.0L1571.2 750.0L1572.2 750.0L1573.2 750.1L1574.2 750.1L1575.2 750.1L1576.2 750.2L1577.2 750.2L1578.2 750.2L1579.2 750.3L1580.2 750.3L1581.2 750.3L1582.2 750.4L1583.2 750.4L1584.2 750.5L1585.2 750.5L1586.2 750.6L1587.2 750.6L1588.2 750.7L1589.2 750.7L1590.2 750.8L1591.2 750.8L1592.2 750.9L1593.2 750.9L1594.2 751.0L1595.2 751.1L1596.2 751.1L1597.2 751.2L1598.2 751.3L1599.2 751.3L1600.2 751.4L1601.2 751.5L1602.2 751.6L1603.2 751.7L1604.2 751.8L1605.2 751.9L1606.2 752.0L1607.2 752.1L1608.2 752.2L1609.2 752.3L1610.2 752.4L1611.2 752.5L1612.2 752.6L1613.2 752.7L1614.2 752.9L1615.2 753.0L1616.2 753.1L1617.2 753.2L1618.2 753.3L1619.2 753.4L1620.2 753.5L1621.2 753.6L1622.2 753.8L1623.2 753.9L1624.2 754.0L1625.2 754.1L1626.2 754.2L1627.2 754.3L1628.2 754.3L1629.2 754.4L1630.2 754.5L1631.2 754.6L1632.2 754.7L1633.2 754.7L1634.2 754.8L1635.2 754.9L1636.2 754.9L1637.2 755.0L1638.2 755.0L1639.2 755.1L1640.2 755.1L1641.2 755.2L1642.2 755.2L1643.2 755.2L1644.2 755.3L1645.2 755.3L1646.2 755.3L1647.2 755.3L1648.2 755.3L1649.2 755.4L1650.2 755.4L1651.2 755.4L1652.2 755.4L1653.2 755.4L1654.2 755.4L1655.2 755.4L1656.2 755.4L1657.2 755.5L1658.2 755.5L1659.2 755.5L1660.2 755.5L1661.2 755.5L1662.2 755.5L1663.2 755.5L1664.2 755.5L1665.2 755.5L1666.2 755.5L1667.2 755.5L1668.2 755.5L1669.2 755.5L1670.2 755.5L1671.2 755.5L1672.2 755.5L1673.2 755.5L1674.2 755.5L1675.2 755.6L1676.2 755.6L1677.2 755.6L1677.6 755.6" fill="none" stroke="#007878" stroke-width="3.0" stroke-linejoin="round" stroke-linecap="round"/>
<path d="M965.2 841.6L966.2 840.6L967.2 840.3L968.2 840.0L969.2 839.6L970.2 839.1L971.2 838.5L972.2 837.9L973.2 837.2L974.2 836.5L975.2 835.7L976.2 834.9L977.2 834.0L978.2 833.2L979.2 832.3L980.2 831.3L981.2 830.3L982.2 829.2L983.2 828.0L984.2 826.8L985.2 825.5L986.2 824.2L987.2 822.8L988.2 821.5L989.2 820.1L990.2 818.8L991.2 817.6L992.2 816.3L993.2 815.1L994.2 813.9L995.2 812.8L996.2 811.6L997.2 810.4L998.2 809.3L999.2 808.1L1000.2 807.0L1001.2 805.9L1002.2 804.8L1003.2 803.7L1004.2 802.6L1005.2 801.6L1006.2 800.6L1007.2 799.6L1008.2 798.6L1009.2 797.6L1010.2 796.6L1011.2 795.6L1012.2 794.7L1013.2 793.7L1014.2 792.8L1015.2 791.9L1016.2 791.1L1017.2 790.3L1018.2 789.6L1019.2 788.9L1020.2 788.2L1021.2 787.5L1022.2 786.8L1023.2 786.2L1024.2 785.4L1025.2 784.7L1026.2 783.9L1027.2 783.1L1028.2 782.3L1029.2 781.5L1030.2 780.6L1031.2 779.8L1032.2 778.9L1033.2 778.1L1034.2 777.2L1035.2 776.3L1036.2 775.4L1037.2 774.6L1038.2 773.7L1039.2 772.9L1040.2 772.0L1041.2 771.2L1042.2 770.5L1043.2 769.7L1044.2 768.9L1045.2 768.2L1046.2 767.5L1047.2 766.9L1048.2 766.2L1049.2 765.6L1050.2 765.0L1051.2 764.4L1052.2 763.9L1053.2 763.4L1054.2 762.9L1055.2 762.4L1056.2 761.9L1057.2 761.5L1058.2 761.0L1059.2 760.7L1060.2 760.3L1061.2 760.1L1062.2 759.9L1063.2 759.7L1064.2 759.7L1065.2 759.6L1066.2 759.7L1067.2 759.8L1068.2 759.9L1069.2 760.1L1070.2 760.3L1071.2 760.7L1072.2 761.1L1073.2 761.6L1074.2 762.2L1075.2 762.9L1076.2 763.6L1077.2 764.4L1078.2 765.2L1079.2 766.1L1080.2 767.0L1081.2 768.0L1082.2 769.0L1083.2 770.1L1084.2 771.2L1085.2 772.4L1086.2 773.6L1087.2 774.9L1088.2 776.3L1089.2 777.8L1090.2 779.3L1091.2 781.0L1092.2 782.7L1093.2 784.5L1094.2 786.4L1095.2 788.3L1096.2 790.3L1097.2 792.2L1098.2 794.0L1099.2 795.8L1100.2 797.6L1101.2 799.3L1102.2 800.9L1103.2 802.5L1104.2 804.1L1105.2 805.6L1106.2 807.1L1107.2 808.5L1108.2 809.9L1109.2 811.2L1110.2 812.4L1111.2 813.6L1112.2 814.6L1113.2 815.5L1114.2 816.3L1115.2 817.1L1116.2 817.7L1117.2 818.3L1118.2 818.8L1119.2 819.2L1120.2 819.6L1121.2 820.0L1122.2 820.4L1123.2 820.7L1124.2 821.1L1125.2 821.5L1126.2 821.9L1127.2 822.2L1128.2 822.6L1129.2 822.9L1130.2 823.2L1131.2 823.5L1132.2 823.8L1133.2 824.1L1134.2 824.3L1135.2 824.5L1136.2 824.7L1137.2 824.9L1138.2 825.0L1139.2 825.2L1140.2 825.3L1141.2 825.3L1142.2 825.3L1143.2 825.3L1144.2 825.2L1145.2 825.2L1146.2 825.1L1147.2 825.0L1148.2 824.9L1149.2 824.8L1150.2 824.7L1151.2 824.7L1152.2 824.7L1153.2 824.7L1154.2 824.8L1155.2 824.8L1156.2 825.0L1157.2 825.1L1158.2 825.3L1159.2 825.5L1160.2 825.8L1161.2 826.1L1162.2 826.4L1163.2 826.8L1164.2 827.1L1165.2 827.5L1166.2 827.8L1167.2 828.0L1168.2 828.2L1169.2 828.3L1170.2 828.4L1171.2 828.4L1172.2 828.5L1173.2 828.5L1174.2 828.6L1175.2 828.7L1176.2 828.8L1177.2 828.9L1178.2 829.1L1179.2 829.3L1180.2 829.5L1181.2 829.8L1182.2 830.0L1183.2 830.2L1184.2 830.5L1185.2 830.7L1186.2 830.9L1187.2 831.1L1188.2 831.2L1189.2 831.2L1190.2 831.2L1191.2 831.2L1192.2 831.1L1193.2 831.0L1194.2 831.0L1195.2 831.0L1196.2 830.9L1197.2 830.9L1198.2 831.0L1199.2 831.0L1200.2 831.1L1201.2 831.1L1202.2 831.2L1203.2 831.2L1204.2 831.3L1205.2 831.3L1206.2 831.2L1207.2 831.1L1208.2 831.0L1209.2 830.9L1210.2 830.7L1211.2 830.5L1212.2 830.3L1213.2 830.0L1214.2 829.7L1215.2 829.4L1216.2 829.1L1217.2 828.7L1218.2 828.4L1219.2 828.0L1220.2 827.5L1221.2 827.1L1222.2 826.7L1223.2 826.2L1224.2 825.7L1225.2 825.2L1226.2 824.6L1227.2 824.0L1228.2 823.4L1229.2 822.8L1230.2 822.2L1231.2 821.5L1232.2 820.9L1233.2 820.3L1234.2 819.7L1235.2 819.1L1236.2 818.5L1237.2 817.9L1238.2 817.4L1239.2 816.9L1240.2 816.3L1241.2 815.8L1242.2 815.3L1243.2 814.9L1244.2 814.4L1245.2 814.0L1246.2 813.6L1247.2 813.2L1248.2 812.9L1249.2 812.6L1250.2 812.4L1251.2 812.2L1252.2 812.1L1253.2 812.0L1254.2 812.0L1255.2 812.0L1256.2 812.0L1257.2 812.1L1258.2 812.1L1259.2 812.2L1260.2 812.3L1261.2 812.4L1262.2 812.6L1263.2 812.7L1264.2 812.8L1265.2 813.0L1266.2 813.2L1267.2 813.3L1268.2 813.5L1269.2 813.7L1270.2 813.9L1271.2 814.2L1272.2 814.4L1273.2 814.6L1274.2 814.9L1275.2 815.1L1276.2 815.4L1277.2 815.7L1278.2 816.0L1279.2 816.3L1280.2 816.6L1281.2 816.9L1282.2 817.1L1283.2 817.4L1284.2 817.6L1285.2 817.8L1286.2 818.0L1287.2 818.1L1288.2 818.2L1289.2 818.2L1290.2 818.2L1291.2 818.2L1292.2 818.2L1293.2 818.2L1294.2 818.2L1295.2 818.1L1296.2 818.1L1297.2 818.1L1298.2 818.2L1299.2 818.2L1300.2 818.2L1301.2 818.3L1302.2 818.3L1303.2 818.4L1304.2 818.4L1305.2 818.5L1306.2 818.7L1307.2 818.8L1308.2 819.0L1309.2 819.2L1310.2 819.5L1311.2 819.8L1312.2 820.1L1313.2 820.5L1314.2 820.9L1315.2 821.4L1316.2 821.9L1317.2 822.4L1318.2 823.0L1319.2 823.5L1320.2 824.0L1321.2 824.6L1322.2 825.1L1323.2 825.6L1324.2 826.0L1325.2 826.5L1326.2 826.9L1327.2 827.3L1328.2 827.7L1329.2 828.0L1330.2 828.3L1331.2 828.7L1332.2 829.0L1333.2 829.3L1334.2 829.5L1335.2 829.8L1336.2 830.0L1337.2 830.3L1338.2 830.5L1339.2 830.6L1340.2 830.8L1341.2 830.9L1342.2 831.1L1343.2 831.2L1344.2 831.2L1345.2 831.3L1346.2 831.3L1347.2 831.4L1348.2 831.4L1349.2 831.4L1350.2 831.4L1351.2 831.3L1352.2 831.3L1353.2 831.3L1354.2 831.2L1355.2 831.2L1356.2 831.2L1357.2 831.2L1358.2 831.1L1359.2 831.1L1360.2 831.1L1361.2 831.1L1362.2 831.1L1363.2 831.1L1364.2 831.0L1365.2 831.0L1366.2 831.0L1367.2 831.0L1368.2 831.0L1369.2 830.9L1370.2 830.9L1371.2 830.9L1372.2 830.8L1373.2 830.8L1374.2 830.8L1375.2 830.8L1376.2 830.8L1377.2 830.7L1378.2 830.7L1379.2 830.7L1380.2 830.7L1381.2 830.7L1382.2 830.8L1383.2 830.8L1384.2 830.8L1385.2 830.8L1386.2 830.9L1387.2 830.9L1388.2 831.0L1389.2 831.1L1390.2 831.1L1391.2 831.2L1392.2 831.3L1393.2 831.4L1394.2 831.4L1395.2 831.5L1396.2 831.6L1397.2 831.7L1398.2 831.8L1399.2 831.8L1400.2 831.9L1401.2 832.0L1402.2 832.1L1403.2 832.1L1404.2 832.2L1405.2 832.2L1406.2 832.3L1407.2 832.3L1408.2 832.4L1409.2 832.4L1410.2 832.4L1411.2 832.4L1412.2 832.4L1413.2 832.4L1414.2 832.3L1415.2 832.3L1416.2 832.2L1417.2 832.2L1418.2 832.1L1419.2 832.0L1420.2 831.8L1421.2 831.7L1422.2 831.6L1423.2 831.4L1424.2 831.2L1425.2 831.0L1426.2 830.8L1427.2 830.6L1428.2 830.4L1429.2 830.1L1430.2 829.9L1431.2 829.7L1432.2 829.4L1433.2 829.2L1434.2 829.0L1435.2 828.7L1436.2 828.5L1437.2 828.3L1438.2 828.1L1439.2 827.9L1440.2 827.7L1441.2 827.6L1442.2 827.4L1443.2 827.3L1444.2 827.1L1445.2 827.0L1446.2 826.9L1447.2 826.7L1448.2 826.6L1449.2 826.5L1450.2 826.4L1451.2 826.3L1452.2 826.2L1453.2 826.2L1454.2 826.1L1455.2 826.0L1456.2 825.9L1457.2 825.9L1458.2 825.8L1459.2 825.8L1460.2 825.7L1461.2 825.7L1462.2 825.6L1463.2 825.6L1464.2 825.6L1465.2 825.5L1466.2 825.5L1467.2 825.5L1468.2 825.5L1469.2 825.5L1470.2 825.4L1471.2 825.4L1472.2 825.4L1473.2 825.4L1474.2 825.4L1475.2 825.4L1476.2 825.4L1477.2 825.4L1478.2 825.5L1479.2 825.5L1480.2 825.5L1481.2 825.5L1482.2 825.6L1483.2 825.6L1484.2 825.6L1485.2 825.7L1486.2 825.7L1487.2 825.8L1488.2 825.8L1489.2 825.9L1490.2 825.9L1491.2 826.0L1492.2 826.0L1493.2 826.1L1494.2 826.1L1495.2 826.2L1496.2 826.3L1497.2 826.4L1498.2 826.4L1499.2 826.5L1500.2 826.6L1501.2 826.7L1502.2 826.8L1503.2 826.9L1504.2 827.0L1505.2 827.1L1506.2 827.3L1507.2 827.4L1508.2 827.5L1509.2 827.6L1510.2 827.7L1511.2 827.9L1512.2 828.0L1513.2 828.1L1514.2 828.2L1515.2 828.3L1516.2 828.5L1517.2 828.6L1518.2 828.7L1519.2 828.8L1520.2 828.9L1521.2 829.0L1522.2 829.1L1523.2 829.1L1524.2 829.2L1525.2 829.3L1526.2 829.4L1527.2 829.4L1528.2 829.5L1529.2 829.5L1530.2 829.5L1531.2 829.5L1532.2 829.5L1533.2 829.5L1534.2 829.5L1535.2 829.5L1536.2 829.4L1537.2 829.4L1538.2 829.3L1539.2 829.2L1540.2 829.1L1541.2 829.0L1542.2 828.9L1543.2 828.8L1544.2 828.7L1545.2 828.6L1546.2 828.5L1547.2 828.3L1548.2 828.2L1549.2 828.1L1550.2 828.0L1551.2 827.9L1552.2 827.8L1553.2 827.7L1554.2 827.6L1555.2 827.5L1556.2 827.5L1557.2 827.4L1558.2 827.4L1559.2 827.4L1560.2 827.4L1561.2 827.4L1562.2 827.5L1563.2 827.5L1564.2 827.6L1565.2 827.7L1566.2 827.8L1567.2 828.0L1568.2 828.1L1569.2 828.3L1570.2 828.4L1571.2 828.6L1572.2 828.7L1573.2 828.9L1574.2 829.0L1575.2 829.1L1576.2 829.2L1577.2 829.3L1578.2 829.4L1579.2 829.5L1580.2 829.5L1581.2 829.5L1582.2 829.5L1583.2 829.5L1584.2 829.5L1585.2 829.5L1586.2 829.4L1587.2 829.4L1588.2 829.3L1589.2 829.3L1590.2 829.2L1591.2 829.1L1592.2 829.1L1593.2 829.0L1594.2 828.9L1595.2 828.8L1596.2 828.7L1597.2 828.6L1598.2 828.5L1599.2 828.5L1600.2 828.4L1601.2 828.3L1602.2 828.2L1603.2 828.2L1604.2 828.1L1605.2 828.0L1606.2 828.0L1607.2 827.9L1608.2 827.9L1609.2 827.8L1610.2 827.8L1611.2 827.7L1612.2 827.7L1613.2 827.7L1614.2 827.6L1615.2 827.6L1616.2 827.5L1617.2 827.5L1618.2 827.4L1619.2 827.4L1620.2 827.3L1621.2 827.3L1622.2 827.2L1623.2 827.2L1624.2 827.2L1625.2 827.1L1626.2 827.1L1627.2 827.0L1628.2 827.0L1629.2 827.0L1630.2 827.0L1631.2 826.9L1632.2 826.9L1633.2 826.9L1634.2 826.9L1635.2 826.9L1636.2 826.9L1637.2 826.9L1638.2 826.9L1639.2 826.9L1640.2 826.9L1641.2 827.0L1642.2 827.0L1643.2 827.1L1644.2 827.1L1645.2 827.2L1646.2 827.2L1647.2 827.3L1648.2 827.4L1649.2 827.4L1650.2 827.5L1651.2 827.6L1652.2 827.7L1653.2 827.8L1654.2 827.9L1655.2 828.0L1656.2 828.1L1657.2 828.2L1658.2 828.3L1659.2 828.5L1660.2 828.6L1661.2 828.7L1662.2 828.8L1663.2 829.0L1664.2 829.1L1665.2 829.2L1666.2 829.3L1667.2 829.5L1668.2 829.6L1669.2 829.7L1670.2 829.8L1671.2 829.9L1672.2 830.1L1673.2 830.2L1674.2 830.2L1675.2 830.3L1676.2 830.4L1677.2 830.4L1677.6 830.7" fill="none" stroke="#000080" stroke-width="3.0" stroke-linejoin="round" stroke-linecap="round"/></g>
<line x1="70.70" y1="22.10" x2="783.40" y2="22.10" stroke="#000" stroke-width="2.50"/><line x1="70.70" y1="858.50" x2="783.40" y2="858.50" stroke="#222" stroke-width="1.50"/><line x1="70.70" y1="20.85" x2="70.70" y2="859.25" stroke="#000" stroke-width="2.50"/><line x1="783.40" y1="20.85" x2="783.40" y2="859.25" stroke="#000" stroke-width="2.50"/>
<line x1="965.20" y1="22.10" x2="1677.90" y2="22.10" stroke="#000" stroke-width="2.60"/><line x1="965.20" y1="387.60" x2="1677.90" y2="387.60" stroke="#000" stroke-width="2.60"/><line x1="965.20" y1="20.80" x2="965.20" y2="388.90" stroke="#000" stroke-width="2.60"/><line x1="1677.90" y1="20.80" x2="1677.90" y2="388.90" stroke="#000" stroke-width="2.60"/>
<line x1="965.20" y1="472.40" x2="1677.80" y2="472.40" stroke="#000" stroke-width="2.60"/><line x1="965.20" y1="855.20" x2="1677.80" y2="855.20" stroke="#000" stroke-width="2.60"/><line x1="965.20" y1="471.10" x2="965.20" y2="856.50" stroke="#000" stroke-width="2.60"/><line x1="1677.80" y1="471.10" x2="1677.80" y2="856.50" stroke="#000" stroke-width="2.60"/>
<line x1="70.70" y1="858.50" x2="70.70" y2="862.50" stroke="#222" stroke-width="1.50"/>
<line x1="135.49" y1="858.50" x2="135.49" y2="866.90" stroke="#222" stroke-width="1.50"/>
<text transform="translate(135.49 891.10) scale(1 1.020)" font-size="24.5" text-anchor="middle">100</text>
<line x1="200.28" y1="858.50" x2="200.28" y2="862.50" stroke="#222" stroke-width="1.50"/>
<line x1="265.07" y1="858.50" x2="265.07" y2="866.90" stroke="#222" stroke-width="1.50"/>
<text transform="translate(265.07 891.10) scale(1 1.020)" font-size="24.5" text-anchor="middle">200</text>
<line x1="329.86" y1="858.50" x2="329.86" y2="862.50" stroke="#222" stroke-width="1.50"/>
<line x1="394.65" y1="858.50" x2="394.65" y2="866.90" stroke="#222" stroke-width="1.50"/>
<text transform="translate(394.65 891.10) scale(1 1.020)" font-size="24.5" text-anchor="middle">300</text>
<line x1="459.45" y1="858.50" x2="459.45" y2="862.50" stroke="#222" stroke-width="1.50"/>
<line x1="524.24" y1="858.50" x2="524.24" y2="866.90" stroke="#222" stroke-width="1.50"/>
<text transform="translate(524.24 891.10) scale(1 1.020)" font-size="24.5" text-anchor="middle">400</text>
<line x1="589.03" y1="858.50" x2="589.03" y2="862.50" stroke="#222" stroke-width="1.50"/>
<line x1="653.82" y1="858.50" x2="653.82" y2="866.90" stroke="#222" stroke-width="1.50"/>
<text transform="translate(653.82 891.10) scale(1 1.020)" font-size="24.5" text-anchor="middle">500</text>
<line x1="718.61" y1="858.50" x2="718.61" y2="862.50" stroke="#222" stroke-width="1.50"/>
<line x1="783.40" y1="858.50" x2="783.40" y2="866.90" stroke="#222" stroke-width="1.50"/>
<text transform="translate(783.40 891.10) scale(1 1.020)" font-size="24.5" text-anchor="middle">600</text>
<line x1="965.20" y1="387.60" x2="965.20" y2="394.60" stroke="#000" stroke-width="2.80"/>
<line x1="1029.99" y1="387.60" x2="1029.99" y2="400.60" stroke="#000" stroke-width="2.80"/>
<text transform="translate(1029.99 428.50) scale(1 1.000)" font-size="24.5" text-anchor="middle">100</text>
<line x1="1094.78" y1="387.60" x2="1094.78" y2="394.60" stroke="#000" stroke-width="2.80"/>
<line x1="1159.57" y1="387.60" x2="1159.57" y2="400.60" stroke="#000" stroke-width="2.80"/>
<text transform="translate(1159.57 428.50) scale(1 1.000)" font-size="24.5" text-anchor="middle">200</text>
<line x1="1224.36" y1="387.60" x2="1224.36" y2="394.60" stroke="#000" stroke-width="2.80"/>
<line x1="1289.15" y1="387.60" x2="1289.15" y2="400.60" stroke="#000" stroke-width="2.80"/>
<text transform="translate(1289.15 428.50) scale(1 1.000)" font-size="24.5" text-anchor="middle">300</text>
<line x1="1353.95" y1="387.60" x2="1353.95" y2="394.60" stroke="#000" stroke-width="2.80"/>
<line x1="1418.74" y1="387.60" x2="1418.74" y2="400.60" stroke="#000" stroke-width="2.80"/>
<text transform="translate(1418.74 428.50) scale(1 1.000)" font-size="24.5" text-anchor="middle">400</text>
<line x1="1483.53" y1="387.60" x2="1483.53" y2="394.60" stroke="#000" stroke-width="2.80"/>
<line x1="1548.32" y1="387.60" x2="1548.32" y2="400.60" stroke="#000" stroke-width="2.80"/>
<text transform="translate(1548.32 428.50) scale(1 1.000)" font-size="24.5" text-anchor="middle">500</text>
<line x1="1613.11" y1="387.60" x2="1613.11" y2="394.60" stroke="#000" stroke-width="2.80"/>
<line x1="1677.90" y1="387.60" x2="1677.90" y2="400.60" stroke="#000" stroke-width="2.80"/>
<text transform="translate(1677.90 428.50) scale(1 1.000)" font-size="24.5" text-anchor="middle">600</text>
<line x1="965.20" y1="855.20" x2="965.20" y2="863.50" stroke="#000" stroke-width="2.80"/>
<line x1="1029.98" y1="855.20" x2="1029.98" y2="869.70" stroke="#000" stroke-width="2.80"/>
<text transform="translate(1029.98 897.10) scale(1 1.000)" font-size="24.5" text-anchor="middle">100</text>
<line x1="1094.76" y1="855.20" x2="1094.76" y2="863.50" stroke="#000" stroke-width="2.80"/>
<line x1="1159.55" y1="855.20" x2="1159.55" y2="869.70" stroke="#000" stroke-width="2.80"/>
<text transform="translate(1159.55 897.10) scale(1 1.000)" font-size="24.5" text-anchor="middle">200</text>
<line x1="1224.33" y1="855.20" x2="1224.33" y2="863.50" stroke="#000" stroke-width="2.80"/>
<line x1="1289.11" y1="855.20" x2="1289.11" y2="869.70" stroke="#000" stroke-width="2.80"/>
<text transform="translate(1289.11 897.10) scale(1 1.000)" font-size="24.5" text-anchor="middle">300</text>
<line x1="1353.89" y1="855.20" x2="1353.89" y2="863.50" stroke="#000" stroke-width="2.80"/>
<line x1="1418.67" y1="855.20" x2="1418.67" y2="869.70" stroke="#000" stroke-width="2.80"/>
<text transform="translate(1418.67 897.10) scale(1 1.000)" font-size="24.5" text-anchor="middle">400</text>
<line x1="1483.45" y1="855.20" x2="1483.45" y2="863.50" stroke="#000" stroke-width="2.80"/>
<line x1="1548.24" y1="855.20" x2="1548.24" y2="869.70" stroke="#000" stroke-width="2.80"/>
<text transform="translate(1548.24 897.10) scale(1 1.000)" font-size="24.5" text-anchor="middle">500</text>
<line x1="1613.02" y1="855.20" x2="1613.02" y2="863.50" stroke="#000" stroke-width="2.80"/>
<line x1="1677.80" y1="855.20" x2="1677.80" y2="869.70" stroke="#000" stroke-width="2.80"/>
<text transform="translate(1677.80 897.10) scale(1 1.000)" font-size="24.5" text-anchor="middle">600</text>
<text x="448.8" y="924.8" font-size="36.5" text-anchor="middle">Temperature (°C)</text>
<text x="1350.2" y="457.1" font-size="36.5" text-anchor="middle">Temperature (°C)</text>
<text x="1360.3" y="926.2" font-size="36.5" text-anchor="middle">Temperature (°C)</text>
<text transform="translate(43 450.3) rotate(-90)" font-size="40" text-anchor="middle">Intensity(a.u.)</text>
<text transform="translate(934.4 222.3) rotate(-90)" font-size="40" text-anchor="middle">Intensity(a.u.)</text>
<text transform="translate(936.3 657.5) rotate(-90)" font-size="40" text-anchor="middle">Intensity(a.u.)</text>
<text x="729.6" y="81.5" font-size="42">A</text>
<text x="1636.4" y="68.6" font-size="43">B</text>
<text x="1640.4" y="518.2" font-size="43">C</text>
<text transform="translate(607.1 152.4) scale(1 1.04)" font-size="33.6">CeO<tspan font-size="19" dy="12.5">2</tspan><tspan dy="-12.5"></tspan></text>
<text transform="translate(564.0 295.1) scale(1 1.04)" font-size="33.6">CeO<tspan font-size="19" dy="12.5">2</tspan><tspan dy="-12.5">-H450</tspan></text>
<text transform="translate(561.4 428.3) scale(1 1.04)" font-size="33.6">CeO<tspan font-size="19" dy="12.5">2</tspan><tspan dy="-12.5">-H550</tspan></text>
<text transform="translate(565.0 560.3) scale(1 1.04)" font-size="33.6">CeO<tspan font-size="19" dy="12.5">2</tspan><tspan dy="-12.5">-H650</tspan></text>
<text transform="translate(559.2 691.0) scale(1 1.04)" font-size="33.6">CeO<tspan font-size="19" dy="12.5">2</tspan><tspan dy="-12.5">-H750</tspan></text>
<text transform="translate(561.4 805.2) scale(1 1.04)" font-size="33.6">CeO<tspan font-size="19" dy="12.5">2</tspan><tspan dy="-12.5">-H800</tspan></text>
<text transform="translate(1450.5 83.7) scale(1 1.04)" font-size="33.6">CeO<tspan font-size="19" dy="12.5">2</tspan><tspan dy="-12.5">-H550</tspan></text>
<text transform="translate(1406.7 162.5) scale(1 1.04)" font-size="33.6">CeO<tspan font-size="19" dy="12.5">2</tspan><tspan dy="-12.5">-H550-O350</tspan></text>
<text transform="translate(1399.4 252.5) scale(1 1.04)" font-size="33.6">CeO<tspan font-size="19" dy="12.5">2</tspan><tspan dy="-12.5">-H550-O450</tspan></text>
<text transform="translate(1399.4 334.2) scale(1 1.04)" font-size="33.6">CeO<tspan font-size="19" dy="12.5">2</tspan><tspan dy="-12.5">-H550-O550</tspan></text>
<text transform="translate(1447.8 545.9) scale(1 1.04)" font-size="33.6">CeO<tspan font-size="19" dy="12.5">2</tspan><tspan dy="-12.5">-H750</tspan></text>
<text transform="translate(1400.7 636.0) scale(1 1.04)" font-size="33.6">CeO<tspan font-size="19" dy="12.5">2</tspan><tspan dy="-12.5">-H750-O350</tspan></text>
<text transform="translate(1396.1 723.6) scale(1 1.04)" font-size="33.6">CeO<tspan font-size="19" dy="12.5">2</tspan><tspan dy="-12.5">-H750-O450</tspan></text>
<text transform="translate(1397.2 804.6) scale(1 1.04)" font-size="33.6">CeO<tspan font-size="19" dy="12.5">2</tspan><tspan dy="-12.5">-H750-O550</tspan></text>
</svg></body></html>
